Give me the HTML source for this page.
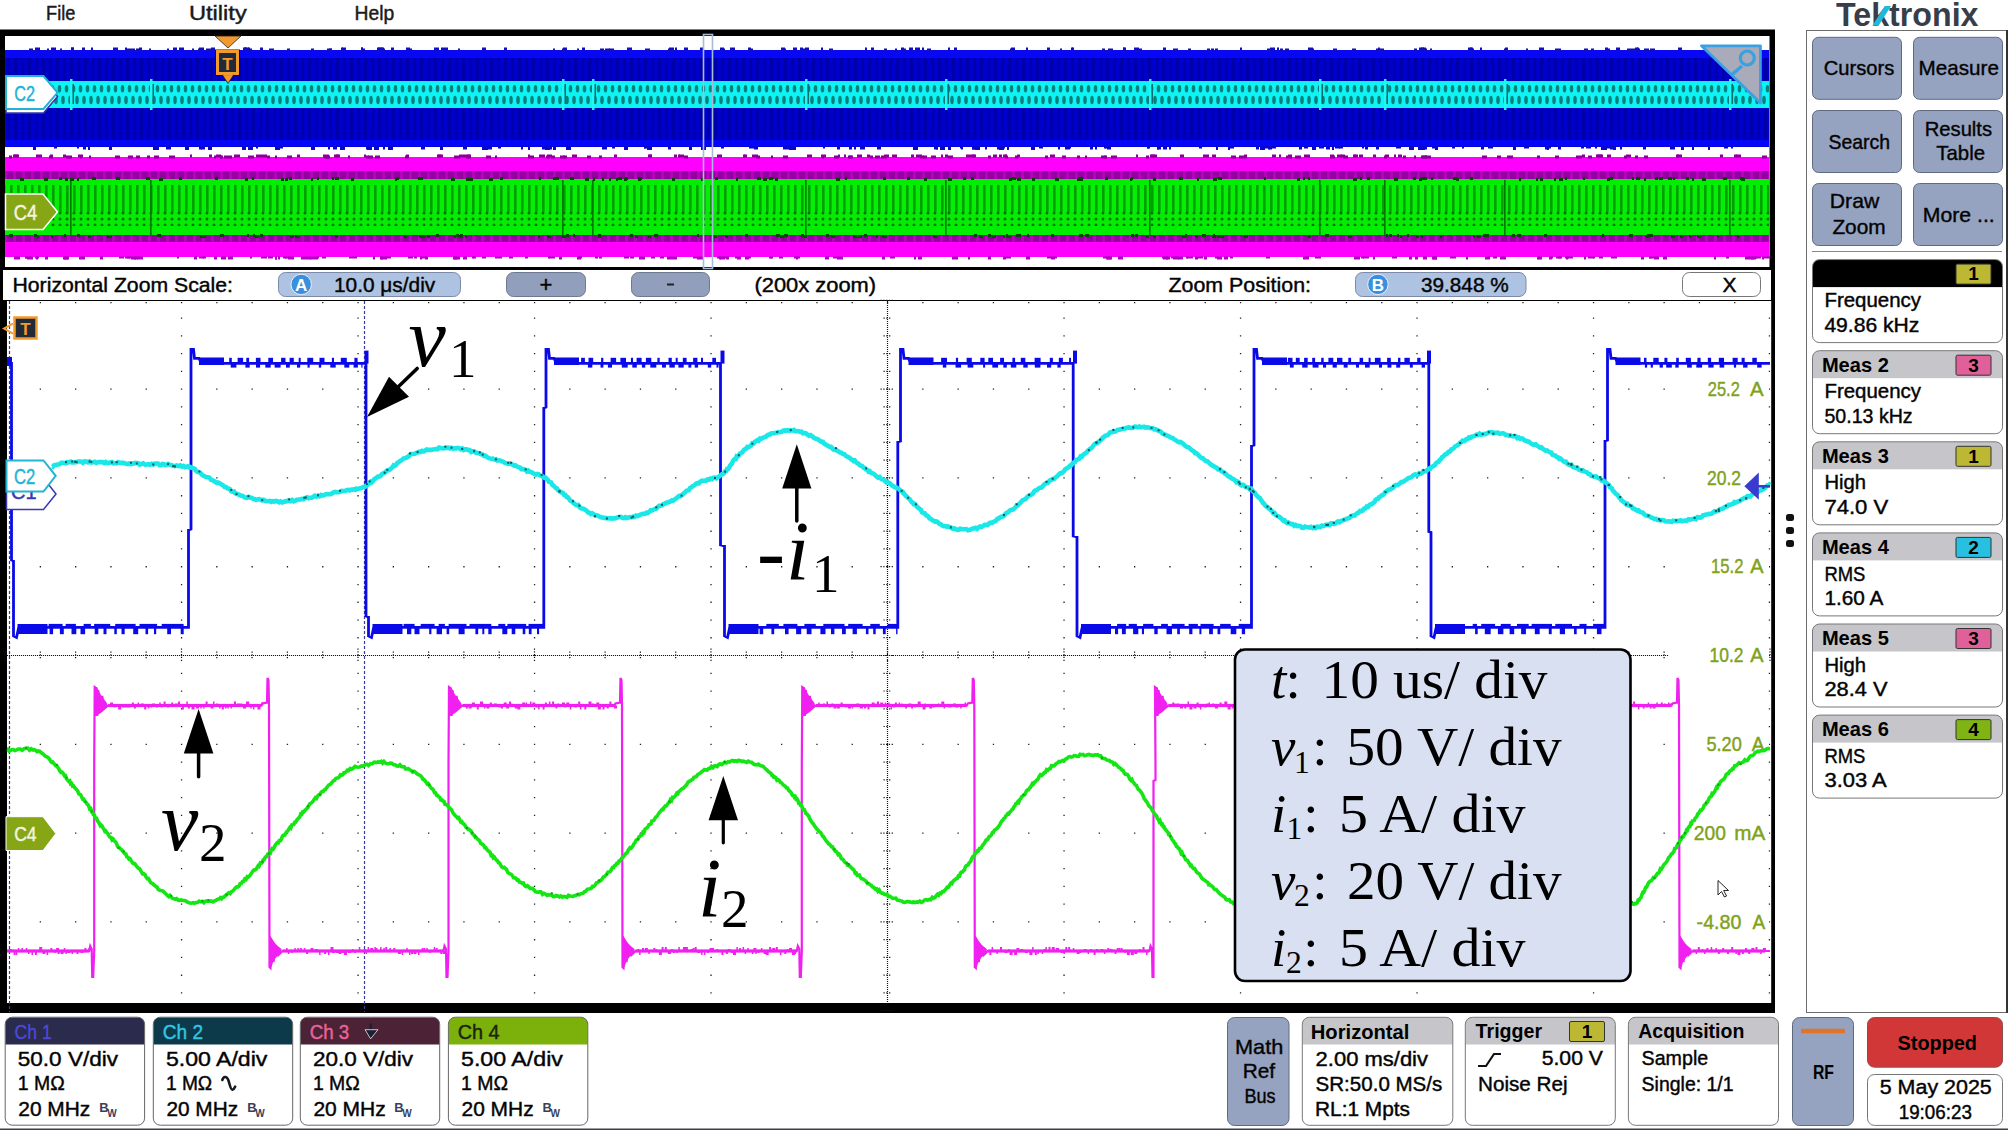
<!DOCTYPE html>
<html><head><meta charset="utf-8"><title>Tektronix oscilloscope</title>
<style>
*{margin:0;padding:0}
html,body{width:2008px;height:1130px;overflow:hidden;background:#fff}
svg{display:block;font-family:"Liberation Sans","DejaVu Sans",sans-serif}
</style></head><body>
<svg width="2008" height="1130" viewBox="0 0 2008 1130">
<rect x="0" y="29.5" width="1775" height="240.5" fill="#000"/>
<rect x="5" y="36" width="1764.5" height="231" fill="#fff"/>
<defs>
<pattern id="pb" x="0" y="0" width="7" height="10" patternUnits="userSpaceOnUse"><rect width="7" height="10" fill="#0000cc"/><rect x="0" width="3" height="10" fill="#0000aa"/></pattern>
<pattern id="pc" x="0" y="81" width="7" height="27" patternUnits="userSpaceOnUse"><rect width="7" height="27" fill="#0ef4f4"/><ellipse cx="3.5" cy="7.8" rx="1.8" ry="3.8" fill="#08807e"/><ellipse cx="0" cy="19" rx="1.8" ry="4.2" fill="#08807e"/><ellipse cx="7" cy="19" rx="1.8" ry="4.2" fill="#08807e"/></pattern>
<pattern id="pg" x="0" y="0" width="7" height="10" patternUnits="userSpaceOnUse"><rect width="7" height="10" fill="#06ee06"/><rect x="3" width="2.6" height="10" fill="#00a000"/></pattern>
<pattern id="pgd" x="0" y="0" width="7" height="6" patternUnits="userSpaceOnUse"><rect width="7" height="6" fill="#06ea06"/><ellipse cx="4" cy="3" rx="1.5" ry="1.5" fill="#007a00"/></pattern>
<pattern id="pm" x="0" y="0" width="9" height="6" patternUnits="userSpaceOnUse"><rect width="9" height="6" fill="#9400a0"/><rect x="4" width="3" height="6" fill="#b800c0"/></pattern>
</defs>
<rect x="5" y="50" width="1764" height="97" fill="url(#pb)"/>
<rect x="5" y="50" width="1764" height="8" fill="#0808f4"/>
<rect x="5" y="140" width="1764" height="6.5" fill="#0606f6"/>
<rect x="48" y="81" width="1721" height="27" fill="url(#pc)"/>
<rect x="5" y="157" width="1764" height="15" fill="#ff00ff"/>
<rect x="5" y="171" width="1764" height="9" fill="url(#pm)"/>
<rect x="5" y="179" width="1764" height="57" fill="url(#pg)"/>
<rect x="5" y="179" width="1764" height="6" fill="#00ee00"/>
<rect x="5" y="212" width="1764" height="14" fill="url(#pgd)"/>
<rect x="5" y="226" width="1764" height="9" fill="#00ee00"/>
<rect x="5" y="235" width="1764" height="7" fill="url(#pm)"/>
<rect x="5" y="242" width="1764" height="15" fill="#ff00ff"/>
<g><rect x="70" y="79" width="2.5" height="31" fill="#20f8f8"/><rect x="72.5" y="84" width="1.5" height="20" fill="#067070"/><rect x="70" y="180" width="1.6" height="55" fill="#007800"/><rect x="150" y="79" width="2.5" height="31" fill="#20f8f8"/><rect x="152.5" y="84" width="1.5" height="20" fill="#067070"/><rect x="150" y="180" width="1.6" height="55" fill="#007800"/><rect x="562" y="79" width="2.5" height="31" fill="#20f8f8"/><rect x="564.5" y="84" width="1.5" height="20" fill="#067070"/><rect x="562" y="180" width="1.6" height="55" fill="#007800"/><rect x="592" y="79" width="2.5" height="31" fill="#20f8f8"/><rect x="594.5" y="84" width="1.5" height="20" fill="#067070"/><rect x="592" y="180" width="1.6" height="55" fill="#007800"/><rect x="805" y="79" width="2.5" height="31" fill="#20f8f8"/><rect x="807.5" y="84" width="1.5" height="20" fill="#067070"/><rect x="805" y="180" width="1.6" height="55" fill="#007800"/><rect x="945" y="79" width="2.5" height="31" fill="#20f8f8"/><rect x="947.5" y="84" width="1.5" height="20" fill="#067070"/><rect x="945" y="180" width="1.6" height="55" fill="#007800"/><rect x="1149" y="79" width="2.5" height="31" fill="#20f8f8"/><rect x="1151.5" y="84" width="1.5" height="20" fill="#067070"/><rect x="1149" y="180" width="1.6" height="55" fill="#007800"/><rect x="1319" y="79" width="2.5" height="31" fill="#20f8f8"/><rect x="1321.5" y="84" width="1.5" height="20" fill="#067070"/><rect x="1319" y="180" width="1.6" height="55" fill="#007800"/><rect x="1384" y="79" width="2.5" height="31" fill="#20f8f8"/><rect x="1386.5" y="84" width="1.5" height="20" fill="#067070"/><rect x="1384" y="180" width="1.6" height="55" fill="#007800"/><rect x="1504" y="79" width="2.5" height="31" fill="#20f8f8"/><rect x="1506.5" y="84" width="1.5" height="20" fill="#067070"/><rect x="1504" y="180" width="1.6" height="55" fill="#007800"/><rect x="1729" y="79" width="2.5" height="31" fill="#20f8f8"/><rect x="1731.5" y="84" width="1.5" height="20" fill="#067070"/><rect x="1729" y="180" width="1.6" height="55" fill="#007800"/><rect x="803" y="48.5" width="5" height="3" fill="#1010c0"/><rect x="901" y="47.5" width="3" height="3" fill="#1010c0"/><rect x="1421" y="47.5" width="5" height="3" fill="#1010c0"/><rect x="173" y="47.5" width="4" height="3" fill="#1010c0"/><rect x="167" y="48.5" width="2" height="3" fill="#1010c0"/><rect x="1704" y="47.5" width="3" height="3" fill="#1010c0"/><rect x="1470" y="47.5" width="2" height="3" fill="#1010c0"/><rect x="71" y="47.5" width="3" height="3" fill="#1010c0"/><rect x="1376" y="48.5" width="4" height="3" fill="#1010c0"/><rect x="1047" y="47.5" width="3" height="3" fill="#1010c0"/><rect x="1134" y="47.5" width="5" height="3" fill="#1010c0"/><rect x="1173" y="48.5" width="5" height="3" fill="#1010c0"/><rect x="723" y="48.5" width="2" height="3" fill="#1010c0"/><rect x="562" y="48.5" width="3" height="3" fill="#1010c0"/><rect x="60" y="48.5" width="2" height="3" fill="#1010c0"/><rect x="198" y="48.5" width="4" height="3" fill="#1010c0"/><rect x="125" y="47.5" width="2" height="3" fill="#1010c0"/><rect x="383" y="48.5" width="2" height="3" fill="#1010c0"/><rect x="668" y="48.5" width="5" height="3" fill="#1010c0"/><rect x="136" y="48.5" width="3" height="3" fill="#1010c0"/><rect x="600" y="48.5" width="4" height="3" fill="#1010c0"/><rect x="35" y="47.5" width="5" height="3" fill="#1010c0"/><rect x="245" y="47.5" width="2" height="3" fill="#1010c0"/><rect x="113" y="47.5" width="5" height="3" fill="#1010c0"/><rect x="1207" y="48.5" width="3" height="3" fill="#1010c0"/><rect x="903" y="48.5" width="3" height="3" fill="#1010c0"/><rect x="1140" y="48.5" width="2" height="3" fill="#1010c0"/><rect x="748" y="47.5" width="3" height="3" fill="#1010c0"/><rect x="482" y="47.5" width="4" height="3" fill="#1010c0"/><rect x="378" y="47.5" width="5" height="3" fill="#1010c0"/><rect x="82" y="47.5" width="3" height="3" fill="#1010c0"/><rect x="784" y="48.5" width="2" height="3" fill="#1010c0"/><rect x="1468" y="47.5" width="5" height="3" fill="#1010c0"/><rect x="139" y="47.5" width="3" height="3" fill="#1010c0"/><rect x="35" y="48.5" width="4" height="3" fill="#1010c0"/><rect x="1102" y="48.5" width="3" height="3" fill="#1010c0"/><rect x="1471" y="48.5" width="3" height="3" fill="#1010c0"/><rect x="329" y="48.5" width="3" height="3" fill="#1010c0"/><rect x="1605" y="47.5" width="3" height="3" fill="#1010c0"/><rect x="287" y="48.5" width="3" height="3" fill="#1010c0"/><rect x="1559" y="48.5" width="2" height="3" fill="#1010c0"/><rect x="91" y="47.5" width="2" height="3" fill="#1010c0"/><rect x="909" y="47.5" width="4" height="3" fill="#1010c0"/><rect x="1309" y="48.5" width="5" height="3" fill="#1010c0"/><rect x="748" y="48.5" width="5" height="3" fill="#1010c0"/><rect x="922" y="47.5" width="2" height="3" fill="#1010c0"/><rect x="410" y="48.5" width="2" height="3" fill="#1010c0"/><rect x="381" y="47.5" width="3" height="3" fill="#1010c0"/><rect x="130" y="48.5" width="5" height="3" fill="#1010c0"/><rect x="446" y="47.5" width="2" height="3" fill="#1010c0"/><rect x="504" y="47.5" width="3" height="3" fill="#1010c0"/><rect x="645" y="48.5" width="5" height="3" fill="#1010c0"/><rect x="1163" y="47.5" width="3" height="3" fill="#1010c0"/><rect x="1632" y="48.5" width="5" height="3" fill="#1010c0"/><rect x="1240" y="47.5" width="2" height="3" fill="#1010c0"/><rect x="1060" y="48.5" width="2" height="3" fill="#1010c0"/><rect x="126" y="48.5" width="4" height="3" fill="#1010c0"/><rect x="248" y="47.5" width="2" height="3" fill="#1010c0"/><rect x="805" y="47.5" width="4" height="3" fill="#1010c0"/><rect x="1591" y="48.5" width="3" height="3" fill="#1010c0"/><rect x="627" y="47.5" width="5" height="3" fill="#1010c0"/><rect x="1539" y="47.5" width="5" height="3" fill="#1010c0"/><rect x="1526" y="48.5" width="2" height="3" fill="#1010c0"/><rect x="675" y="47.5" width="2" height="3" fill="#1010c0"/><rect x="149" y="48.5" width="2" height="3" fill="#1010c0"/><rect x="1555" y="48.5" width="4" height="3" fill="#1010c0"/><rect x="1650" y="48.5" width="5" height="3" fill="#1010c0"/><rect x="821" y="47.5" width="2" height="3" fill="#1010c0"/><rect x="553" y="48.5" width="2" height="3" fill="#1010c0"/><rect x="47" y="48.5" width="2" height="3" fill="#1010c0"/><rect x="1379" y="48.5" width="5" height="3" fill="#1010c0"/><rect x="1584" y="48.5" width="4" height="3" fill="#1010c0"/><rect x="260" y="47.5" width="3" height="3" fill="#1010c0"/><rect x="1333" y="48.5" width="4" height="3" fill="#1010c0"/><rect x="884" y="48.5" width="3" height="3" fill="#1010c0"/><rect x="720" y="47.5" width="4" height="3" fill="#1010c0"/><rect x="1123" y="47.5" width="3" height="3" fill="#1010c0"/><rect x="684" y="47.5" width="4" height="3" fill="#1010c0"/><rect x="247" y="48.5" width="5" height="3" fill="#1010c0"/><rect x="1480" y="47.5" width="2" height="3" fill="#1010c0"/><rect x="1678" y="47.5" width="4" height="3" fill="#1010c0"/><rect x="206" y="48.5" width="5" height="3" fill="#1010c0"/><rect x="1635" y="48.5" width="5" height="3" fill="#1010c0"/><rect x="1108" y="48.5" width="5" height="3" fill="#1010c0"/><rect x="1267" y="48.5" width="5" height="3" fill="#1010c0"/><rect x="139" y="48.5" width="2" height="3" fill="#1010c0"/><rect x="1542" y="48.5" width="2" height="3" fill="#1010c0"/><rect x="1011" y="47.5" width="4" height="3" fill="#1010c0"/><rect x="1135" y="48.5" width="5" height="3" fill="#1010c0"/><rect x="342" y="47.5" width="4" height="3" fill="#1010c0"/><rect x="1378" y="47.5" width="2" height="3" fill="#1010c0"/><rect x="793" y="47.5" width="4" height="3" fill="#1010c0"/><rect x="1211" y="48.5" width="3" height="3" fill="#1010c0"/><rect x="458" y="48.5" width="2" height="3" fill="#1010c0"/><rect x="948" y="47.5" width="2" height="3" fill="#1010c0"/><rect x="406" y="47.5" width="4" height="3" fill="#1010c0"/><rect x="700" y="47.5" width="3" height="3" fill="#1010c0"/><rect x="730" y="47.5" width="5" height="3" fill="#1010c0"/><rect x="800" y="47.5" width="3" height="3" fill="#1010c0"/><rect x="670" y="48.5" width="4" height="3" fill="#1010c0"/><rect x="582" y="47.5" width="3" height="3" fill="#1010c0"/><rect x="1277" y="47.5" width="2" height="3" fill="#1010c0"/><rect x="434" y="47.5" width="5" height="3" fill="#1010c0"/><rect x="1726" y="48.5" width="4" height="3" fill="#1010c0"/><rect x="1608" y="48.5" width="2" height="3" fill="#1010c0"/><rect x="895" y="48.5" width="2" height="3" fill="#1010c0"/><rect x="609" y="48.5" width="5" height="3" fill="#1010c0"/><rect x="865" y="47.5" width="2" height="3" fill="#1010c0"/><rect x="1430" y="48.5" width="2" height="3" fill="#1010c0"/><rect x="1414" y="48.5" width="3" height="3" fill="#1010c0"/><rect x="1215" y="48.5" width="3" height="3" fill="#1010c0"/><rect x="269" y="48.5" width="5" height="3" fill="#1010c0"/><rect x="1026" y="47.5" width="2" height="3" fill="#1010c0"/><rect x="781" y="47.5" width="4" height="3" fill="#1010c0"/><rect x="927" y="48.5" width="4" height="3" fill="#1010c0"/><rect x="1188" y="48.5" width="3" height="3" fill="#1010c0"/><rect x="1504" y="48.5" width="4" height="3" fill="#1010c0"/><rect x="361" y="47.5" width="2" height="3" fill="#1010c0"/><rect x="1072" y="47.5" width="2" height="3" fill="#1010c0"/><rect x="915" y="47.5" width="5" height="3" fill="#1010c0"/><rect x="871" y="47.5" width="3" height="3" fill="#1010c0"/><rect x="1644" y="48.5" width="5" height="3" fill="#1010c0"/><rect x="1627" y="48.5" width="5" height="3" fill="#1010c0"/><rect x="441" y="47.5" width="5" height="3" fill="#1010c0"/><rect x="605" y="48.5" width="5" height="3" fill="#1010c0"/><rect x="199" y="47.5" width="5" height="3" fill="#1010c0"/><rect x="1635" y="47.5" width="3" height="3" fill="#1010c0"/><rect x="71" y="47.5" width="3" height="3" fill="#1010c0"/><rect x="29" y="48.5" width="4" height="3" fill="#1010c0"/><rect x="1280" y="48.5" width="3" height="3" fill="#1010c0"/><rect x="192" y="48.5" width="2" height="3" fill="#1010c0"/><rect x="1270" y="47.5" width="5" height="3" fill="#1010c0"/><rect x="669" y="47.5" width="5" height="3" fill="#1010c0"/><rect x="954" y="47.5" width="3" height="3" fill="#1010c0"/><rect x="1505" y="47.5" width="3" height="3" fill="#1010c0"/><rect x="1616" y="47.5" width="4" height="3" fill="#1010c0"/><rect x="563" y="47.5" width="4" height="3" fill="#1010c0"/><rect x="391" y="47.5" width="3" height="3" fill="#1010c0"/><rect x="243" y="47.5" width="3" height="3" fill="#1010c0"/><rect x="1285" y="48.5" width="4" height="3" fill="#1010c0"/><rect x="179" y="47.5" width="5" height="3" fill="#1010c0"/><rect x="361" y="47.5" width="2" height="3" fill="#1010c0"/><rect x="361" y="48.5" width="4" height="3" fill="#1010c0"/><rect x="211" y="47.5" width="4" height="3" fill="#1010c0"/><rect x="1419" y="47.5" width="5" height="3" fill="#1010c0"/><rect x="51" y="47.5" width="5" height="3" fill="#1010c0"/><rect x="341" y="47.5" width="2" height="3" fill="#1010c0"/><rect x="311" y="48.5" width="3" height="3" fill="#1010c0"/><rect x="1637" y="47.5" width="2" height="3" fill="#1010c0"/><rect x="244" y="47.5" width="5" height="3" fill="#1010c0"/><rect x="1352" y="48.5" width="4" height="3" fill="#1010c0"/><rect x="829" y="48.5" width="4" height="3" fill="#1010c0"/><rect x="377" y="47.5" width="4" height="3" fill="#1010c0"/><rect x="1123" y="47.5" width="2" height="3" fill="#1010c0"/><rect x="327" y="48.5" width="5" height="3" fill="#1010c0"/><rect x="1308" y="47.5" width="5" height="3" fill="#1010c0"/><rect x="1071" y="47.5" width="2" height="3" fill="#1010c0"/><rect x="577" y="48.5" width="2" height="3" fill="#1010c0"/><rect x="1010" y="48.5" width="3" height="3" fill="#1010c0"/><rect x="1423" y="48.5" width="4" height="3" fill="#1010c0"/><rect x="1610" y="146.5" width="3" height="3" fill="#0808c8"/><rect x="242" y="146.5" width="4" height="3.5" fill="#0808c8"/><rect x="1229" y="146.5" width="5" height="2" fill="#0808c8"/><rect x="721" y="146.5" width="3" height="2" fill="#0808c8"/><rect x="1410" y="146.5" width="4" height="3" fill="#0808c8"/><rect x="185" y="146.5" width="4" height="3.5" fill="#0808c8"/><rect x="1595" y="146.5" width="2" height="2" fill="#0808c8"/><rect x="488" y="146.5" width="4" height="3" fill="#0808c8"/><rect x="388" y="146.5" width="5" height="3.5" fill="#0808c8"/><rect x="328" y="146.5" width="2" height="3" fill="#0808c8"/><rect x="913" y="146.5" width="5" height="3.5" fill="#0808c8"/><rect x="383" y="146.5" width="2" height="3" fill="#0808c8"/><rect x="1731" y="146.5" width="2" height="2" fill="#0808c8"/><rect x="1090" y="146.5" width="3" height="3" fill="#0808c8"/><rect x="788" y="146.5" width="2" height="2" fill="#0808c8"/><rect x="1147" y="146.5" width="2" height="2" fill="#0808c8"/><rect x="463" y="146.5" width="4" height="3" fill="#0808c8"/><rect x="975" y="146.5" width="5" height="3.5" fill="#0808c8"/><rect x="1007" y="146.5" width="2" height="3.5" fill="#0808c8"/><rect x="789" y="146.5" width="2" height="3.5" fill="#0808c8"/><rect x="1058" y="146.5" width="2" height="3" fill="#0808c8"/><rect x="1643" y="146.5" width="3" height="3" fill="#0808c8"/><rect x="837" y="146.5" width="3" height="3" fill="#0808c8"/><rect x="961" y="146.5" width="2" height="3" fill="#0808c8"/><rect x="1670" y="146.5" width="5" height="3" fill="#0808c8"/><rect x="934" y="146.5" width="4" height="3" fill="#0808c8"/><rect x="940" y="146.5" width="5" height="3.5" fill="#0808c8"/><rect x="482" y="146.5" width="4" height="3.5" fill="#0808c8"/><rect x="1268" y="146.5" width="4" height="2" fill="#0808c8"/><rect x="33" y="146.5" width="3" height="3.5" fill="#0808c8"/><rect x="83" y="146.5" width="3" height="3" fill="#0808c8"/><rect x="1335" y="146.5" width="5" height="2" fill="#0808c8"/><rect x="1586" y="146.5" width="5" height="2" fill="#0808c8"/><rect x="1031" y="146.5" width="4" height="2" fill="#0808c8"/><rect x="1410" y="146.5" width="3" height="3" fill="#0808c8"/><rect x="1272" y="146.5" width="4" height="2" fill="#0808c8"/><rect x="88" y="146.5" width="2" height="3.5" fill="#0808c8"/><rect x="1607" y="146.5" width="3" height="2" fill="#0808c8"/><rect x="1069" y="146.5" width="2" height="2" fill="#0808c8"/><rect x="1105" y="146.5" width="5" height="2" fill="#0808c8"/><rect x="366" y="146.5" width="2" height="3" fill="#0808c8"/><rect x="936" y="146.5" width="2" height="3" fill="#0808c8"/><rect x="787" y="146.5" width="5" height="3" fill="#0808c8"/><rect x="1065" y="146.5" width="5" height="3" fill="#0808c8"/><rect x="1376" y="146.5" width="3" height="3" fill="#0808c8"/><rect x="1299" y="146.5" width="3" height="3" fill="#0808c8"/><rect x="208" y="146.5" width="4" height="3.5" fill="#0808c8"/><rect x="1107" y="146.5" width="4" height="3" fill="#0808c8"/><rect x="485" y="146.5" width="3" height="3.5" fill="#0808c8"/><rect x="498" y="146.5" width="3" height="2" fill="#0808c8"/><rect x="1681" y="146.5" width="3" height="3.5" fill="#0808c8"/><rect x="77" y="146.5" width="2" height="2" fill="#0808c8"/><rect x="484" y="146.5" width="5" height="2" fill="#0808c8"/><rect x="1104" y="146.5" width="2" height="2" fill="#0808c8"/><rect x="960" y="146.5" width="2" height="2" fill="#0808c8"/><rect x="1613" y="146.5" width="3" height="3.5" fill="#0808c8"/><rect x="421" y="146.5" width="4" height="3" fill="#0808c8"/><rect x="849" y="146.5" width="3" height="3" fill="#0808c8"/><rect x="612" y="146.5" width="3" height="2" fill="#0808c8"/><rect x="1418" y="146.5" width="5" height="3.5" fill="#0808c8"/><rect x="1481" y="146.5" width="3" height="3" fill="#0808c8"/><rect x="754" y="146.5" width="4" height="3" fill="#0808c8"/><rect x="1432" y="146.5" width="4" height="2" fill="#0808c8"/><rect x="1157" y="146.5" width="4" height="3" fill="#0808c8"/><rect x="972" y="146.5" width="3" height="3" fill="#0808c8"/><rect x="1157" y="146.5" width="2" height="3" fill="#0808c8"/><rect x="1547" y="146.5" width="2" height="3.5" fill="#0808c8"/><rect x="154" y="146.5" width="5" height="3.5" fill="#0808c8"/><rect x="823" y="146.5" width="2" height="2" fill="#0808c8"/><rect x="553" y="146.5" width="2" height="3.5" fill="#0808c8"/><rect x="542" y="146.5" width="4" height="3" fill="#0808c8"/><rect x="1558" y="146.5" width="3" height="3" fill="#0808c8"/><rect x="1163" y="146.5" width="4" height="3" fill="#0808c8"/><rect x="1601" y="146.5" width="4" height="3.5" fill="#0808c8"/><rect x="783" y="146.5" width="4" height="3" fill="#0808c8"/><rect x="940" y="146.5" width="4" height="3" fill="#0808c8"/><rect x="566" y="146.5" width="5" height="3.5" fill="#0808c8"/><rect x="1581" y="146.5" width="3" height="2" fill="#0808c8"/><rect x="644" y="146.5" width="4" height="2" fill="#0808c8"/><rect x="647" y="146.5" width="5" height="3.5" fill="#0808c8"/><rect x="689" y="146.5" width="3" height="3.5" fill="#0808c8"/><rect x="999" y="146.5" width="5" height="3.5" fill="#0808c8"/><rect x="280" y="146.5" width="3" height="2" fill="#0808c8"/><rect x="166" y="146.5" width="5" height="3" fill="#0808c8"/><rect x="1435" y="146.5" width="3" height="3.5" fill="#0808c8"/><rect x="109" y="146.5" width="3" height="3.5" fill="#0808c8"/><rect x="528" y="146.5" width="2" height="3.5" fill="#0808c8"/><rect x="1488" y="146.5" width="5" height="2" fill="#0808c8"/><rect x="1031" y="146.5" width="4" height="3.5" fill="#0808c8"/><rect x="156" y="146.5" width="2" height="3" fill="#0808c8"/><rect x="1304" y="146.5" width="4" height="2" fill="#0808c8"/><rect x="54" y="146.5" width="3" height="2" fill="#0808c8"/><rect x="1319" y="146.5" width="5" height="2" fill="#0808c8"/><rect x="1260" y="146.5" width="5" height="3.5" fill="#0808c8"/><rect x="602" y="146.5" width="5" height="3" fill="#0808c8"/><rect x="624" y="146.5" width="4" height="3.5" fill="#0808c8"/><rect x="248" y="146.5" width="5" height="3.5" fill="#0808c8"/><rect x="1423" y="146.5" width="2" height="3.5" fill="#0808c8"/><rect x="1095" y="146.5" width="2" height="3" fill="#0808c8"/><rect x="1339" y="146.5" width="4" height="2" fill="#0808c8"/><rect x="1425" y="146.5" width="2" height="3" fill="#0808c8"/><rect x="1692" y="146.5" width="2" height="3.5" fill="#0808c8"/><rect x="644" y="146.5" width="2" height="2" fill="#0808c8"/><rect x="749" y="146.5" width="5" height="2" fill="#0808c8"/><rect x="440" y="146.5" width="3" height="3.5" fill="#0808c8"/><rect x="668" y="146.5" width="3" height="3" fill="#0808c8"/><rect x="367" y="146.5" width="5" height="3.5" fill="#0808c8"/><rect x="521" y="146.5" width="2" height="3" fill="#0808c8"/><rect x="550" y="146.5" width="2" height="3" fill="#0808c8"/><rect x="1147" y="146.5" width="3" height="2" fill="#0808c8"/><rect x="1332" y="146.5" width="2" height="3.5" fill="#0808c8"/><rect x="854" y="146.5" width="2" height="3" fill="#0808c8"/><rect x="199" y="146.5" width="3" height="3" fill="#0808c8"/><rect x="390" y="146.5" width="3" height="3.5" fill="#0808c8"/><rect x="1269" y="146.5" width="3" height="3" fill="#0808c8"/><rect x="333" y="146.5" width="4" height="3" fill="#0808c8"/><rect x="311" y="146.5" width="4" height="3.5" fill="#0808c8"/><rect x="972" y="146.5" width="5" height="3" fill="#0808c8"/><rect x="860" y="146.5" width="5" height="3" fill="#0808c8"/><rect x="1169" y="146.5" width="2" height="3" fill="#0808c8"/><rect x="1524" y="146.5" width="5" height="2" fill="#0808c8"/><rect x="390" y="146.5" width="3" height="3" fill="#0808c8"/><rect x="1724" y="146.5" width="4" height="2" fill="#0808c8"/><rect x="1164" y="146.5" width="3" height="2" fill="#0808c8"/><rect x="1545" y="146.5" width="4" height="3" fill="#0808c8"/><rect x="1409" y="146.5" width="5" height="3.5" fill="#0808c8"/><rect x="1546" y="146.5" width="5" height="2" fill="#0808c8"/><rect x="1365" y="146.5" width="3" height="3" fill="#0808c8"/><rect x="1604" y="146.5" width="3" height="3.5" fill="#0808c8"/><rect x="1312" y="146.5" width="4" height="3.5" fill="#0808c8"/><rect x="948" y="146.5" width="3" height="3.5" fill="#0808c8"/><rect x="1362" y="146.5" width="2" height="2" fill="#0808c8"/><rect x="1452" y="146.5" width="3" height="2" fill="#0808c8"/><rect x="153" y="146.5" width="4" height="3.5" fill="#0808c8"/><rect x="1268" y="146.5" width="2" height="3" fill="#0808c8"/><rect x="1228" y="146.5" width="2" height="3.5" fill="#0808c8"/><rect x="1039" y="146.5" width="4" height="2" fill="#0808c8"/><rect x="1396" y="146.5" width="5" height="2" fill="#0808c8"/><rect x="1620" y="146.5" width="2" height="3" fill="#0808c8"/><rect x="374" y="146.5" width="5" height="3.5" fill="#0808c8"/><rect x="877" y="146.5" width="4" height="3" fill="#0808c8"/><rect x="554" y="146.5" width="2" height="3.5" fill="#0808c8"/><rect x="545" y="146.5" width="5" height="3.5" fill="#0808c8"/><rect x="1265" y="146.5" width="4" height="2" fill="#0808c8"/><rect x="1216" y="146.5" width="2" height="3.5" fill="#0808c8"/><rect x="701" y="146.5" width="5" height="3.5" fill="#0808c8"/><rect x="1708" y="146.5" width="2" height="3.5" fill="#0808c8"/><rect x="791" y="146.5" width="5" height="3.5" fill="#0808c8"/><rect x="1256" y="146.5" width="3" height="3" fill="#0808c8"/><rect x="1000" y="146.5" width="5" height="2" fill="#0808c8"/><rect x="1513" y="146.5" width="3" height="3.5" fill="#0808c8"/><rect x="275" y="146.5" width="5" height="3.5" fill="#0808c8"/><rect x="1326" y="146.5" width="4" height="3" fill="#0808c8"/><rect x="985" y="146.5" width="2" height="3" fill="#0808c8"/><rect x="340" y="146.5" width="5" height="3.5" fill="#0808c8"/><rect x="201" y="146.5" width="4" height="3" fill="#0808c8"/><rect x="997" y="146.5" width="4" height="3" fill="#0808c8"/><rect x="1462" y="146.5" width="2" height="2" fill="#0808c8"/><rect x="256" y="146.5" width="2" height="2" fill="#0808c8"/><rect x="1199" y="146.5" width="3" height="2" fill="#0808c8"/><rect x="348" y="155.5" width="2" height="3" fill="#8a0096"/><rect x="1050" y="154.5" width="2" height="3" fill="#8a0096"/><rect x="406" y="154.5" width="3" height="3" fill="#8a0096"/><rect x="771" y="155.5" width="2" height="3" fill="#8a0096"/><rect x="1626" y="154.5" width="5" height="3" fill="#8a0096"/><rect x="1146" y="155.5" width="3" height="3" fill="#8a0096"/><rect x="857" y="154.5" width="5" height="3" fill="#8a0096"/><rect x="1286" y="155.5" width="6" height="3" fill="#8a0096"/><rect x="1734" y="154.5" width="3" height="3" fill="#8a0096"/><rect x="466" y="155.5" width="3" height="3" fill="#8a0096"/><rect x="547" y="154.5" width="5" height="3" fill="#8a0096"/><rect x="988" y="155.5" width="3" height="3" fill="#8a0096"/><rect x="1394" y="154.5" width="2" height="3" fill="#8a0096"/><rect x="454" y="155.5" width="6" height="3" fill="#8a0096"/><rect x="972" y="154.5" width="4" height="3" fill="#8a0096"/><rect x="1017" y="154.5" width="3" height="3" fill="#8a0096"/><rect x="1005" y="154.5" width="2" height="3" fill="#8a0096"/><rect x="1373" y="154.5" width="3" height="3" fill="#8a0096"/><rect x="848" y="155.5" width="5" height="3" fill="#8a0096"/><rect x="587" y="155.5" width="4" height="3" fill="#8a0096"/><rect x="822" y="155.5" width="2" height="3" fill="#8a0096"/><rect x="1720" y="154.5" width="3" height="3" fill="#8a0096"/><rect x="1597" y="154.5" width="6" height="3" fill="#8a0096"/><rect x="993" y="154.5" width="4" height="3" fill="#8a0096"/><rect x="1607" y="154.5" width="4" height="3" fill="#8a0096"/><rect x="224" y="155.5" width="2" height="3" fill="#8a0096"/><rect x="1212" y="154.5" width="4" height="3" fill="#8a0096"/><rect x="1341" y="154.5" width="4" height="3" fill="#8a0096"/><rect x="334" y="154.5" width="6" height="3" fill="#8a0096"/><rect x="807" y="154.5" width="5" height="3" fill="#8a0096"/><rect x="1384" y="155.5" width="3" height="3" fill="#8a0096"/><rect x="1337" y="154.5" width="5" height="3" fill="#8a0096"/><rect x="287" y="155.5" width="5" height="3" fill="#8a0096"/><rect x="66" y="155.5" width="6" height="3" fill="#8a0096"/><rect x="216" y="154.5" width="5" height="3" fill="#8a0096"/><rect x="599" y="155.5" width="3" height="3" fill="#8a0096"/><rect x="437" y="154.5" width="4" height="3" fill="#8a0096"/><rect x="1136" y="154.5" width="2" height="3" fill="#8a0096"/><rect x="717" y="154.5" width="5" height="3" fill="#8a0096"/><rect x="834" y="155.5" width="5" height="3" fill="#8a0096"/><rect x="1330" y="155.5" width="5" height="3" fill="#8a0096"/><rect x="1482" y="155.5" width="5" height="3" fill="#8a0096"/><rect x="214" y="155.5" width="2" height="3" fill="#8a0096"/><rect x="931" y="155.5" width="5" height="3" fill="#8a0096"/><rect x="1598" y="154.5" width="4" height="3" fill="#8a0096"/><rect x="528" y="155.5" width="6" height="3" fill="#8a0096"/><rect x="1295" y="155.5" width="6" height="3" fill="#8a0096"/><rect x="1330" y="154.5" width="4" height="3" fill="#8a0096"/><rect x="438" y="154.5" width="5" height="3" fill="#8a0096"/><rect x="892" y="154.5" width="5" height="3" fill="#8a0096"/><rect x="844" y="154.5" width="2" height="3" fill="#8a0096"/><rect x="966" y="154.5" width="5" height="3" fill="#8a0096"/><rect x="1555" y="155.5" width="4" height="3" fill="#8a0096"/><rect x="999" y="154.5" width="3" height="3" fill="#8a0096"/><rect x="1150" y="154.5" width="5" height="3" fill="#8a0096"/><rect x="1596" y="154.5" width="2" height="3" fill="#8a0096"/><rect x="226" y="155.5" width="6" height="3" fill="#8a0096"/><rect x="9" y="155.5" width="3" height="3" fill="#8a0096"/><rect x="50" y="154.5" width="3" height="3" fill="#8a0096"/><rect x="783" y="155.5" width="5" height="3" fill="#8a0096"/><rect x="256" y="154.5" width="6" height="3" fill="#8a0096"/><rect x="89" y="155.5" width="2" height="3" fill="#8a0096"/><rect x="1588" y="155.5" width="4" height="3" fill="#8a0096"/><rect x="884" y="154.5" width="5" height="3" fill="#8a0096"/><rect x="364" y="154.5" width="2" height="3" fill="#8a0096"/><rect x="563" y="155.5" width="4" height="3" fill="#8a0096"/><rect x="36" y="154.5" width="6" height="3" fill="#8a0096"/><rect x="945" y="154.5" width="3" height="3" fill="#8a0096"/><rect x="1677" y="154.5" width="2" height="3" fill="#8a0096"/><rect x="546" y="155.5" width="4" height="3" fill="#8a0096"/><rect x="1537" y="155.5" width="3" height="3" fill="#8a0096"/><rect x="1231" y="155.5" width="5" height="3" fill="#8a0096"/><rect x="147" y="155.5" width="3" height="3" fill="#8a0096"/><rect x="220" y="155.5" width="3" height="3" fill="#8a0096"/><rect x="326" y="155.5" width="3" height="3" fill="#8a0096"/><rect x="1398" y="154.5" width="4" height="3" fill="#8a0096"/><rect x="1045" y="155.5" width="3" height="3" fill="#8a0096"/><rect x="1582" y="154.5" width="3" height="3" fill="#8a0096"/><rect x="495" y="155.5" width="2" height="3" fill="#8a0096"/><rect x="1736" y="154.5" width="5" height="3" fill="#8a0096"/><rect x="941" y="154.5" width="2" height="3" fill="#8a0096"/><rect x="1062" y="155.5" width="4" height="3" fill="#8a0096"/><rect x="752" y="154.5" width="6" height="3" fill="#8a0096"/><rect x="297" y="154.5" width="3" height="3" fill="#8a0096"/><rect x="323" y="154.5" width="6" height="3" fill="#8a0096"/><rect x="336" y="154.5" width="3" height="3" fill="#8a0096"/><rect x="1101" y="155.5" width="6" height="3" fill="#8a0096"/><rect x="13" y="154.5" width="5" height="3" fill="#8a0096"/><rect x="324" y="155.5" width="6" height="3" fill="#8a0096"/><rect x="572" y="154.5" width="5" height="3" fill="#8a0096"/><rect x="916" y="154.5" width="6" height="3" fill="#8a0096"/><rect x="1052" y="154.5" width="3" height="3" fill="#8a0096"/><rect x="1077" y="155.5" width="3" height="3" fill="#8a0096"/><rect x="971" y="154.5" width="4" height="3" fill="#8a0096"/><rect x="465" y="154.5" width="6" height="3" fill="#8a0096"/><rect x="1507" y="155.5" width="6" height="3" fill="#8a0096"/><rect x="467" y="154.5" width="3" height="3" fill="#8a0096"/><rect x="1015" y="155.5" width="3" height="3" fill="#8a0096"/><rect x="275" y="155.5" width="2" height="3" fill="#8a0096"/><rect x="1425" y="155.5" width="6" height="3" fill="#8a0096"/><rect x="1279" y="154.5" width="2" height="3" fill="#8a0096"/><rect x="209" y="154.5" width="3" height="3" fill="#8a0096"/><rect x="1104" y="155.5" width="2" height="3" fill="#8a0096"/><rect x="756" y="155.5" width="4" height="3" fill="#8a0096"/><rect x="1353" y="154.5" width="5" height="3" fill="#8a0096"/><rect x="1151" y="154.5" width="6" height="3" fill="#8a0096"/><rect x="674" y="154.5" width="3" height="3" fill="#8a0096"/><rect x="881" y="155.5" width="6" height="3" fill="#8a0096"/><rect x="115" y="155.5" width="5" height="3" fill="#8a0096"/><rect x="649" y="154.5" width="3" height="3" fill="#8a0096"/><rect x="234" y="154.5" width="6" height="3" fill="#8a0096"/><rect x="262" y="154.5" width="5" height="3" fill="#8a0096"/><rect x="14" y="154.5" width="5" height="3" fill="#8a0096"/><rect x="169" y="155.5" width="6" height="3" fill="#8a0096"/><rect x="838" y="154.5" width="2" height="3" fill="#8a0096"/><rect x="1203" y="154.5" width="6" height="3" fill="#8a0096"/><rect x="528" y="154.5" width="2" height="3" fill="#8a0096"/><rect x="743" y="154.5" width="2" height="3" fill="#8a0096"/><rect x="648" y="154.5" width="4" height="3" fill="#8a0096"/><rect x="78" y="154.5" width="5" height="3" fill="#8a0096"/><rect x="1304" y="154.5" width="6" height="3" fill="#8a0096"/><rect x="821" y="154.5" width="5" height="3" fill="#8a0096"/><rect x="678" y="154.5" width="2" height="3" fill="#8a0096"/><rect x="744" y="154.5" width="3" height="3" fill="#8a0096"/><rect x="1403" y="155.5" width="3" height="3" fill="#8a0096"/><rect x="366" y="155.5" width="3" height="3" fill="#8a0096"/><rect x="1343" y="155.5" width="5" height="3" fill="#8a0096"/><rect x="870" y="155.5" width="3" height="3" fill="#8a0096"/><rect x="368" y="155.5" width="5" height="3" fill="#8a0096"/><rect x="136" y="155.5" width="4" height="3" fill="#8a0096"/><rect x="1676" y="154.5" width="6" height="3" fill="#8a0096"/><rect x="920" y="155.5" width="4" height="3" fill="#8a0096"/><rect x="1005" y="155.5" width="3" height="3" fill="#8a0096"/><rect x="190" y="154.5" width="2" height="3" fill="#8a0096"/><rect x="1288" y="154.5" width="4" height="3" fill="#8a0096"/><rect x="1354" y="154.5" width="2" height="3" fill="#8a0096"/><rect x="1762" y="155.5" width="5" height="3" fill="#8a0096"/><rect x="154" y="155.5" width="5" height="3" fill="#8a0096"/><rect x="459" y="154.5" width="6" height="3" fill="#8a0096"/><rect x="539" y="154.5" width="6" height="3" fill="#8a0096"/><rect x="867" y="154.5" width="3" height="3" fill="#8a0096"/><rect x="911" y="154.5" width="3" height="3" fill="#8a0096"/><rect x="375" y="155.5" width="5" height="3" fill="#8a0096"/><rect x="849" y="155.5" width="3" height="3" fill="#8a0096"/><rect x="560" y="155.5" width="5" height="3" fill="#8a0096"/><rect x="267" y="155.5" width="3" height="3" fill="#8a0096"/><rect x="948" y="155.5" width="5" height="3" fill="#8a0096"/><rect x="248" y="155.5" width="6" height="3" fill="#8a0096"/><rect x="405" y="155.5" width="4" height="3" fill="#8a0096"/><rect x="614" y="154.5" width="3" height="3" fill="#8a0096"/><rect x="80" y="155.5" width="2" height="3" fill="#8a0096"/><rect x="1003" y="154.5" width="4" height="3" fill="#8a0096"/><rect x="1624" y="155.5" width="3" height="3" fill="#8a0096"/><rect x="1180" y="154.5" width="4" height="3" fill="#8a0096"/><rect x="1385" y="154.5" width="4" height="3" fill="#8a0096"/><rect x="1414" y="155.5" width="2" height="3" fill="#8a0096"/><rect x="875" y="155.5" width="5" height="3" fill="#8a0096"/><rect x="1644" y="155.5" width="4" height="3" fill="#8a0096"/><rect x="1244" y="154.5" width="3" height="3" fill="#8a0096"/><rect x="1635" y="155.5" width="3" height="3" fill="#8a0096"/><rect x="1359" y="154.5" width="4" height="3" fill="#8a0096"/><rect x="923" y="155.5" width="4" height="3" fill="#8a0096"/><rect x="1422" y="155.5" width="5" height="3" fill="#8a0096"/><rect x="1241" y="155.5" width="6" height="3" fill="#8a0096"/><rect x="1239" y="155.5" width="2" height="3" fill="#8a0096"/><rect x="220" y="155.5" width="2" height="3" fill="#8a0096"/><rect x="486" y="155.5" width="5" height="3" fill="#8a0096"/><rect x="1497" y="155.5" width="4" height="3" fill="#8a0096"/><rect x="1272" y="154.5" width="4" height="3" fill="#8a0096"/><rect x="49" y="155.5" width="4" height="3" fill="#8a0096"/><rect x="1576" y="155.5" width="6" height="3" fill="#8a0096"/><rect x="468" y="155.5" width="3" height="3" fill="#8a0096"/><rect x="684" y="155.5" width="4" height="3" fill="#8a0096"/><rect x="63" y="154.5" width="3" height="3" fill="#8a0096"/><rect x="1111" y="155.5" width="6" height="3" fill="#8a0096"/><rect x="1085" y="155.5" width="2" height="3" fill="#8a0096"/><rect x="128" y="155.5" width="5" height="3" fill="#8a0096"/><rect x="679" y="154.5" width="5" height="3" fill="#8a0096"/><rect x="1421" y="155.5" width="6" height="3" fill="#8a0096"/><rect x="551" y="155.5" width="4" height="3" fill="#8a0096"/><rect x="1726" y="256.5" width="3" height="2" fill="#b000c0"/><rect x="482" y="256.5" width="4" height="2" fill="#b000c0"/><rect x="420" y="256.5" width="2" height="3" fill="#b000c0"/><rect x="14" y="256.5" width="6" height="3" fill="#b000c0"/><rect x="1500" y="256.5" width="6" height="2" fill="#b000c0"/><rect x="1106" y="256.5" width="6" height="3" fill="#b000c0"/><rect x="472" y="256.5" width="2" height="2" fill="#b000c0"/><rect x="559" y="256.5" width="3" height="3" fill="#b000c0"/><rect x="1215" y="256.5" width="3" height="2" fill="#b000c0"/><rect x="288" y="256.5" width="6" height="3" fill="#b000c0"/><rect x="1423" y="256.5" width="4" height="3" fill="#b000c0"/><rect x="737" y="256.5" width="4" height="3" fill="#b000c0"/><rect x="425" y="256.5" width="3" height="3" fill="#b000c0"/><rect x="579" y="256.5" width="3" height="2" fill="#b000c0"/><rect x="1551" y="256.5" width="2" height="2" fill="#b000c0"/><rect x="1565" y="256.5" width="4" height="2" fill="#b000c0"/><rect x="1500" y="256.5" width="6" height="3" fill="#b000c0"/><rect x="79" y="256.5" width="6" height="3" fill="#b000c0"/><rect x="1537" y="256.5" width="2" height="3" fill="#b000c0"/><rect x="454" y="256.5" width="6" height="3" fill="#b000c0"/><rect x="453" y="256.5" width="4" height="3" fill="#b000c0"/><rect x="1266" y="256.5" width="4" height="2" fill="#b000c0"/><rect x="595" y="256.5" width="3" height="2" fill="#b000c0"/><rect x="1006" y="256.5" width="5" height="2" fill="#b000c0"/><rect x="1103" y="256.5" width="4" height="2" fill="#b000c0"/><rect x="228" y="256.5" width="5" height="3" fill="#b000c0"/><rect x="414" y="256.5" width="3" height="2" fill="#b000c0"/><rect x="837" y="256.5" width="3" height="3" fill="#b000c0"/><rect x="1217" y="256.5" width="5" height="3" fill="#b000c0"/><rect x="1118" y="256.5" width="5" height="3" fill="#b000c0"/><rect x="1649" y="256.5" width="3" height="2" fill="#b000c0"/><rect x="285" y="256.5" width="2" height="2" fill="#b000c0"/><rect x="349" y="256.5" width="4" height="2" fill="#b000c0"/><rect x="719" y="256.5" width="2" height="3" fill="#b000c0"/><rect x="309" y="256.5" width="2" height="3" fill="#b000c0"/><rect x="779" y="256.5" width="4" height="2" fill="#b000c0"/><rect x="697" y="256.5" width="6" height="3" fill="#b000c0"/><rect x="1354" y="256.5" width="6" height="3" fill="#b000c0"/><rect x="1195" y="256.5" width="3" height="3" fill="#b000c0"/><rect x="1415" y="256.5" width="3" height="3" fill="#b000c0"/><rect x="316" y="256.5" width="2" height="3" fill="#b000c0"/><rect x="1556" y="256.5" width="5" height="2" fill="#b000c0"/><rect x="275" y="256.5" width="2" height="3" fill="#b000c0"/><rect x="1003" y="256.5" width="3" height="3" fill="#b000c0"/><rect x="1107" y="256.5" width="4" height="3" fill="#b000c0"/><rect x="408" y="256.5" width="5" height="2" fill="#b000c0"/><rect x="651" y="256.5" width="4" height="2" fill="#b000c0"/><rect x="275" y="256.5" width="2" height="3" fill="#b000c0"/><rect x="1186" y="256.5" width="2" height="2" fill="#b000c0"/><rect x="599" y="256.5" width="3" height="2" fill="#b000c0"/><rect x="1751" y="256.5" width="5" height="3" fill="#b000c0"/><rect x="64" y="256.5" width="4" height="3" fill="#b000c0"/><rect x="988" y="256.5" width="3" height="3" fill="#b000c0"/><rect x="495" y="256.5" width="4" height="2" fill="#b000c0"/><rect x="1756" y="256.5" width="5" height="2" fill="#b000c0"/><rect x="317" y="256.5" width="2" height="2" fill="#b000c0"/><rect x="956" y="256.5" width="2" height="3" fill="#b000c0"/><rect x="639" y="256.5" width="6" height="3" fill="#b000c0"/><rect x="119" y="256.5" width="5" height="2" fill="#b000c0"/><rect x="1566" y="256.5" width="2" height="3" fill="#b000c0"/><rect x="27" y="256.5" width="6" height="3" fill="#b000c0"/><rect x="1432" y="256.5" width="5" height="3" fill="#b000c0"/><rect x="549" y="256.5" width="6" height="2" fill="#b000c0"/><rect x="1654" y="256.5" width="5" height="3" fill="#b000c0"/><rect x="1485" y="256.5" width="5" height="3" fill="#b000c0"/><rect x="1588" y="256.5" width="6" height="2" fill="#b000c0"/><rect x="25" y="256.5" width="3" height="2" fill="#b000c0"/><rect x="577" y="256.5" width="4" height="3" fill="#b000c0"/><rect x="1433" y="256.5" width="4" height="3" fill="#b000c0"/><rect x="630" y="256.5" width="4" height="2" fill="#b000c0"/><rect x="1599" y="256.5" width="4" height="2" fill="#b000c0"/><rect x="473" y="256.5" width="3" height="2" fill="#b000c0"/><rect x="380" y="256.5" width="3" height="3" fill="#b000c0"/><rect x="1204" y="256.5" width="3" height="3" fill="#b000c0"/><rect x="194" y="256.5" width="3" height="3" fill="#b000c0"/><rect x="624" y="256.5" width="5" height="2" fill="#b000c0"/><rect x="25" y="256.5" width="6" height="2" fill="#b000c0"/><rect x="717" y="256.5" width="4" height="2" fill="#b000c0"/><rect x="45" y="256.5" width="3" height="3" fill="#b000c0"/><rect x="125" y="256.5" width="6" height="2" fill="#b000c0"/><rect x="1026" y="256.5" width="4" height="3" fill="#b000c0"/><rect x="840" y="256.5" width="3" height="3" fill="#b000c0"/><rect x="726" y="256.5" width="3" height="3" fill="#b000c0"/><rect x="131" y="256.5" width="5" height="3" fill="#b000c0"/><rect x="1558" y="256.5" width="4" height="2" fill="#b000c0"/><rect x="268" y="256.5" width="5" height="2" fill="#b000c0"/><rect x="381" y="256.5" width="6" height="3" fill="#b000c0"/><rect x="1568" y="256.5" width="5" height="2" fill="#b000c0"/><rect x="221" y="256.5" width="5" height="3" fill="#b000c0"/><rect x="1178" y="256.5" width="5" height="3" fill="#b000c0"/><rect x="890" y="256.5" width="5" height="2" fill="#b000c0"/><rect x="914" y="256.5" width="2" height="3" fill="#b000c0"/><rect x="794" y="256.5" width="6" height="2" fill="#b000c0"/><rect x="1053" y="256.5" width="4" height="2" fill="#b000c0"/><rect x="952" y="256.5" width="4" height="3" fill="#b000c0"/><rect x="1305" y="256.5" width="4" height="2" fill="#b000c0"/><rect x="1303" y="256.5" width="6" height="3" fill="#b000c0"/><rect x="100" y="256.5" width="3" height="3" fill="#b000c0"/><rect x="203" y="256.5" width="3" height="2" fill="#b000c0"/><rect x="1466" y="256.5" width="2" height="3" fill="#b000c0"/><rect x="1755" y="256.5" width="2" height="2" fill="#b000c0"/><rect x="1538" y="256.5" width="4" height="3" fill="#b000c0"/><rect x="918" y="256.5" width="4" height="3" fill="#b000c0"/><rect x="373" y="256.5" width="2" height="3" fill="#b000c0"/><rect x="353" y="256.5" width="4" height="2" fill="#b000c0"/><rect x="137" y="256.5" width="6" height="3" fill="#b000c0"/><rect x="1392" y="256.5" width="5" height="2" fill="#b000c0"/><rect x="135" y="256.5" width="5" height="2" fill="#b000c0"/><rect x="1363" y="256.5" width="6" height="2" fill="#b000c0"/><rect x="1409" y="256.5" width="3" height="3" fill="#b000c0"/><rect x="322" y="256.5" width="4" height="2" fill="#b000c0"/><rect x="1641" y="256.5" width="3" height="3" fill="#b000c0"/><rect x="214" y="256.5" width="3" height="3" fill="#b000c0"/><rect x="63" y="256.5" width="6" height="3" fill="#b000c0"/><rect x="1593" y="256.5" width="2" height="2" fill="#b000c0"/><rect x="1745" y="256.5" width="3" height="3" fill="#b000c0"/><rect x="1549" y="256.5" width="3" height="3" fill="#b000c0"/><rect x="673" y="256.5" width="4" height="3" fill="#b000c0"/><rect x="1493" y="256.5" width="4" height="2" fill="#b000c0"/><rect x="1230" y="256.5" width="3" height="2" fill="#b000c0"/><rect x="310" y="256.5" width="6" height="3" fill="#b000c0"/><rect x="81" y="256.5" width="4" height="2" fill="#b000c0"/><rect x="463" y="256.5" width="4" height="3" fill="#b000c0"/><rect x="548" y="256.5" width="2" height="2" fill="#b000c0"/><rect x="1224" y="256.5" width="4" height="3" fill="#b000c0"/><rect x="1361" y="256.5" width="3" height="2" fill="#b000c0"/><rect x="134" y="256.5" width="4" height="3" fill="#b000c0"/><rect x="667" y="256.5" width="6" height="3" fill="#b000c0"/><rect x="499" y="256.5" width="3" height="2" fill="#b000c0"/><rect x="1663" y="256.5" width="4" height="3" fill="#b000c0"/><rect x="421" y="256.5" width="6" height="2" fill="#b000c0"/><rect x="509" y="256.5" width="4" height="2" fill="#b000c0"/><rect x="1198" y="256.5" width="5" height="2" fill="#b000c0"/><rect x="1649" y="256.5" width="5" height="2" fill="#b000c0"/><rect x="1315" y="256.5" width="6" height="2" fill="#b000c0"/><rect x="796" y="256.5" width="2" height="3" fill="#b000c0"/><rect x="745" y="256.5" width="4" height="3" fill="#b000c0"/><rect x="1166" y="256.5" width="4" height="3" fill="#b000c0"/><rect x="1171" y="256.5" width="2" height="2" fill="#b000c0"/><rect x="35" y="256.5" width="4" height="2" fill="#b000c0"/><rect x="1051" y="256.5" width="4" height="3" fill="#b000c0"/><rect x="747" y="256.5" width="4" height="2" fill="#b000c0"/><rect x="1450" y="256.5" width="6" height="2" fill="#b000c0"/><rect x="968" y="256.5" width="2" height="3" fill="#b000c0"/><rect x="1584" y="256.5" width="2" height="3" fill="#b000c0"/><rect x="36" y="256.5" width="2" height="3" fill="#b000c0"/><rect x="1748" y="256.5" width="2" height="2" fill="#b000c0"/><rect x="833" y="256.5" width="4" height="2" fill="#b000c0"/><rect x="825" y="256.5" width="4" height="3" fill="#b000c0"/><rect x="1187" y="256.5" width="6" height="2" fill="#b000c0"/><rect x="1714" y="256.5" width="2" height="3" fill="#b000c0"/><rect x="770" y="256.5" width="3" height="2" fill="#b000c0"/><rect x="1762" y="256.5" width="2" height="3" fill="#b000c0"/><rect x="1162" y="256.5" width="3" height="2" fill="#b000c0"/><rect x="882" y="256.5" width="3" height="3" fill="#b000c0"/><rect x="177" y="256.5" width="2" height="2" fill="#b000c0"/><rect x="301" y="256.5" width="6" height="3" fill="#b000c0"/><rect x="1174" y="256.5" width="5" height="2" fill="#b000c0"/><rect x="769" y="256.5" width="3" height="2" fill="#b000c0"/><rect x="660" y="256.5" width="4" height="2" fill="#b000c0"/><rect x="199" y="256.5" width="5" height="2" fill="#b000c0"/><rect x="1373" y="256.5" width="2" height="3" fill="#b000c0"/><rect x="1764" y="256.5" width="6" height="2" fill="#b000c0"/><rect x="127" y="256.5" width="3" height="2" fill="#b000c0"/><rect x="1173" y="256.5" width="6" height="3" fill="#b000c0"/><rect x="525" y="256.5" width="3" height="2" fill="#b000c0"/><rect x="1047" y="256.5" width="5" height="2" fill="#b000c0"/><rect x="1748" y="256.5" width="6" height="3" fill="#b000c0"/><rect x="307" y="256.5" width="2" height="3" fill="#b000c0"/><rect x="250" y="256.5" width="2" height="2" fill="#b000c0"/><rect x="261" y="256.5" width="6" height="2" fill="#b000c0"/><rect x="723" y="256.5" width="6" height="2" fill="#b000c0"/><rect x="735" y="256.5" width="2" height="2" fill="#b000c0"/><rect x="278" y="256.5" width="2" height="3" fill="#b000c0"/><rect x="283" y="256.5" width="6" height="2" fill="#b000c0"/><rect x="720" y="256.5" width="5" height="3" fill="#b000c0"/><rect x="1611" y="256.5" width="6" height="2" fill="#b000c0"/><rect x="693" y="256.5" width="4" height="2" fill="#b000c0"/><rect x="385" y="256.5" width="6" height="2" fill="#b000c0"/><rect x="1163" y="256.5" width="5" height="3" fill="#b000c0"/><rect x="1583" y="177" width="2" height="3" fill="#004a00"/><rect x="1006" y="234" width="2" height="3" fill="#004a00"/><rect x="701" y="178" width="3" height="3" fill="#004a00"/><rect x="1308" y="235" width="3" height="3" fill="#004a00"/><rect x="395" y="178" width="2" height="3" fill="#004a00"/><rect x="1400" y="235" width="2" height="3" fill="#004a00"/><rect x="638" y="178" width="3" height="3" fill="#004a00"/><rect x="801" y="234" width="3" height="3" fill="#004a00"/><rect x="555" y="177" width="4" height="3" fill="#004a00"/><rect x="295" y="235" width="4" height="3" fill="#004a00"/><rect x="971" y="177" width="3" height="3" fill="#004a00"/><rect x="1195" y="235" width="3" height="3" fill="#004a00"/><rect x="65" y="178" width="3" height="3" fill="#004a00"/><rect x="1680" y="235" width="3" height="3" fill="#004a00"/><rect x="1297" y="178" width="3" height="3" fill="#004a00"/><rect x="1051" y="234" width="3" height="3" fill="#004a00"/><rect x="20" y="178" width="4" height="3" fill="#004a00"/><rect x="1697" y="235" width="4" height="3" fill="#004a00"/><rect x="1702" y="178" width="4" height="3" fill="#004a00"/><rect x="1485" y="234" width="4" height="3" fill="#004a00"/><rect x="1079" y="177" width="4" height="3" fill="#004a00"/><rect x="562" y="235" width="4" height="3" fill="#004a00"/><rect x="215" y="177" width="3" height="3" fill="#004a00"/><rect x="1512" y="234" width="3" height="3" fill="#004a00"/><rect x="451" y="178" width="3" height="3" fill="#004a00"/><rect x="1146" y="235" width="3" height="3" fill="#004a00"/><rect x="715" y="177" width="3" height="3" fill="#004a00"/><rect x="158" y="234" width="3" height="3" fill="#004a00"/><rect x="1470" y="177" width="3" height="3" fill="#004a00"/><rect x="566" y="234" width="3" height="3" fill="#004a00"/><rect x="1394" y="178" width="4" height="3" fill="#004a00"/><rect x="108" y="235" width="4" height="3" fill="#004a00"/><rect x="92" y="177" width="4" height="3" fill="#004a00"/><rect x="979" y="235" width="4" height="3" fill="#004a00"/><rect x="1131" y="177" width="2" height="3" fill="#004a00"/><rect x="1027" y="234" width="2" height="3" fill="#004a00"/><rect x="1456" y="178" width="3" height="3" fill="#004a00"/><rect x="598" y="234" width="3" height="3" fill="#004a00"/><rect x="311" y="178" width="2" height="3" fill="#004a00"/><rect x="1213" y="234" width="2" height="3" fill="#004a00"/><rect x="672" y="178" width="3" height="3" fill="#004a00"/><rect x="1416" y="235" width="3" height="3" fill="#004a00"/><rect x="570" y="177" width="4" height="3" fill="#004a00"/><rect x="1477" y="235" width="4" height="3" fill="#004a00"/><rect x="1179" y="177" width="4" height="3" fill="#004a00"/><rect x="1244" y="235" width="4" height="3" fill="#004a00"/><rect x="553" y="177" width="4" height="3" fill="#004a00"/><rect x="1629" y="234" width="4" height="3" fill="#004a00"/><rect x="179" y="177" width="3" height="3" fill="#004a00"/><rect x="1483" y="234" width="3" height="3" fill="#004a00"/><rect x="281" y="178" width="3" height="3" fill="#004a00"/><rect x="725" y="235" width="3" height="3" fill="#004a00"/><rect x="1644" y="178" width="2" height="3" fill="#004a00"/><rect x="876" y="235" width="2" height="3" fill="#004a00"/><rect x="907" y="177" width="3" height="3" fill="#004a00"/><rect x="974" y="234" width="3" height="3" fill="#004a00"/><rect x="1367" y="177" width="3" height="3" fill="#004a00"/><rect x="34" y="234" width="3" height="3" fill="#004a00"/><rect x="1153" y="178" width="3" height="3" fill="#004a00"/><rect x="804" y="235" width="3" height="3" fill="#004a00"/><rect x="638" y="177" width="4" height="3" fill="#004a00"/><rect x="853" y="235" width="4" height="3" fill="#004a00"/><rect x="585" y="178" width="4" height="3" fill="#004a00"/><rect x="419" y="235" width="4" height="3" fill="#004a00"/><rect x="625" y="177" width="3" height="3" fill="#004a00"/><rect x="460" y="234" width="3" height="3" fill="#004a00"/><rect x="1419" y="178" width="3" height="3" fill="#004a00"/><rect x="436" y="234" width="3" height="3" fill="#004a00"/><rect x="769" y="177" width="4" height="3" fill="#004a00"/><rect x="992" y="235" width="4" height="3" fill="#004a00"/><rect x="1607" y="178" width="3" height="3" fill="#004a00"/><rect x="864" y="234" width="3" height="3" fill="#004a00"/><rect x="335" y="177" width="4" height="3" fill="#004a00"/><rect x="1202" y="234" width="4" height="3" fill="#004a00"/><rect x="70" y="178" width="4" height="3" fill="#004a00"/><rect x="1007" y="235" width="4" height="3" fill="#004a00"/><rect x="593" y="178" width="2" height="3" fill="#004a00"/><rect x="1680" y="235" width="2" height="3" fill="#004a00"/><rect x="1425" y="177" width="2" height="3" fill="#004a00"/><rect x="1386" y="234" width="2" height="3" fill="#004a00"/><rect x="1741" y="178" width="4" height="3" fill="#004a00"/><rect x="220" y="234" width="4" height="3" fill="#004a00"/><rect x="1032" y="178" width="3" height="3" fill="#004a00"/><rect x="648" y="235" width="3" height="3" fill="#004a00"/><rect x="1077" y="178" width="4" height="3" fill="#004a00"/><rect x="202" y="235" width="4" height="3" fill="#004a00"/><rect x="44" y="178" width="4" height="3" fill="#004a00"/><rect x="1182" y="235" width="4" height="3" fill="#004a00"/><rect x="453" y="178" width="2" height="3" fill="#004a00"/><rect x="860" y="235" width="2" height="3" fill="#004a00"/><rect x="59" y="177" width="3" height="3" fill="#004a00"/><rect x="1544" y="234" width="3" height="3" fill="#004a00"/><rect x="1453" y="177" width="4" height="3" fill="#004a00"/><rect x="1079" y="234" width="4" height="3" fill="#004a00"/><rect x="948" y="178" width="4" height="3" fill="#004a00"/><rect x="547" y="235" width="4" height="3" fill="#004a00"/><rect x="1655" y="177" width="3" height="3" fill="#004a00"/><rect x="854" y="235" width="3" height="3" fill="#004a00"/><rect x="616" y="178" width="2" height="3" fill="#004a00"/><rect x="1003" y="235" width="2" height="3" fill="#004a00"/><rect x="1565" y="177" width="2" height="3" fill="#004a00"/><rect x="1019" y="234" width="2" height="3" fill="#004a00"/><rect x="539" y="177" width="2" height="3" fill="#004a00"/><rect x="1649" y="234" width="2" height="3" fill="#004a00"/><rect x="351" y="178" width="3" height="3" fill="#004a00"/><rect x="630" y="234" width="3" height="3" fill="#004a00"/><rect x="116" y="177" width="4" height="3" fill="#004a00"/><rect x="255" y="235" width="4" height="3" fill="#004a00"/><rect x="1012" y="177" width="4" height="3" fill="#004a00"/><rect x="776" y="234" width="4" height="3" fill="#004a00"/><rect x="159" y="178" width="4" height="3" fill="#004a00"/><rect x="1085" y="234" width="4" height="3" fill="#004a00"/><rect x="1554" y="178" width="2" height="3" fill="#004a00"/><rect x="253" y="234" width="2" height="3" fill="#004a00"/><rect x="146" y="177" width="3" height="3" fill="#004a00"/><rect x="988" y="234" width="3" height="3" fill="#004a00"/><rect x="245" y="178" width="3" height="3" fill="#004a00"/><rect x="598" y="235" width="3" height="3" fill="#004a00"/><rect x="1659" y="177" width="4" height="3" fill="#004a00"/><rect x="1517" y="234" width="4" height="3" fill="#004a00"/><rect x="1079" y="178" width="4" height="3" fill="#004a00"/><rect x="1649" y="234" width="4" height="3" fill="#004a00"/><rect x="1360" y="177" width="2" height="3" fill="#004a00"/><rect x="200" y="235" width="2" height="3" fill="#004a00"/><rect x="1536" y="178" width="2" height="3" fill="#004a00"/><rect x="64" y="234" width="2" height="3" fill="#004a00"/><rect x="1218" y="177" width="4" height="3" fill="#004a00"/><rect x="9" y="234" width="4" height="3" fill="#004a00"/><rect x="1692" y="178" width="2" height="3" fill="#004a00"/><rect x="1473" y="235" width="2" height="3" fill="#004a00"/><rect x="624" y="178" width="2" height="3" fill="#004a00"/><rect x="697" y="234" width="2" height="3" fill="#004a00"/><rect x="469" y="178" width="4" height="3" fill="#004a00"/><rect x="933" y="235" width="4" height="3" fill="#004a00"/><rect x="924" y="178" width="3" height="3" fill="#004a00"/><rect x="1153" y="235" width="3" height="3" fill="#004a00"/><rect x="317" y="177" width="2" height="3" fill="#004a00"/><rect x="454" y="235" width="2" height="3" fill="#004a00"/><rect x="396" y="177" width="3" height="3" fill="#004a00"/><rect x="427" y="235" width="3" height="3" fill="#004a00"/><rect x="1055" y="178" width="4" height="3" fill="#004a00"/><rect x="1016" y="234" width="4" height="3" fill="#004a00"/><rect x="332" y="177" width="2" height="3" fill="#004a00"/><rect x="538" y="235" width="2" height="3" fill="#004a00"/><rect x="1308" y="177" width="2" height="3" fill="#004a00"/><rect x="1397" y="234" width="2" height="3" fill="#004a00"/><rect x="146" y="177" width="4" height="3" fill="#004a00"/><rect x="784" y="234" width="4" height="3" fill="#004a00"/><rect x="736" y="178" width="2" height="3" fill="#004a00"/><rect x="1185" y="234" width="2" height="3" fill="#004a00"/><rect x="1610" y="177" width="3" height="3" fill="#004a00"/><rect x="745" y="234" width="3" height="3" fill="#004a00"/><rect x="602" y="178" width="2" height="3" fill="#004a00"/><rect x="1602" y="234" width="2" height="3" fill="#004a00"/><rect x="845" y="177" width="2" height="3" fill="#004a00"/><rect x="885" y="235" width="2" height="3" fill="#004a00"/><rect x="1686" y="177" width="3" height="3" fill="#004a00"/><rect x="260" y="234" width="3" height="3" fill="#004a00"/><rect x="289" y="177" width="3" height="3" fill="#004a00"/><rect x="1646" y="235" width="3" height="3" fill="#004a00"/><rect x="252" y="177" width="2" height="3" fill="#004a00"/><rect x="1421" y="235" width="2" height="3" fill="#004a00"/><rect x="1670" y="177" width="2" height="3" fill="#004a00"/><rect x="247" y="234" width="2" height="3" fill="#004a00"/><rect x="1559" y="178" width="4" height="3" fill="#004a00"/><rect x="654" y="234" width="4" height="3" fill="#004a00"/><rect x="1632" y="177" width="2" height="3" fill="#004a00"/><rect x="1737" y="235" width="2" height="3" fill="#004a00"/><rect x="1197" y="178" width="2" height="3" fill="#004a00"/><rect x="573" y="234" width="2" height="3" fill="#004a00"/><rect x="489" y="178" width="4" height="3" fill="#004a00"/><rect x="1348" y="235" width="4" height="3" fill="#004a00"/><rect x="1673" y="177" width="2" height="3" fill="#004a00"/><rect x="37" y="235" width="2" height="3" fill="#004a00"/><rect x="1723" y="177" width="4" height="3" fill="#004a00"/><rect x="290" y="235" width="4" height="3" fill="#004a00"/><rect x="1130" y="178" width="2" height="3" fill="#004a00"/><rect x="858" y="235" width="2" height="3" fill="#004a00"/><rect x="624" y="178" width="3" height="3" fill="#004a00"/><rect x="77" y="234" width="3" height="3" fill="#004a00"/><rect x="1668" y="177" width="4" height="3" fill="#004a00"/><rect x="780" y="235" width="4" height="3" fill="#004a00"/><rect x="963" y="177" width="3" height="3" fill="#004a00"/><rect x="88" y="235" width="3" height="3" fill="#004a00"/><rect x="1303" y="177" width="2" height="3" fill="#004a00"/><rect x="51" y="235" width="2" height="3" fill="#004a00"/><rect x="1413" y="177" width="3" height="3" fill="#004a00"/><rect x="826" y="234" width="3" height="3" fill="#004a00"/><rect x="609" y="178" width="2" height="3" fill="#004a00"/><rect x="1717" y="235" width="2" height="3" fill="#004a00"/><rect x="466" y="178" width="4" height="3" fill="#004a00"/><rect x="1217" y="235" width="4" height="3" fill="#004a00"/><rect x="1105" y="177" width="3" height="3" fill="#004a00"/><rect x="635" y="235" width="3" height="3" fill="#004a00"/><rect x="763" y="178" width="4" height="3" fill="#004a00"/><rect x="459" y="235" width="4" height="3" fill="#004a00"/><rect x="418" y="177" width="4" height="3" fill="#004a00"/><rect x="831" y="235" width="4" height="3" fill="#004a00"/><rect x="1353" y="178" width="4" height="3" fill="#004a00"/><rect x="421" y="235" width="4" height="3" fill="#004a00"/><rect x="285" y="178" width="3" height="3" fill="#004a00"/><rect x="1131" y="234" width="3" height="3" fill="#004a00"/><rect x="618" y="177" width="4" height="3" fill="#004a00"/><rect x="882" y="235" width="4" height="3" fill="#004a00"/><rect x="1213" y="178" width="4" height="3" fill="#004a00"/><rect x="713" y="235" width="4" height="3" fill="#004a00"/><rect x="1017" y="178" width="4" height="3" fill="#004a00"/><rect x="107" y="235" width="4" height="3" fill="#004a00"/><rect x="883" y="177" width="3" height="3" fill="#004a00"/><rect x="1135" y="234" width="3" height="3" fill="#004a00"/><rect x="500" y="177" width="3" height="3" fill="#004a00"/><rect x="157" y="234" width="3" height="3" fill="#004a00"/><rect x="420" y="177" width="3" height="3" fill="#004a00"/><rect x="456" y="234" width="3" height="3" fill="#004a00"/><rect x="757" y="177" width="4" height="3" fill="#004a00"/><rect x="1671" y="235" width="4" height="3" fill="#004a00"/><rect x="1519" y="178" width="2" height="3" fill="#004a00"/><rect x="564" y="235" width="2" height="3" fill="#004a00"/><rect x="1636" y="177" width="4" height="3" fill="#004a00"/><rect x="1220" y="235" width="4" height="3" fill="#004a00"/><rect x="1421" y="177" width="4" height="3" fill="#004a00"/><rect x="1212" y="235" width="4" height="3" fill="#004a00"/><rect x="1431" y="177" width="2" height="3" fill="#004a00"/><rect x="1440" y="235" width="2" height="3" fill="#004a00"/><rect x="1264" y="177" width="2" height="3" fill="#004a00"/><rect x="1689" y="235" width="2" height="3" fill="#004a00"/><rect x="836" y="178" width="4" height="3" fill="#004a00"/><rect x="1647" y="234" width="4" height="3" fill="#004a00"/><rect x="1724" y="177" width="2" height="3" fill="#004a00"/><rect x="465" y="235" width="2" height="3" fill="#004a00"/><rect x="1540" y="178" width="3" height="3" fill="#004a00"/><rect x="335" y="235" width="3" height="3" fill="#004a00"/><rect x="1740" y="177" width="4" height="3" fill="#004a00"/><rect x="1325" y="234" width="4" height="3" fill="#004a00"/><rect x="775" y="178" width="3" height="3" fill="#004a00"/><rect x="1389" y="234" width="3" height="3" fill="#004a00"/><rect x="1009" y="178" width="3" height="3" fill="#004a00"/><rect x="404" y="235" width="3" height="3" fill="#004a00"/><rect x="77" y="178" width="2" height="3" fill="#004a00"/><rect x="1407" y="234" width="2" height="3" fill="#004a00"/></g>
<rect x="703.5" y="34.5" width="9" height="234" fill="none" stroke="#a8bcd8" stroke-width="1.6"/>
<path d="M215,36 L241,36 L228,48 Z" fill="#f39a2e" stroke="#222" stroke-width="0.8"/>
<rect x="215" y="49.5" width="25" height="26.5" fill="#111"/>
<rect x="217.5" y="51.5" width="20" height="22" fill="#222a38" stroke="#f39a2e" stroke-width="3"/>
<path d="M222.5,75 L233.5,75 L228,83.5 Z" fill="#f39a2e" stroke="#222" stroke-width="0.8"/>
<rect x="223.3" y="73.2" width="9.4" height="2.6" fill="#f39a2e"/>
<text x="227.5" y="70.0" font-size="17" font-weight="700" fill="#f39a2e" text-anchor="middle">T</text>
<path d="M6,80 L43.5,80 L57.5,96.6 L43.5,113 L6,113 Z" fill="#fff" stroke="#3434b4" stroke-width="1.5"/>
<path d="M6,76 L43.5,76 L57.5,92.6 L43.5,109 L6,109 Z" fill="#fff" stroke="#22b4d4" stroke-width="2"/>
<text x="14.2" y="101.0" font-size="22" fill="#22b4d4" textLength="20.8" lengthAdjust="spacingAndGlyphs" stroke="#22b4d4" stroke-width="0.45">C2</text>
<path d="M5.5,194 L43,194 L57.5,212 L43,229.5 L5.5,229.5 Z" fill="#87a616" stroke="#fff" stroke-width="1.5"/>
<text x="13.8" y="220.0" font-size="22" fill="#f4f4e0" textLength="23.4" lengthAdjust="spacingAndGlyphs" stroke="#f4f4e0" stroke-width="0.45">C4</text>
<path d="M1701.5,45.8 L1760.4,45.8 L1760.4,103.1 Z" fill="#a9abba" stroke="#3aa0e0" stroke-width="2.8" stroke-linejoin="round"/>
<circle cx="1747.3" cy="58" r="7" fill="none" stroke="#3aa0e0" stroke-width="3.2"/>
<path d="M1731.9,74.6 L1742,66" fill="none" stroke="#3aa0e0" stroke-width="3.4"/>
<rect x="0" y="270" width="3" height="30" fill="#000"/>
<rect x="1771" y="270" width="4" height="30" fill="#000"/>
<rect x="3" y="270" width="1768" height="30" fill="#fff"/>
<text x="12.5" y="291.7" font-size="20.5" textLength="220.5" lengthAdjust="spacingAndGlyphs" stroke="#111" stroke-width="0.45">Horizontal Zoom Scale:</text>
<rect x="278.5" y="272.5" width="182" height="24" fill="#adc3e1" rx="7" stroke="#7c8aa8" stroke-width="1"/>
<circle cx="301.2" cy="284.4" r="10.2" fill="#3b8fdc" stroke="#fff" stroke-width="0.8"/>
<text x="301.2" y="291.0" font-size="17" font-weight="700" fill="#fff" text-anchor="middle">A</text>
<text x="334.0" y="291.7" font-size="20.5" textLength="101.2" lengthAdjust="spacingAndGlyphs" stroke="#111" stroke-width="0.45">10.0 μs/div</text>
<rect x="506.5" y="272.5" width="79" height="24" fill="#929fbc" rx="7" stroke="#6e7890" stroke-width="1"/>
<text x="546.0" y="292.0" font-size="22" text-anchor="middle" stroke="#111" stroke-width="0.45">+</text>
<rect x="631.5" y="272.5" width="78" height="24" fill="#929fbc" rx="7" stroke="#6e7890" stroke-width="1"/>
<rect x="667" y="283.5" width="7" height="2" fill="#222"/>
<text x="754.5" y="291.7" font-size="20.5" textLength="121.6" lengthAdjust="spacingAndGlyphs" stroke="#111" stroke-width="0.45">(200x zoom)</text>
<text x="1168.5" y="291.7" font-size="20.5" textLength="142.5" lengthAdjust="spacingAndGlyphs" stroke="#111" stroke-width="0.45">Zoom Position:</text>
<rect x="1355.5" y="272.5" width="170.5" height="24" fill="#adc3e1" rx="7" stroke="#7c8aa8" stroke-width="1"/>
<circle cx="1377.9" cy="284.4" r="10.2" fill="#3b8fdc" stroke="#fff" stroke-width="0.8"/>
<text x="1377.9" y="291.0" font-size="17" font-weight="700" fill="#fff" text-anchor="middle">B</text>
<text x="1421.0" y="291.7" font-size="20.5" textLength="87.6" lengthAdjust="spacingAndGlyphs" stroke="#111" stroke-width="0.45">39.848 %</text>
<rect x="1682.5" y="272.5" width="78" height="24" fill="#fff" rx="7" stroke="#777" stroke-width="1"/>
<text x="1729.5" y="292.0" font-size="21" text-anchor="middle" stroke="#111" stroke-width="0.45">X</text>
<rect x="0" y="300" width="1775" height="713" fill="#000"/>
<rect x="7" y="301" width="1764.2" height="702" fill="#fff"/>
<path d="M357.4,441.8h1.3v1.3h-1.3z M1239.9,672.7h1.3v1.3h-1.3z M781.0,566.1h1.3v1.3h-1.3z M180.9,619.4h1.3v1.3h-1.3z M180.9,548.3h1.3v1.3h-1.3z M1028.1,743.7h1.3v1.3h-1.3z M1416.4,495.1h1.3v1.3h-1.3z M1768.8,566.1h1.3v1.3h-1.3z M216.2,743.7h1.3v1.3h-1.3z M1063.4,512.8h1.3v1.3h-1.3z M1063.4,441.8h1.3v1.3h-1.3z M180.9,424.0h1.3v1.3h-1.3z M710.4,956.8h1.3v1.3h-1.3z M851.6,301.9h1.3v1.3h-1.3z M1169.3,477.3h1.3v1.3h-1.3z M533.9,637.1h1.3v1.3h-1.3z M533.9,566.1h1.3v1.3h-1.3z M1592.9,956.8h1.3v1.3h-1.3z M463.3,477.3h1.3v1.3h-1.3z M1768.8,370.7h1.3v1.3h-1.3z M357.4,974.6h1.3v1.3h-1.3z M604.5,566.1h1.3v1.3h-1.3z M39.7,832.5h1.3v1.3h-1.3z M1487.0,921.3h1.3v1.3h-1.3z M1734.1,301.9h1.3v1.3h-1.3z M463.3,832.5h1.3v1.3h-1.3z M357.4,406.3h1.3v1.3h-1.3z M1239.9,637.1h1.3v1.3h-1.3z M533.9,441.8h1.3v1.3h-1.3z M533.9,370.7h1.3v1.3h-1.3z M710.4,814.7h1.3v1.3h-1.3z M1063.4,974.6h1.3v1.3h-1.3z M1592.9,814.7h1.3v1.3h-1.3z M180.9,885.8h1.3v1.3h-1.3z M357.4,832.5h1.3v1.3h-1.3z M1063.4,477.3h1.3v1.3h-1.3z M145.6,388.5h1.3v1.3h-1.3z M1239.9,441.8h1.3v1.3h-1.3z M1134.0,388.5h1.3v1.3h-1.3z M710.4,992.3h1.3v1.3h-1.3z M710.4,921.3h1.3v1.3h-1.3z M1310.5,566.1h1.3v1.3h-1.3z M1063.4,903.5h1.3v1.3h-1.3z M1063.4,832.5h1.3v1.3h-1.3z M1592.9,921.3h1.3v1.3h-1.3z M1592.9,992.3h1.3v1.3h-1.3z M1768.8,406.3h1.3v1.3h-1.3z M1028.1,301.9h1.3v1.3h-1.3z M180.9,814.7h1.3v1.3h-1.3z M180.9,743.7h1.3v1.3h-1.3z M1557.6,566.1h1.3v1.3h-1.3z M75.0,921.3h1.3v1.3h-1.3z M216.2,301.9h1.3v1.3h-1.3z M251.5,388.5h1.3v1.3h-1.3z M1416.4,992.3h1.3v1.3h-1.3z M1768.8,761.5h1.3v1.3h-1.3z M710.4,797.0h1.3v1.3h-1.3z M1098.7,743.7h1.3v1.3h-1.3z M533.9,406.3h1.3v1.3h-1.3z M710.4,850.3h1.3v1.3h-1.3z M1592.9,797.0h1.3v1.3h-1.3z M392.7,388.5h1.3v1.3h-1.3z M1239.9,974.6h1.3v1.3h-1.3z M1592.9,850.3h1.3v1.3h-1.3z M180.9,921.3h1.3v1.3h-1.3z M957.5,743.7h1.3v1.3h-1.3z M533.9,832.5h1.3v1.3h-1.3z M533.9,761.5h1.3v1.3h-1.3z M1416.4,797.0h1.3v1.3h-1.3z M710.4,601.6h1.3v1.3h-1.3z M1239.9,477.3h1.3v1.3h-1.3z M1239.9,406.3h1.3v1.3h-1.3z M1416.4,850.3h1.3v1.3h-1.3z M322.1,388.5h1.3v1.3h-1.3z M498.6,832.5h1.3v1.3h-1.3z M1592.9,601.6h1.3v1.3h-1.3z M1487.0,566.1h1.3v1.3h-1.3z M886.9,921.3h1.3v1.3h-1.3z M1063.4,868.0h1.3v1.3h-1.3z M286.8,388.5h1.3v1.3h-1.3z M1239.9,832.5h1.3v1.3h-1.3z M180.9,779.2h1.3v1.3h-1.3z M1416.4,601.6h1.3v1.3h-1.3z M75.0,301.9h1.3v1.3h-1.3z M428.0,743.7h1.3v1.3h-1.3z M1768.8,725.9h1.3v1.3h-1.3z M816.3,566.1h1.3v1.3h-1.3z M180.9,335.2h1.3v1.3h-1.3z M1310.5,832.5h1.3v1.3h-1.3z M1768.8,353.0h1.3v1.3h-1.3z M180.9,301.9h1.3v1.3h-1.3z M1345.8,477.3h1.3v1.3h-1.3z M710.4,566.1h1.3v1.3h-1.3z M1663.5,921.3h1.3v1.3h-1.3z M1098.7,301.9h1.3v1.3h-1.3z M1592.9,566.1h1.3v1.3h-1.3z M1169.3,388.5h1.3v1.3h-1.3z M533.9,353.0h1.3v1.3h-1.3z M1345.8,832.5h1.3v1.3h-1.3z M145.6,743.7h1.3v1.3h-1.3z M1239.9,868.0h1.3v1.3h-1.3z M463.3,388.5h1.3v1.3h-1.3z M1134.0,743.7h1.3v1.3h-1.3z M957.5,301.9h1.3v1.3h-1.3z M639.8,566.1h1.3v1.3h-1.3z M1416.4,637.1h1.3v1.3h-1.3z M1416.4,566.1h1.3v1.3h-1.3z M710.4,370.7h1.3v1.3h-1.3z M1063.4,583.9h1.3v1.3h-1.3z M1592.9,370.7h1.3v1.3h-1.3z M1381.1,743.7h1.3v1.3h-1.3z M357.4,388.5h1.3v1.3h-1.3z M569.2,832.5h1.3v1.3h-1.3z M251.5,743.7h1.3v1.3h-1.3z M1275.2,477.3h1.3v1.3h-1.3z M1416.4,441.8h1.3v1.3h-1.3z M922.2,921.3h1.3v1.3h-1.3z M392.7,743.7h1.3v1.3h-1.3z M1063.4,388.5h1.3v1.3h-1.3z M1098.7,477.3h1.3v1.3h-1.3z M1275.2,832.5h1.3v1.3h-1.3z M886.9,566.1h1.3v1.3h-1.3z M357.4,548.3h1.3v1.3h-1.3z M1204.6,743.7h1.3v1.3h-1.3z M1522.3,832.5h1.3v1.3h-1.3z M322.1,743.7h1.3v1.3h-1.3z M816.3,832.5h1.3v1.3h-1.3z M286.8,743.7h1.3v1.3h-1.3z M1416.4,974.6h1.3v1.3h-1.3z M1063.4,548.3h1.3v1.3h-1.3z M1239.9,583.9h1.3v1.3h-1.3z M710.4,761.5h1.3v1.3h-1.3z M145.6,301.9h1.3v1.3h-1.3z M1416.4,406.3h1.3v1.3h-1.3z M1592.9,761.5h1.3v1.3h-1.3z M498.6,388.5h1.3v1.3h-1.3z M1134.0,301.9h1.3v1.3h-1.3z M428.0,477.3h1.3v1.3h-1.3z M1663.5,566.1h1.3v1.3h-1.3z M639.8,832.5h1.3v1.3h-1.3z M180.9,939.1h1.3v1.3h-1.3z M1239.9,388.5h1.3v1.3h-1.3z M1416.4,832.5h1.3v1.3h-1.3z M251.5,301.9h1.3v1.3h-1.3z M1698.8,921.3h1.3v1.3h-1.3z M992.8,921.3h1.3v1.3h-1.3z M357.4,885.8h1.3v1.3h-1.3z M180.9,690.4h1.3v1.3h-1.3z M392.7,301.9h1.3v1.3h-1.3z M1169.3,743.7h1.3v1.3h-1.3z M463.3,743.7h1.3v1.3h-1.3z M1239.9,548.3h1.3v1.3h-1.3z M675.1,477.3h1.3v1.3h-1.3z M1063.4,885.8h1.3v1.3h-1.3z M180.9,317.5h1.3v1.3h-1.3z M710.4,725.9h1.3v1.3h-1.3z M922.2,566.1h1.3v1.3h-1.3z M1592.9,725.9h1.3v1.3h-1.3z M322.1,301.9h1.3v1.3h-1.3z M357.4,743.7h1.3v1.3h-1.3z M675.1,832.5h1.3v1.3h-1.3z M1169.3,921.3h1.3v1.3h-1.3z M1345.8,388.5h1.3v1.3h-1.3z M710.4,353.0h1.3v1.3h-1.3z M286.8,301.9h1.3v1.3h-1.3z M1381.1,477.3h1.3v1.3h-1.3z M745.7,566.1h1.3v1.3h-1.3z M1592.9,353.0h1.3v1.3h-1.3z M710.4,530.6h1.3v1.3h-1.3z M1628.2,566.1h1.3v1.3h-1.3z M1063.4,743.7h1.3v1.3h-1.3z M1592.9,530.6h1.3v1.3h-1.3z M180.9,725.9h1.3v1.3h-1.3z M180.9,654.9h1.3v1.3h-1.3z M569.2,388.5h1.3v1.3h-1.3z M392.7,477.3h1.3v1.3h-1.3z M1768.8,672.7h1.3v1.3h-1.3z M1204.6,477.3h1.3v1.3h-1.3z M1239.9,885.8h1.3v1.3h-1.3z M1275.2,388.5h1.3v1.3h-1.3z M1451.7,832.5h1.3v1.3h-1.3z M180.9,530.6h1.3v1.3h-1.3z M180.9,459.5h1.3v1.3h-1.3z M357.4,708.2h1.3v1.3h-1.3z M533.9,743.7h1.3v1.3h-1.3z M533.9,672.7h1.3v1.3h-1.3z M1169.3,301.9h1.3v1.3h-1.3z M1522.3,388.5h1.3v1.3h-1.3z M463.3,301.9h1.3v1.3h-1.3z M498.6,743.7h1.3v1.3h-1.3z M1698.8,566.1h1.3v1.3h-1.3z M992.8,566.1h1.3v1.3h-1.3z M357.4,335.2h1.3v1.3h-1.3z M1063.4,779.2h1.3v1.3h-1.3z M1063.4,708.2h1.3v1.3h-1.3z M357.4,512.8h1.3v1.3h-1.3z M1239.9,743.7h1.3v1.3h-1.3z M357.4,301.9h1.3v1.3h-1.3z M1768.8,708.2h1.3v1.3h-1.3z M1768.8,637.1h1.3v1.3h-1.3z M1063.4,335.2h1.3v1.3h-1.3z M745.7,832.5h1.3v1.3h-1.3z M110.3,566.1h1.3v1.3h-1.3z M1063.4,301.9h1.3v1.3h-1.3z M39.7,477.3h1.3v1.3h-1.3z M180.9,495.1h1.3v1.3h-1.3z M1628.2,832.5h1.3v1.3h-1.3z M1028.1,921.3h1.3v1.3h-1.3z M533.9,708.2h1.3v1.3h-1.3z M428.0,388.5h1.3v1.3h-1.3z M1768.8,512.8h1.3v1.3h-1.3z M1768.8,441.8h1.3v1.3h-1.3z M216.2,921.3h1.3v1.3h-1.3z M533.9,335.2h1.3v1.3h-1.3z M1345.8,743.7h1.3v1.3h-1.3z M357.4,477.3h1.3v1.3h-1.3z M1239.9,708.2h1.3v1.3h-1.3z M533.9,512.8h1.3v1.3h-1.3z M1416.4,548.3h1.3v1.3h-1.3z M1063.4,637.1h1.3v1.3h-1.3z M180.9,956.8h1.3v1.3h-1.3z M357.4,903.5h1.3v1.3h-1.3z M498.6,301.9h1.3v1.3h-1.3z M1239.9,335.2h1.3v1.3h-1.3z M675.1,388.5h1.3v1.3h-1.3z M569.2,743.7h1.3v1.3h-1.3z M1768.8,974.6h1.3v1.3h-1.3z M851.6,566.1h1.3v1.3h-1.3z M1239.9,512.8h1.3v1.3h-1.3z M1239.9,301.9h1.3v1.3h-1.3z M1734.1,566.1h1.3v1.3h-1.3z M1768.8,477.3h1.3v1.3h-1.3z M781.0,832.5h1.3v1.3h-1.3z M1381.1,388.5h1.3v1.3h-1.3z M1275.2,743.7h1.3v1.3h-1.3z M533.9,974.6h1.3v1.3h-1.3z M1768.8,903.5h1.3v1.3h-1.3z M1768.8,832.5h1.3v1.3h-1.3z M1522.3,743.7h1.3v1.3h-1.3z M533.9,477.3h1.3v1.3h-1.3z M110.3,832.5h1.3v1.3h-1.3z M180.9,992.3h1.3v1.3h-1.3z M498.6,477.3h1.3v1.3h-1.3z M1451.7,388.5h1.3v1.3h-1.3z M357.4,939.1h1.3v1.3h-1.3z M357.4,868.0h1.3v1.3h-1.3z M533.9,903.5h1.3v1.3h-1.3z M710.4,672.7h1.3v1.3h-1.3z M604.5,832.5h1.3v1.3h-1.3z M1204.6,388.5h1.3v1.3h-1.3z M1098.7,921.3h1.3v1.3h-1.3z M1345.8,301.9h1.3v1.3h-1.3z M1028.1,566.1h1.3v1.3h-1.3z M1592.9,672.7h1.3v1.3h-1.3z M357.4,690.4h1.3v1.3h-1.3z M216.2,566.1h1.3v1.3h-1.3z M1063.4,939.1h1.3v1.3h-1.3z M180.9,797.0h1.3v1.3h-1.3z M957.5,921.3h1.3v1.3h-1.3z M1239.9,903.5h1.3v1.3h-1.3z M180.9,850.3h1.3v1.3h-1.3z M1416.4,672.7h1.3v1.3h-1.3z M1416.4,743.7h1.3v1.3h-1.3z M569.2,301.9h1.3v1.3h-1.3z M1768.8,868.0h1.3v1.3h-1.3z M1063.4,690.4h1.3v1.3h-1.3z M1310.5,477.3h1.3v1.3h-1.3z M180.9,601.6h1.3v1.3h-1.3z M851.6,832.5h1.3v1.3h-1.3z M745.7,388.5h1.3v1.3h-1.3z M1734.1,832.5h1.3v1.3h-1.3z M1275.2,301.9h1.3v1.3h-1.3z M1063.4,317.5h1.3v1.3h-1.3z M1628.2,388.5h1.3v1.3h-1.3z M533.9,868.0h1.3v1.3h-1.3z M428.0,921.3h1.3v1.3h-1.3z M710.4,637.1h1.3v1.3h-1.3z M1557.6,832.5h1.3v1.3h-1.3z M39.7,388.5h1.3v1.3h-1.3z M1522.3,301.9h1.3v1.3h-1.3z M1592.9,637.1h1.3v1.3h-1.3z M357.4,654.9h1.3v1.3h-1.3z M357.4,583.9h1.3v1.3h-1.3z M675.1,743.7h1.3v1.3h-1.3z M75.0,566.1h1.3v1.3h-1.3z M1239.9,939.1h1.3v1.3h-1.3z M1416.4,708.2h1.3v1.3h-1.3z M569.2,477.3h1.3v1.3h-1.3z M710.4,441.8h1.3v1.3h-1.3z M1063.4,654.9h1.3v1.3h-1.3z M1592.9,441.8h1.3v1.3h-1.3z M357.4,459.5h1.3v1.3h-1.3z M1239.9,690.4h1.3v1.3h-1.3z M1487.0,477.3h1.3v1.3h-1.3z M1416.4,335.2h1.3v1.3h-1.3z M180.9,566.1h1.3v1.3h-1.3z M145.6,921.3h1.3v1.3h-1.3z M1134.0,921.3h1.3v1.3h-1.3z M1416.4,512.8h1.3v1.3h-1.3z M1768.8,583.9h1.3v1.3h-1.3z M1416.4,301.9h1.3v1.3h-1.3z M1487.0,832.5h1.3v1.3h-1.3z M1098.7,566.1h1.3v1.3h-1.3z M1239.9,317.5h1.3v1.3h-1.3z M1063.4,530.6h1.3v1.3h-1.3z M1063.4,459.5h1.3v1.3h-1.3z M428.0,301.9h1.3v1.3h-1.3z M1381.1,921.3h1.3v1.3h-1.3z M1522.3,477.3h1.3v1.3h-1.3z M781.0,388.5h1.3v1.3h-1.3z M1451.7,743.7h1.3v1.3h-1.3z M816.3,477.3h1.3v1.3h-1.3z M180.9,441.8h1.3v1.3h-1.3z M180.9,370.7h1.3v1.3h-1.3z M710.4,974.6h1.3v1.3h-1.3z M957.5,566.1h1.3v1.3h-1.3z M251.5,921.3h1.3v1.3h-1.3z M357.4,619.4h1.3v1.3h-1.3z M533.9,583.9h1.3v1.3h-1.3z M1592.9,974.6h1.3v1.3h-1.3z M1768.8,388.5h1.3v1.3h-1.3z M392.7,921.3h1.3v1.3h-1.3z M710.4,477.3h1.3v1.3h-1.3z M710.4,406.3h1.3v1.3h-1.3z M1592.9,477.3h1.3v1.3h-1.3z M1063.4,619.4h1.3v1.3h-1.3z M1592.9,406.3h1.3v1.3h-1.3z M357.4,424.0h1.3v1.3h-1.3z M1239.9,654.9h1.3v1.3h-1.3z M533.9,459.5h1.3v1.3h-1.3z M533.9,388.5h1.3v1.3h-1.3z M710.4,832.5h1.3v1.3h-1.3z M1204.6,921.3h1.3v1.3h-1.3z M675.1,301.9h1.3v1.3h-1.3z M604.5,388.5h1.3v1.3h-1.3z M322.1,921.3h1.3v1.3h-1.3z M639.8,477.3h1.3v1.3h-1.3z M1416.4,477.3h1.3v1.3h-1.3z M1592.9,832.5h1.3v1.3h-1.3z M1768.8,548.3h1.3v1.3h-1.3z M286.8,921.3h1.3v1.3h-1.3z M75.0,832.5h1.3v1.3h-1.3z M1063.4,495.1h1.3v1.3h-1.3z M1063.4,424.0h1.3v1.3h-1.3z M745.7,743.7h1.3v1.3h-1.3z M1239.9,459.5h1.3v1.3h-1.3z M1416.4,903.5h1.3v1.3h-1.3z M1381.1,301.9h1.3v1.3h-1.3z M180.9,406.3h1.3v1.3h-1.3z M1628.2,743.7h1.3v1.3h-1.3z M533.9,619.4h1.3v1.3h-1.3z M533.9,548.3h1.3v1.3h-1.3z M1768.8,424.0h1.3v1.3h-1.3z M357.4,956.8h1.3v1.3h-1.3z M39.7,743.7h1.3v1.3h-1.3z M180.9,832.5h1.3v1.3h-1.3z M180.9,761.5h1.3v1.3h-1.3z M1310.5,388.5h1.3v1.3h-1.3z M145.6,566.1h1.3v1.3h-1.3z M1451.7,301.9h1.3v1.3h-1.3z M1239.9,619.4h1.3v1.3h-1.3z M1134.0,566.1h1.3v1.3h-1.3z M533.9,424.0h1.3v1.3h-1.3z M710.4,868.0h1.3v1.3h-1.3z M1063.4,956.8h1.3v1.3h-1.3z M886.9,832.5h1.3v1.3h-1.3z M39.7,921.3h1.3v1.3h-1.3z M1204.6,301.9h1.3v1.3h-1.3z M1592.9,868.0h1.3v1.3h-1.3z M1557.6,388.5h1.3v1.3h-1.3z M357.4,814.7h1.3v1.3h-1.3z M1768.8,885.8h1.3v1.3h-1.3z M463.3,921.3h1.3v1.3h-1.3z M251.5,566.1h1.3v1.3h-1.3z M1239.9,424.0h1.3v1.3h-1.3z M1416.4,868.0h1.3v1.3h-1.3z M1063.4,814.7h1.3v1.3h-1.3z M392.7,566.1h1.3v1.3h-1.3z M357.4,921.3h1.3v1.3h-1.3z M781.0,743.7h1.3v1.3h-1.3z M533.9,956.8h1.3v1.3h-1.3z M533.9,885.8h1.3v1.3h-1.3z M1768.8,814.7h1.3v1.3h-1.3z M1451.7,477.3h1.3v1.3h-1.3z M1768.8,743.7h1.3v1.3h-1.3z M745.7,301.9h1.3v1.3h-1.3z M1487.0,388.5h1.3v1.3h-1.3z M322.1,566.1h1.3v1.3h-1.3z M1663.5,832.5h1.3v1.3h-1.3z M1628.2,301.9h1.3v1.3h-1.3z M1063.4,992.3h1.3v1.3h-1.3z M180.9,353.0h1.3v1.3h-1.3z M1063.4,921.3h1.3v1.3h-1.3z M1239.9,956.8h1.3v1.3h-1.3z M286.8,566.1h1.3v1.3h-1.3z M39.7,301.9h1.3v1.3h-1.3z M357.4,779.2h1.3v1.3h-1.3z M533.9,814.7h1.3v1.3h-1.3z M710.4,583.9h1.3v1.3h-1.3z M604.5,743.7h1.3v1.3h-1.3z M1063.4,797.0h1.3v1.3h-1.3z M1592.9,583.9h1.3v1.3h-1.3z M816.3,388.5h1.3v1.3h-1.3z M922.2,477.3h1.3v1.3h-1.3z M1063.4,850.3h1.3v1.3h-1.3z M1239.9,814.7h1.3v1.3h-1.3z M533.9,921.3h1.3v1.3h-1.3z M1416.4,583.9h1.3v1.3h-1.3z M1416.4,654.9h1.3v1.3h-1.3z M710.4,388.5h1.3v1.3h-1.3z M745.7,477.3h1.3v1.3h-1.3z M922.2,832.5h1.3v1.3h-1.3z M498.6,921.3h1.3v1.3h-1.3z M1768.8,779.2h1.3v1.3h-1.3z M1063.4,601.6h1.3v1.3h-1.3z M1592.9,388.5h1.3v1.3h-1.3z M1628.2,477.3h1.3v1.3h-1.3z M1239.9,921.3h1.3v1.3h-1.3z M639.8,388.5h1.3v1.3h-1.3z M1416.4,459.5h1.3v1.3h-1.3z M1416.4,388.5h1.3v1.3h-1.3z M1169.3,566.1h1.3v1.3h-1.3z M1310.5,743.7h1.3v1.3h-1.3z M463.3,566.1h1.3v1.3h-1.3z M1768.8,335.2h1.3v1.3h-1.3z M781.0,301.9h1.3v1.3h-1.3z M533.9,779.2h1.3v1.3h-1.3z M710.4,548.3h1.3v1.3h-1.3z M1557.6,743.7h1.3v1.3h-1.3z M1592.9,548.3h1.3v1.3h-1.3z M357.4,566.1h1.3v1.3h-1.3z M1239.9,797.0h1.3v1.3h-1.3z M1310.5,921.3h1.3v1.3h-1.3z M1239.9,850.3h1.3v1.3h-1.3z M1239.9,779.2h1.3v1.3h-1.3z M1416.4,619.4h1.3v1.3h-1.3z M533.9,301.9h1.3v1.3h-1.3z M886.9,388.5h1.3v1.3h-1.3z M604.5,301.9h1.3v1.3h-1.3z M1698.8,477.3h1.3v1.3h-1.3z M1063.4,566.1h1.3v1.3h-1.3z M357.4,370.7h1.3v1.3h-1.3z M1239.9,601.6h1.3v1.3h-1.3z M1345.8,921.3h1.3v1.3h-1.3z M781.0,477.3h1.3v1.3h-1.3z M1698.8,832.5h1.3v1.3h-1.3z M1416.4,424.0h1.3v1.3h-1.3z M992.8,832.5h1.3v1.3h-1.3z M1487.0,743.7h1.3v1.3h-1.3z M1063.4,370.7h1.3v1.3h-1.3z M569.2,921.3h1.3v1.3h-1.3z M710.4,885.8h1.3v1.3h-1.3z M110.3,477.3h1.3v1.3h-1.3z M1592.9,885.8h1.3v1.3h-1.3z M1310.5,301.9h1.3v1.3h-1.3z M816.3,743.7h1.3v1.3h-1.3z M1663.5,388.5h1.3v1.3h-1.3z M498.6,566.1h1.3v1.3h-1.3z M604.5,477.3h1.3v1.3h-1.3z M1169.3,832.5h1.3v1.3h-1.3z M1275.2,921.3h1.3v1.3h-1.3z M1416.4,956.8h1.3v1.3h-1.3z M1416.4,885.8h1.3v1.3h-1.3z M1557.6,301.9h1.3v1.3h-1.3z M1239.9,566.1h1.3v1.3h-1.3z M710.4,743.7h1.3v1.3h-1.3z M1522.3,921.3h1.3v1.3h-1.3z M816.3,921.3h1.3v1.3h-1.3z M1592.9,743.7h1.3v1.3h-1.3z M357.4,761.5h1.3v1.3h-1.3z M75.0,743.7h1.3v1.3h-1.3z M1063.4,406.3h1.3v1.3h-1.3z M639.8,743.7h1.3v1.3h-1.3z M1239.9,370.7h1.3v1.3h-1.3z M1416.4,814.7h1.3v1.3h-1.3z M851.6,477.3h1.3v1.3h-1.3z M357.4,317.5h1.3v1.3h-1.3z M1768.8,939.1h1.3v1.3h-1.3z M922.2,388.5h1.3v1.3h-1.3z M1063.4,761.5h1.3v1.3h-1.3z M1734.1,477.3h1.3v1.3h-1.3z M180.9,672.7h1.3v1.3h-1.3z M1487.0,301.9h1.3v1.3h-1.3z M639.8,921.3h1.3v1.3h-1.3z M1416.4,921.3h1.3v1.3h-1.3z M1557.6,477.3h1.3v1.3h-1.3z M1768.8,690.4h1.3v1.3h-1.3z M1345.8,566.1h1.3v1.3h-1.3z M533.9,939.1h1.3v1.3h-1.3z M710.4,779.2h1.3v1.3h-1.3z M710.4,708.2h1.3v1.3h-1.3z M886.9,743.7h1.3v1.3h-1.3z M1592.9,779.2h1.3v1.3h-1.3z M1592.9,708.2h1.3v1.3h-1.3z M1768.8,317.5h1.3v1.3h-1.3z M357.4,725.9h1.3v1.3h-1.3z M816.3,301.9h1.3v1.3h-1.3z M533.9,690.4h1.3v1.3h-1.3z M569.2,566.1h1.3v1.3h-1.3z M710.4,335.2h1.3v1.3h-1.3z M1416.4,779.2h1.3v1.3h-1.3z M1592.9,335.2h1.3v1.3h-1.3z M710.4,512.8h1.3v1.3h-1.3z M357.4,353.0h1.3v1.3h-1.3z M710.4,301.9h1.3v1.3h-1.3z M1028.1,477.3h1.3v1.3h-1.3z M533.9,317.5h1.3v1.3h-1.3z M1063.4,725.9h1.3v1.3h-1.3z M1592.9,512.8h1.3v1.3h-1.3z M357.4,530.6h1.3v1.3h-1.3z M1239.9,761.5h1.3v1.3h-1.3z M216.2,477.3h1.3v1.3h-1.3z M1275.2,566.1h1.3v1.3h-1.3z M675.1,921.3h1.3v1.3h-1.3z M180.9,708.2h1.3v1.3h-1.3z M180.9,637.1h1.3v1.3h-1.3z M1592.9,301.9h1.3v1.3h-1.3z M1028.1,832.5h1.3v1.3h-1.3z M1768.8,654.9h1.3v1.3h-1.3z M1698.8,388.5h1.3v1.3h-1.3z M1063.4,353.0h1.3v1.3h-1.3z M639.8,301.9h1.3v1.3h-1.3z M216.2,832.5h1.3v1.3h-1.3z M992.8,388.5h1.3v1.3h-1.3z M1522.3,566.1h1.3v1.3h-1.3z M1663.5,743.7h1.3v1.3h-1.3z M180.9,512.8h1.3v1.3h-1.3z M533.9,725.9h1.3v1.3h-1.3z M533.9,654.9h1.3v1.3h-1.3z M1768.8,530.6h1.3v1.3h-1.3z M1768.8,459.5h1.3v1.3h-1.3z M110.3,388.5h1.3v1.3h-1.3z M1451.7,921.3h1.3v1.3h-1.3z M886.9,301.9h1.3v1.3h-1.3z M357.4,495.1h1.3v1.3h-1.3z M1239.9,725.9h1.3v1.3h-1.3z M533.9,530.6h1.3v1.3h-1.3z M710.4,903.5h1.3v1.3h-1.3z M75.0,477.3h1.3v1.3h-1.3z M922.2,743.7h1.3v1.3h-1.3z M1592.9,903.5h1.3v1.3h-1.3z M180.9,974.6h1.3v1.3h-1.3z M428.0,566.1h1.3v1.3h-1.3z M1768.8,619.4h1.3v1.3h-1.3z M1239.9,353.0h1.3v1.3h-1.3z M1239.9,530.6h1.3v1.3h-1.3z M180.9,477.3h1.3v1.3h-1.3z M1416.4,370.7h1.3v1.3h-1.3z M1768.8,495.1h1.3v1.3h-1.3z M180.9,903.5h1.3v1.3h-1.3z M1663.5,301.9h1.3v1.3h-1.3z M851.6,388.5h1.3v1.3h-1.3z M745.7,921.3h1.3v1.3h-1.3z M886.9,477.3h1.3v1.3h-1.3z M675.1,566.1h1.3v1.3h-1.3z M957.5,477.3h1.3v1.3h-1.3z M1734.1,388.5h1.3v1.3h-1.3z M1098.7,832.5h1.3v1.3h-1.3z M1628.2,921.3h1.3v1.3h-1.3z M533.9,495.1h1.3v1.3h-1.3z M710.4,939.1h1.3v1.3h-1.3z M1592.9,939.1h1.3v1.3h-1.3z M957.5,832.5h1.3v1.3h-1.3z M1381.1,566.1h1.3v1.3h-1.3z M1768.8,956.8h1.3v1.3h-1.3z M710.4,690.4h1.3v1.3h-1.3z M1239.9,495.1h1.3v1.3h-1.3z M1416.4,939.1h1.3v1.3h-1.3z M1698.8,743.7h1.3v1.3h-1.3z M1592.9,690.4h1.3v1.3h-1.3z M992.8,743.7h1.3v1.3h-1.3z M922.2,301.9h1.3v1.3h-1.3z M357.4,992.3h1.3v1.3h-1.3z M710.4,317.5h1.3v1.3h-1.3z M180.9,868.0h1.3v1.3h-1.3z M1416.4,690.4h1.3v1.3h-1.3z M1416.4,761.5h1.3v1.3h-1.3z M1663.5,477.3h1.3v1.3h-1.3z M1451.7,566.1h1.3v1.3h-1.3z M1592.9,317.5h1.3v1.3h-1.3z M428.0,832.5h1.3v1.3h-1.3z M1028.1,388.5h1.3v1.3h-1.3z M1204.6,566.1h1.3v1.3h-1.3z M216.2,388.5h1.3v1.3h-1.3z M1416.4,317.5h1.3v1.3h-1.3z M110.3,743.7h1.3v1.3h-1.3z M357.4,797.0h1.3v1.3h-1.3z M781.0,921.3h1.3v1.3h-1.3z M357.4,850.3h1.3v1.3h-1.3z M1768.8,992.3h1.3v1.3h-1.3z M1768.8,921.3h1.3v1.3h-1.3z M710.4,654.9h1.3v1.3h-1.3z M145.6,477.3h1.3v1.3h-1.3z M1134.0,477.3h1.3v1.3h-1.3z M1592.9,654.9h1.3v1.3h-1.3z M110.3,921.3h1.3v1.3h-1.3z M357.4,672.7h1.3v1.3h-1.3z M357.4,601.6h1.3v1.3h-1.3z M145.6,832.5h1.3v1.3h-1.3z M1134.0,832.5h1.3v1.3h-1.3z M533.9,992.3h1.3v1.3h-1.3z M1416.4,725.9h1.3v1.3h-1.3z M1768.8,797.0h1.3v1.3h-1.3z M710.4,459.5h1.3v1.3h-1.3z M251.5,477.3h1.3v1.3h-1.3z M604.5,921.3h1.3v1.3h-1.3z M1768.8,850.3h1.3v1.3h-1.3z M1063.4,672.7h1.3v1.3h-1.3z M1592.9,459.5h1.3v1.3h-1.3z M1381.1,832.5h1.3v1.3h-1.3z M1698.8,301.9h1.3v1.3h-1.3z M39.7,566.1h1.3v1.3h-1.3z M992.8,301.9h1.3v1.3h-1.3z M1416.4,353.0h1.3v1.3h-1.3z M180.9,583.9h1.3v1.3h-1.3z M75.0,388.5h1.3v1.3h-1.3z M851.6,743.7h1.3v1.3h-1.3z M251.5,832.5h1.3v1.3h-1.3z M1239.9,992.3h1.3v1.3h-1.3z M533.9,797.0h1.3v1.3h-1.3z M1416.4,530.6h1.3v1.3h-1.3z M1734.1,743.7h1.3v1.3h-1.3z M1768.8,601.6h1.3v1.3h-1.3z M533.9,850.3h1.3v1.3h-1.3z M392.7,832.5h1.3v1.3h-1.3z M710.4,619.4h1.3v1.3h-1.3z M322.1,477.3h1.3v1.3h-1.3z M1592.9,619.4h1.3v1.3h-1.3z M180.9,388.5h1.3v1.3h-1.3z M851.6,921.3h1.3v1.3h-1.3z M357.4,637.1h1.3v1.3h-1.3z M286.8,477.3h1.3v1.3h-1.3z M110.3,301.9h1.3v1.3h-1.3z M533.9,601.6h1.3v1.3h-1.3z M1204.6,832.5h1.3v1.3h-1.3z M1734.1,921.3h1.3v1.3h-1.3z M322.1,832.5h1.3v1.3h-1.3z M1098.7,388.5h1.3v1.3h-1.3z M710.4,495.1h1.3v1.3h-1.3z M710.4,424.0h1.3v1.3h-1.3z M286.8,832.5h1.3v1.3h-1.3z M1557.6,921.3h1.3v1.3h-1.3z M1592.9,495.1h1.3v1.3h-1.3z M1592.9,424.0h1.3v1.3h-1.3z M957.5,388.5h1.3v1.3h-1.3z M992.8,477.3h1.3v1.3h-1.3z" fill="#222"/>
<line x1="7" y1="655.5" x2="1770" y2="655.5" stroke="#111" stroke-width="1.2" stroke-dasharray="1.1 0.9"/>
<line x1="887.5" y1="301" x2="887.5" y2="1003" stroke="#111" stroke-width="1.2" stroke-dasharray="1.1 0.9"/>
<path d="M5.0,648.5v14 M40.3,651.5v8 M75.6,651.5v8 M110.9,651.5v8 M146.2,651.5v8 M181.5,648.5v14 M216.8,651.5v8 M252.1,651.5v8 M287.4,651.5v8 M322.7,651.5v8 M358.0,648.5v14 M393.3,651.5v8 M428.6,651.5v8 M463.9,651.5v8 M499.2,651.5v8 M534.5,648.5v14 M569.8,651.5v8 M605.1,651.5v8 M640.4,651.5v8 M675.7,651.5v8 M711.0,648.5v14 M746.3,651.5v8 M781.6,651.5v8 M816.9,651.5v8 M852.2,651.5v8 M887.5,648.5v14 M922.8,651.5v8 M958.1,651.5v8 M993.4,651.5v8 M1028.7,651.5v8 M1064.0,648.5v14 M1099.3,651.5v8 M1134.6,651.5v8 M1169.9,651.5v8 M1205.2,651.5v8 M1240.5,648.5v14 M1275.8,651.5v8 M1311.1,651.5v8 M1346.4,651.5v8 M1381.7,651.5v8 M1417.0,648.5v14 M1452.3,651.5v8 M1487.6,651.5v8 M1522.9,651.5v8 M1558.2,651.5v8 M1593.5,648.5v14 M1628.8,651.5v8 M1664.1,651.5v8 M1699.4,651.5v8 M1734.7,651.5v8 M1770.0,648.5v14 M880.5,300.3h14 M883.5,318.1h8 M883.5,335.8h8 M883.5,353.6h8 M883.5,371.3h8 M880.5,389.1h14 M883.5,406.9h8 M883.5,424.6h8 M883.5,442.4h8 M883.5,460.1h8 M880.5,477.9h14 M883.5,495.7h8 M883.5,513.4h8 M883.5,531.2h8 M883.5,548.9h8 M880.5,566.7h14 M883.5,584.5h8 M883.5,602.2h8 M883.5,620.0h8 M883.5,637.7h8 M880.5,655.5h14 M883.5,673.3h8 M883.5,691.0h8 M883.5,708.8h8 M883.5,726.5h8 M880.5,744.3h14 M883.5,762.1h8 M883.5,779.8h8 M883.5,797.6h8 M883.5,815.3h8 M880.5,833.1h14 M883.5,850.9h8 M883.5,868.6h8 M883.5,886.4h8 M883.5,904.1h8 M880.5,921.9h14 M883.5,939.7h8 M883.5,957.4h8 M883.5,975.2h8 M883.5,992.9h8 M880.5,1010.7h14" stroke="#111" stroke-width="1.2" stroke-dasharray="1.2 1.6" fill="none"/>
<line x1="9.5" y1="301" x2="9.5" y2="1012" stroke="#3a3aa0" stroke-width="1.2" stroke-dasharray="3 2"/>
<line x1="364.5" y1="301" x2="364.5" y2="1012" stroke="#3a3aa0" stroke-width="1.2" stroke-dasharray="3 2"/>
<rect x="1669" y="378.3" width="100" height="20" fill="#fff"/>
<text x="1707.8" y="395.8" font-size="21" fill="#7fa21a" textLength="32.0" lengthAdjust="spacingAndGlyphs" stroke="#7fa21a" stroke-width="0.45">25.2</text>
<text x="1750.0" y="395.8" font-size="21" fill="#7fa21a" textLength="13.6" lengthAdjust="spacingAndGlyphs" stroke="#7fa21a" stroke-width="0.45">A</text>
<rect x="1669" y="467.1" width="100" height="20" fill="#fff"/>
<text x="1707.0" y="484.6" font-size="21" fill="#7fa21a" textLength="34.0" lengthAdjust="spacingAndGlyphs" stroke="#7fa21a" stroke-width="0.45">20.2</text>
<rect x="1669" y="555.9" width="100" height="20" fill="#fff"/>
<text x="1711.0" y="573.4" font-size="21" fill="#7fa21a" textLength="32.5" lengthAdjust="spacingAndGlyphs" stroke="#7fa21a" stroke-width="0.45">15.2</text>
<text x="1750.3" y="573.4" font-size="21" fill="#7fa21a" textLength="13.3" lengthAdjust="spacingAndGlyphs" stroke="#7fa21a" stroke-width="0.45">A</text>
<rect x="1669" y="644.7" width="100" height="20" fill="#fff"/>
<text x="1709.5" y="662.2" font-size="21" fill="#7fa21a" textLength="34.0" lengthAdjust="spacingAndGlyphs" stroke="#7fa21a" stroke-width="0.45">10.2</text>
<text x="1750.3" y="662.2" font-size="21" fill="#7fa21a" textLength="13.3" lengthAdjust="spacingAndGlyphs" stroke="#7fa21a" stroke-width="0.45">A</text>
<rect x="1669" y="733.5" width="100" height="20" fill="#fff"/>
<text x="1706.4" y="751.0" font-size="21" fill="#7fa21a" textLength="35.4" lengthAdjust="spacingAndGlyphs" stroke="#7fa21a" stroke-width="0.45">5.20</text>
<text x="1751.7" y="751.0" font-size="21" fill="#7fa21a" textLength="12.7" lengthAdjust="spacingAndGlyphs" stroke="#7fa21a" stroke-width="0.45">A</text>
<rect x="1669" y="822.4" width="100" height="20" fill="#fff"/>
<text x="1693.8" y="839.9" font-size="21" fill="#7fa21a" textLength="32.1" lengthAdjust="spacingAndGlyphs" stroke="#7fa21a" stroke-width="0.45">200</text>
<text x="1734.2" y="839.9" font-size="21" fill="#7fa21a" textLength="31.0" lengthAdjust="spacingAndGlyphs" stroke="#7fa21a" stroke-width="0.45">mA</text>
<rect x="1669" y="911.4" width="100" height="20" fill="#fff"/>
<text x="1696.6" y="928.9" font-size="21" fill="#7fa21a" textLength="44.8" lengthAdjust="spacingAndGlyphs" stroke="#7fa21a" stroke-width="0.45">-4.80</text>
<text x="1752.5" y="928.9" font-size="21" fill="#7fa21a" textLength="12.7" lengthAdjust="spacingAndGlyphs" stroke="#7fa21a" stroke-width="0.45">A</text>
<path d="M7,951 L89.2,951 L90.2,946 L91.7,949 L92.2,977 L93.2,977 L94.2,951 L94.2,765.5 L94.7,687 L96.2,688 L97.2,716 L98.2,690 L100.2,712 L102.2,696 L104.2,708 L108.2,705.5 L261.5,705.5 L262.5,703.5 L267.0,702.5 L267.5,678 L268.5,680 L269.0,705.5 L269.5,967 L270.5,968 L271.5,940 L273.5,962 L275.5,945 L278.5,955 L282.5,951 L443.5,951 L444.5,946 L446.0,949 L446.5,977 L447.5,977 L448.5,951 L448.5,765.5 L449.0,687 L450.5,688 L451.5,716 L452.5,690 L454.5,712 L456.5,696 L458.5,708 L462.5,705.5 L614.5,705.5 L615.5,703.5 L620.0,702.5 L620.5,678 L621.5,680 L622.0,705.5 L622.5,967 L623.5,968 L624.5,940 L626.5,962 L628.5,945 L631.5,955 L635.5,951 L796.8,951 L797.8,946 L799.3,949 L799.8,977 L800.8,977 L801.8,951 L801.8,765.5 L802.3,687 L803.8,688 L804.8,716 L805.8,690 L807.8,712 L809.8,696 L811.8,708 L815.8,705.5 L966.8,705.5 L967.8,703.5 L972.3,702.5 L972.8,678 L973.8,680 L974.3,705.5 L974.8,967 L975.8,968 L976.8,940 L978.8,962 L980.8,945 L983.8,955 L987.8,951 L1149.5,951 L1150.5,946 L1152.0,949 L1152.5,977 L1153.5,977 L1153.5,951 L1153.5,781 L1155.5,780 L1155.5,765.5 L1155.0,687 L1156.5,688 L1157.5,716 L1158.5,690 L1160.5,712 L1162.5,696 L1164.5,708 L1168.5,705.5 L1320,705.5 L1321,703.5 L1325.5,702.5 L1326,678 L1327,680 L1327.5,705.5 L1328,967 L1329,968 L1330,940 L1332,962 L1334,945 L1337,955 L1341,951 L1503,951 L1504,946 L1505.5,949 L1506,977 L1507,977 L1508,951 L1508,765.5 L1508.5,687 L1510,688 L1511,716 L1512,690 L1514,712 L1516,696 L1518,708 L1522,705.5 L1671.5,705.5 L1672.5,703.5 L1677.0,702.5 L1677.5,678 L1678.5,680 L1679.0,705.5 L1679.5,967 L1680.5,968 L1681.5,940 L1683.5,962 L1685.5,945 L1688.5,955 L1692.5,951 L1770,951" fill="none" stroke="#f020f0" stroke-width="2.2" stroke-linejoin="miter"/>
<path d="M94.2,687 L97.2,687.5 L99.2,692 L102.2,697 L106.2,702 L107.2,704.0 L107.2,707.5 L102.2,712 L99.2,714 L96.2,716 L94.2,716 Z" fill="#f020f0"/><path d="M448.5,687 L451.5,687.5 L453.5,692 L456.5,697 L460.5,702 L461.5,704.0 L461.5,707.5 L456.5,712 L453.5,714 L450.5,716 L448.5,716 Z" fill="#f020f0"/><path d="M801.8,687 L804.8,687.5 L806.8,692 L809.8,697 L813.8,702 L814.8,704.0 L814.8,707.5 L809.8,712 L806.8,714 L803.8,716 L801.8,716 Z" fill="#f020f0"/><path d="M1154.5,687 L1157.5,687.5 L1159.5,692 L1162.5,697 L1166.5,702 L1167.5,704.0 L1167.5,707.5 L1162.5,712 L1159.5,714 L1156.5,716 L1154.5,716 Z" fill="#f020f0"/><path d="M1508,687 L1511,687.5 L1513,692 L1516,697 L1520,702 L1521,704.0 L1521,707.5 L1516,712 L1513,714 L1510,716 L1508,716 Z" fill="#f020f0"/><path d="M269.0,968 L271.5,967 L273.5,961 L276.5,957 L280.5,954 L281.5,952.5 L281.5,949 L276.5,945 L273.5,941 L270.5,936 L269.0,936 Z" fill="#f020f0"/><path d="M622.0,968 L624.5,967 L626.5,961 L629.5,957 L633.5,954 L634.5,952.5 L634.5,949 L629.5,945 L626.5,941 L623.5,936 L622.0,936 Z" fill="#f020f0"/><path d="M974.3,968 L976.8,967 L978.8,961 L981.8,957 L985.8,954 L986.8,952.5 L986.8,949 L981.8,945 L978.8,941 L975.8,936 L974.3,936 Z" fill="#f020f0"/><path d="M1327.5,968 L1330,967 L1332,961 L1335,957 L1339,954 L1340,952.5 L1340,949 L1335,945 L1332,941 L1329,936 L1327.5,936 Z" fill="#f020f0"/><path d="M1679.0,968 L1681.5,967 L1683.5,961 L1686.5,957 L1690.5,954 L1691.5,952.5 L1691.5,949 L1686.5,945 L1683.5,941 L1680.5,936 L1679.0,936 Z" fill="#f020f0"/><rect x="108.2" y="703.9" width="153.3" height="3.2" fill="#f020f0"/><rect x="110.1" y="702.5" width="3" height="3" fill="#f020f0"/><rect x="113.9" y="705.5" width="1.5" height="2" fill="#f020f0"/><rect x="118.2" y="705.5" width="3" height="4" fill="#f020f0"/><rect x="122.3" y="705.5" width="3" height="2" fill="#f020f0"/><rect x="125.4" y="705.5" width="2" height="2" fill="#f020f0"/><rect x="127.5" y="705.5" width="3" height="2" fill="#f020f0"/><rect x="131.8" y="702.5" width="2" height="3" fill="#f020f0"/><rect x="133.9" y="705.5" width="2" height="3" fill="#f020f0"/><rect x="137.6" y="702.5" width="1.5" height="3" fill="#f020f0"/><rect x="140.8" y="703.5" width="3" height="2" fill="#f020f0"/><rect x="144.2" y="705.5" width="2" height="4" fill="#f020f0"/><rect x="147.9" y="705.5" width="1.5" height="3" fill="#f020f0"/><rect x="150.6" y="705.5" width="1.5" height="2" fill="#f020f0"/><rect x="152.1" y="703.5" width="3" height="2" fill="#f020f0"/><rect x="155.9" y="705.5" width="2" height="2" fill="#f020f0"/><rect x="159.2" y="702.5" width="1.5" height="3" fill="#f020f0"/><rect x="160.9" y="705.5" width="1.5" height="2" fill="#f020f0"/><rect x="163.6" y="701.5" width="2" height="4" fill="#f020f0"/><rect x="167.3" y="705.5" width="1.5" height="2" fill="#f020f0"/><rect x="171.2" y="702.5" width="2" height="3" fill="#f020f0"/><rect x="175.0" y="703.5" width="3" height="2" fill="#f020f0"/><rect x="178.0" y="701.5" width="2" height="4" fill="#f020f0"/><rect x="181.9" y="705.5" width="2" height="4" fill="#f020f0"/><rect x="186.3" y="701.5" width="1.5" height="4" fill="#f020f0"/><rect x="187.9" y="705.5" width="2" height="3" fill="#f020f0"/><rect x="191.5" y="705.5" width="3" height="4" fill="#f020f0"/><rect x="196.1" y="705.5" width="3" height="3" fill="#f020f0"/><rect x="200.2" y="705.5" width="1.5" height="3" fill="#f020f0"/><rect x="203.2" y="705.5" width="1.5" height="3" fill="#f020f0"/><rect x="205.6" y="701.5" width="2" height="4" fill="#f020f0"/><rect x="210.5" y="705.5" width="3" height="3" fill="#f020f0"/><rect x="213.0" y="701.5" width="1.5" height="4" fill="#f020f0"/><rect x="216.2" y="703.5" width="2" height="2" fill="#f020f0"/><rect x="219.1" y="705.5" width="1.5" height="3" fill="#f020f0"/><rect x="221.8" y="705.5" width="2" height="4" fill="#f020f0"/><rect x="225.1" y="705.5" width="1.5" height="3" fill="#f020f0"/><rect x="227.3" y="705.5" width="1.5" height="3" fill="#f020f0"/><rect x="230.4" y="705.5" width="1.5" height="3" fill="#f020f0"/><rect x="234.0" y="701.5" width="2" height="4" fill="#f020f0"/><rect x="236.9" y="703.5" width="3" height="2" fill="#f020f0"/><rect x="240.3" y="703.5" width="2" height="2" fill="#f020f0"/><rect x="243.0" y="705.5" width="3" height="3" fill="#f020f0"/><rect x="246.1" y="701.5" width="3" height="4" fill="#f020f0"/><rect x="250.2" y="705.5" width="1.5" height="3" fill="#f020f0"/><rect x="252.9" y="705.5" width="1.5" height="4" fill="#f020f0"/><rect x="257.4" y="705.5" width="3" height="4" fill="#f020f0"/><rect x="261.3" y="702.5" width="2" height="3" fill="#f020f0"/><rect x="462.5" y="703.9" width="152.0" height="3.2" fill="#f020f0"/><rect x="465.9" y="705.5" width="2" height="3" fill="#f020f0"/><rect x="468.7" y="705.5" width="3" height="3" fill="#f020f0"/><rect x="471.9" y="702.5" width="3" height="3" fill="#f020f0"/><rect x="476.8" y="705.5" width="2" height="4" fill="#f020f0"/><rect x="480.0" y="701.5" width="3" height="4" fill="#f020f0"/><rect x="481.8" y="702.5" width="1.5" height="3" fill="#f020f0"/><rect x="483.9" y="705.5" width="1.5" height="3" fill="#f020f0"/><rect x="486.4" y="705.5" width="3" height="3" fill="#f020f0"/><rect x="489.8" y="702.5" width="2" height="3" fill="#f020f0"/><rect x="494.0" y="703.5" width="3" height="2" fill="#f020f0"/><rect x="498.7" y="705.5" width="3" height="2" fill="#f020f0"/><rect x="501.0" y="705.5" width="2" height="3" fill="#f020f0"/><rect x="503.7" y="702.5" width="3" height="3" fill="#f020f0"/><rect x="506.1" y="705.5" width="3" height="3" fill="#f020f0"/><rect x="509.0" y="701.5" width="2" height="4" fill="#f020f0"/><rect x="510.9" y="703.5" width="1.5" height="2" fill="#f020f0"/><rect x="514.7" y="705.5" width="3" height="3" fill="#f020f0"/><rect x="517.3" y="705.5" width="3" height="4" fill="#f020f0"/><rect x="522.2" y="702.5" width="3" height="3" fill="#f020f0"/><rect x="525.6" y="702.5" width="1.5" height="3" fill="#f020f0"/><rect x="530.0" y="701.5" width="1.5" height="4" fill="#f020f0"/><rect x="532.3" y="702.5" width="3" height="3" fill="#f020f0"/><rect x="535.8" y="705.5" width="2" height="2" fill="#f020f0"/><rect x="538.1" y="705.5" width="1.5" height="4" fill="#f020f0"/><rect x="542.6" y="705.5" width="2" height="4" fill="#f020f0"/><rect x="544.9" y="702.5" width="2" height="3" fill="#f020f0"/><rect x="548.9" y="701.5" width="1.5" height="4" fill="#f020f0"/><rect x="552.1" y="701.5" width="2" height="4" fill="#f020f0"/><rect x="555.4" y="705.5" width="2" height="3" fill="#f020f0"/><rect x="557.3" y="703.5" width="2" height="2" fill="#f020f0"/><rect x="562.0" y="702.5" width="3" height="3" fill="#f020f0"/><rect x="564.5" y="705.5" width="1.5" height="2" fill="#f020f0"/><rect x="566.3" y="702.5" width="3" height="3" fill="#f020f0"/><rect x="569.8" y="705.5" width="1.5" height="4" fill="#f020f0"/><rect x="574.6" y="705.5" width="2" height="2" fill="#f020f0"/><rect x="578.2" y="701.5" width="2" height="4" fill="#f020f0"/><rect x="579.9" y="705.5" width="1.5" height="4" fill="#f020f0"/><rect x="584.3" y="705.5" width="2" height="4" fill="#f020f0"/><rect x="588.5" y="701.5" width="3" height="4" fill="#f020f0"/><rect x="591.8" y="703.5" width="2" height="2" fill="#f020f0"/><rect x="596.3" y="702.5" width="3" height="3" fill="#f020f0"/><rect x="597.9" y="705.5" width="3" height="4" fill="#f020f0"/><rect x="602.6" y="705.5" width="2" height="4" fill="#f020f0"/><rect x="606.7" y="705.5" width="2" height="3" fill="#f020f0"/><rect x="609.4" y="701.5" width="2" height="4" fill="#f020f0"/><rect x="614.0" y="705.5" width="3" height="3" fill="#f020f0"/><rect x="815.8" y="703.9" width="151.0" height="3.2" fill="#f020f0"/><rect x="818.2" y="702.5" width="1.5" height="3" fill="#f020f0"/><rect x="823.0" y="703.5" width="2" height="2" fill="#f020f0"/><rect x="826.5" y="701.5" width="1.5" height="4" fill="#f020f0"/><rect x="829.1" y="705.5" width="1.5" height="2" fill="#f020f0"/><rect x="831.4" y="703.5" width="2" height="2" fill="#f020f0"/><rect x="833.5" y="705.5" width="3" height="3" fill="#f020f0"/><rect x="836.9" y="705.5" width="3" height="3" fill="#f020f0"/><rect x="840.6" y="702.5" width="2" height="3" fill="#f020f0"/><rect x="845.4" y="705.5" width="2" height="2" fill="#f020f0"/><rect x="848.0" y="705.5" width="3" height="3" fill="#f020f0"/><rect x="851.7" y="705.5" width="1.5" height="3" fill="#f020f0"/><rect x="856.3" y="703.5" width="3" height="2" fill="#f020f0"/><rect x="859.9" y="705.5" width="3" height="3" fill="#f020f0"/><rect x="864.0" y="705.5" width="2" height="3" fill="#f020f0"/><rect x="867.5" y="705.5" width="2" height="4" fill="#f020f0"/><rect x="871.7" y="702.5" width="3" height="3" fill="#f020f0"/><rect x="875.5" y="703.5" width="2" height="2" fill="#f020f0"/><rect x="877.0" y="701.5" width="2" height="4" fill="#f020f0"/><rect x="880.2" y="702.5" width="3" height="3" fill="#f020f0"/><rect x="884.7" y="702.5" width="1.5" height="3" fill="#f020f0"/><rect x="888.2" y="702.5" width="1.5" height="3" fill="#f020f0"/><rect x="890.6" y="705.5" width="1.5" height="4" fill="#f020f0"/><rect x="893.1" y="705.5" width="2" height="2" fill="#f020f0"/><rect x="894.9" y="702.5" width="2" height="3" fill="#f020f0"/><rect x="898.6" y="702.5" width="1.5" height="3" fill="#f020f0"/><rect x="901.2" y="703.5" width="1.5" height="2" fill="#f020f0"/><rect x="905.1" y="705.5" width="2" height="3" fill="#f020f0"/><rect x="908.4" y="703.5" width="3" height="2" fill="#f020f0"/><rect x="911.1" y="705.5" width="2" height="3" fill="#f020f0"/><rect x="914.5" y="705.5" width="1.5" height="2" fill="#f020f0"/><rect x="917.7" y="701.5" width="3" height="4" fill="#f020f0"/><rect x="922.6" y="705.5" width="3" height="4" fill="#f020f0"/><rect x="924.3" y="703.5" width="1.5" height="2" fill="#f020f0"/><rect x="929.3" y="705.5" width="3" height="3" fill="#f020f0"/><rect x="933.1" y="705.5" width="1.5" height="2" fill="#f020f0"/><rect x="937.8" y="703.5" width="1.5" height="2" fill="#f020f0"/><rect x="941.3" y="701.5" width="3" height="4" fill="#f020f0"/><rect x="943.6" y="705.5" width="1.5" height="3" fill="#f020f0"/><rect x="948.4" y="705.5" width="3" height="2" fill="#f020f0"/><rect x="953.0" y="703.5" width="3" height="2" fill="#f020f0"/><rect x="955.4" y="705.5" width="3" height="2" fill="#f020f0"/><rect x="960.2" y="705.5" width="1.5" height="3" fill="#f020f0"/><rect x="964.5" y="702.5" width="1.5" height="3" fill="#f020f0"/><rect x="1168.5" y="703.9" width="151.5" height="3.2" fill="#f020f0"/><rect x="1172.2" y="702.5" width="2" height="3" fill="#f020f0"/><rect x="1174.3" y="703.5" width="1.5" height="2" fill="#f020f0"/><rect x="1176.4" y="703.5" width="3" height="2" fill="#f020f0"/><rect x="1180.0" y="705.5" width="3" height="3" fill="#f020f0"/><rect x="1184.2" y="705.5" width="2" height="3" fill="#f020f0"/><rect x="1187.5" y="701.5" width="1.5" height="4" fill="#f020f0"/><rect x="1189.4" y="705.5" width="3" height="4" fill="#f020f0"/><rect x="1193.5" y="705.5" width="3" height="3" fill="#f020f0"/><rect x="1196.6" y="702.5" width="2" height="3" fill="#f020f0"/><rect x="1198.3" y="705.5" width="2" height="2" fill="#f020f0"/><rect x="1199.9" y="705.5" width="1.5" height="4" fill="#f020f0"/><rect x="1204.5" y="705.5" width="2" height="2" fill="#f020f0"/><rect x="1206.3" y="703.5" width="1.5" height="2" fill="#f020f0"/><rect x="1208.4" y="702.5" width="1.5" height="3" fill="#f020f0"/><rect x="1212.2" y="703.5" width="2" height="2" fill="#f020f0"/><rect x="1214.9" y="705.5" width="3" height="3" fill="#f020f0"/><rect x="1219.6" y="702.5" width="2" height="3" fill="#f020f0"/><rect x="1224.3" y="701.5" width="3" height="4" fill="#f020f0"/><rect x="1227.6" y="705.5" width="3" height="4" fill="#f020f0"/><rect x="1231.9" y="705.5" width="1.5" height="3" fill="#f020f0"/><rect x="1236.7" y="702.5" width="3" height="3" fill="#f020f0"/><rect x="1241.3" y="705.5" width="2" height="3" fill="#f020f0"/><rect x="1245.3" y="705.5" width="2" height="3" fill="#f020f0"/><rect x="1248.5" y="703.5" width="2" height="2" fill="#f020f0"/><rect x="1252.6" y="705.5" width="1.5" height="3" fill="#f020f0"/><rect x="1257.0" y="703.5" width="3" height="2" fill="#f020f0"/><rect x="1259.8" y="705.5" width="3" height="3" fill="#f020f0"/><rect x="1263.3" y="705.5" width="2" height="3" fill="#f020f0"/><rect x="1267.5" y="705.5" width="3" height="2" fill="#f020f0"/><rect x="1269.4" y="705.5" width="1.5" height="3" fill="#f020f0"/><rect x="1271.5" y="705.5" width="1.5" height="3" fill="#f020f0"/><rect x="1275.8" y="705.5" width="3" height="4" fill="#f020f0"/><rect x="1279.5" y="705.5" width="1.5" height="3" fill="#f020f0"/><rect x="1282.7" y="701.5" width="2" height="4" fill="#f020f0"/><rect x="1284.4" y="702.5" width="2" height="3" fill="#f020f0"/><rect x="1287.2" y="703.5" width="2" height="2" fill="#f020f0"/><rect x="1291.7" y="705.5" width="2" height="4" fill="#f020f0"/><rect x="1293.3" y="702.5" width="2" height="3" fill="#f020f0"/><rect x="1295.4" y="705.5" width="3" height="3" fill="#f020f0"/><rect x="1299.2" y="705.5" width="1.5" height="2" fill="#f020f0"/><rect x="1302.4" y="701.5" width="2" height="4" fill="#f020f0"/><rect x="1306.5" y="705.5" width="2" height="2" fill="#f020f0"/><rect x="1311.3" y="702.5" width="2" height="3" fill="#f020f0"/><rect x="1314.9" y="705.5" width="3" height="3" fill="#f020f0"/><rect x="1316.5" y="705.5" width="3" height="3" fill="#f020f0"/><rect x="1319.0" y="701.5" width="3" height="4" fill="#f020f0"/><rect x="1522.0" y="703.9" width="149.5" height="3.2" fill="#f020f0"/><rect x="1525.0" y="702.5" width="1.5" height="3" fill="#f020f0"/><rect x="1528.7" y="705.5" width="3" height="3" fill="#f020f0"/><rect x="1532.7" y="705.5" width="3" height="3" fill="#f020f0"/><rect x="1536.8" y="703.5" width="2" height="2" fill="#f020f0"/><rect x="1539.8" y="705.5" width="3" height="3" fill="#f020f0"/><rect x="1543.1" y="705.5" width="1.5" height="3" fill="#f020f0"/><rect x="1547.2" y="705.5" width="2" height="3" fill="#f020f0"/><rect x="1551.8" y="703.5" width="2" height="2" fill="#f020f0"/><rect x="1554.4" y="701.5" width="2" height="4" fill="#f020f0"/><rect x="1556.8" y="701.5" width="1.5" height="4" fill="#f020f0"/><rect x="1558.8" y="702.5" width="2" height="3" fill="#f020f0"/><rect x="1562.5" y="702.5" width="1.5" height="3" fill="#f020f0"/><rect x="1566.8" y="705.5" width="3" height="3" fill="#f020f0"/><rect x="1570.2" y="705.5" width="3" height="3" fill="#f020f0"/><rect x="1574.7" y="703.5" width="1.5" height="2" fill="#f020f0"/><rect x="1579.0" y="705.5" width="1.5" height="2" fill="#f020f0"/><rect x="1581.0" y="703.5" width="2" height="2" fill="#f020f0"/><rect x="1583.1" y="702.5" width="3" height="3" fill="#f020f0"/><rect x="1585.9" y="705.5" width="3" height="3" fill="#f020f0"/><rect x="1588.1" y="703.5" width="1.5" height="2" fill="#f020f0"/><rect x="1590.1" y="702.5" width="3" height="3" fill="#f020f0"/><rect x="1592.1" y="701.5" width="2" height="4" fill="#f020f0"/><rect x="1593.9" y="702.5" width="3" height="3" fill="#f020f0"/><rect x="1597.4" y="705.5" width="3" height="4" fill="#f020f0"/><rect x="1600.3" y="705.5" width="2" height="3" fill="#f020f0"/><rect x="1604.8" y="705.5" width="2" height="3" fill="#f020f0"/><rect x="1609.7" y="702.5" width="1.5" height="3" fill="#f020f0"/><rect x="1612.5" y="703.5" width="1.5" height="2" fill="#f020f0"/><rect x="1617.0" y="702.5" width="2" height="3" fill="#f020f0"/><rect x="1620.7" y="702.5" width="2" height="3" fill="#f020f0"/><rect x="1624.2" y="702.5" width="3" height="3" fill="#f020f0"/><rect x="1627.0" y="705.5" width="1.5" height="4" fill="#f020f0"/><rect x="1629.2" y="702.5" width="1.5" height="3" fill="#f020f0"/><rect x="1633.1" y="701.5" width="2" height="4" fill="#f020f0"/><rect x="1637.9" y="705.5" width="1.5" height="4" fill="#f020f0"/><rect x="1642.7" y="705.5" width="2" height="3" fill="#f020f0"/><rect x="1645.9" y="705.5" width="2" height="2" fill="#f020f0"/><rect x="1647.7" y="702.5" width="1.5" height="3" fill="#f020f0"/><rect x="1649.7" y="705.5" width="2" height="3" fill="#f020f0"/><rect x="1652.6" y="705.5" width="3" height="3" fill="#f020f0"/><rect x="1656.3" y="702.5" width="1.5" height="3" fill="#f020f0"/><rect x="1660.8" y="702.5" width="2" height="3" fill="#f020f0"/><rect x="1664.1" y="703.5" width="1.5" height="2" fill="#f020f0"/><rect x="1667.9" y="702.5" width="1.5" height="3" fill="#f020f0"/><rect x="1669.4" y="703.5" width="3" height="2" fill="#f020f0"/><rect x="7.0" y="949.4" width="82.2" height="3.2" fill="#f020f0"/><rect x="8.9" y="949.0" width="3" height="2" fill="#f020f0"/><rect x="13.6" y="951.0" width="1.5" height="4" fill="#f020f0"/><rect x="15.3" y="951.0" width="2" height="4" fill="#f020f0"/><rect x="17.8" y="948.0" width="1.5" height="3" fill="#f020f0"/><rect x="21.4" y="948.0" width="1.5" height="3" fill="#f020f0"/><rect x="25.8" y="948.0" width="1.5" height="3" fill="#f020f0"/><rect x="28.0" y="951.0" width="1.5" height="3" fill="#f020f0"/><rect x="31.5" y="951.0" width="1.5" height="4" fill="#f020f0"/><rect x="34.9" y="951.0" width="2" height="4" fill="#f020f0"/><rect x="39.2" y="947.0" width="3" height="4" fill="#f020f0"/><rect x="42.4" y="951.0" width="3" height="3" fill="#f020f0"/><rect x="46.6" y="951.0" width="1.5" height="4" fill="#f020f0"/><rect x="50.3" y="948.0" width="2" height="3" fill="#f020f0"/><rect x="54.2" y="951.0" width="1.5" height="2" fill="#f020f0"/><rect x="56.1" y="948.0" width="3" height="3" fill="#f020f0"/><rect x="57.6" y="951.0" width="2" height="3" fill="#f020f0"/><rect x="60.6" y="951.0" width="3" height="3" fill="#f020f0"/><rect x="63.8" y="948.0" width="1.5" height="3" fill="#f020f0"/><rect x="65.4" y="951.0" width="1.5" height="3" fill="#f020f0"/><rect x="67.2" y="951.0" width="3" height="2" fill="#f020f0"/><rect x="71.6" y="951.0" width="1.5" height="3" fill="#f020f0"/><rect x="76.5" y="951.0" width="2" height="3" fill="#f020f0"/><rect x="80.5" y="951.0" width="3" height="2" fill="#f020f0"/><rect x="84.4" y="948.0" width="2" height="3" fill="#f020f0"/><rect x="88.4" y="948.0" width="2" height="3" fill="#f020f0"/><rect x="282.5" y="949.4" width="161.0" height="3.2" fill="#f020f0"/><rect x="286.1" y="948.0" width="1.5" height="3" fill="#f020f0"/><rect x="287.9" y="951.0" width="1.5" height="3" fill="#f020f0"/><rect x="291.3" y="951.0" width="1.5" height="2" fill="#f020f0"/><rect x="294.3" y="948.0" width="1.5" height="3" fill="#f020f0"/><rect x="297.3" y="948.0" width="1.5" height="3" fill="#f020f0"/><rect x="299.8" y="948.0" width="2" height="3" fill="#f020f0"/><rect x="303.8" y="948.0" width="1.5" height="3" fill="#f020f0"/><rect x="306.1" y="951.0" width="2" height="3" fill="#f020f0"/><rect x="310.5" y="948.0" width="3" height="3" fill="#f020f0"/><rect x="314.7" y="949.0" width="3" height="2" fill="#f020f0"/><rect x="319.1" y="951.0" width="1.5" height="4" fill="#f020f0"/><rect x="324.1" y="951.0" width="2" height="3" fill="#f020f0"/><rect x="328.0" y="951.0" width="1.5" height="4" fill="#f020f0"/><rect x="330.5" y="947.0" width="3" height="4" fill="#f020f0"/><rect x="332.1" y="951.0" width="3" height="2" fill="#f020f0"/><rect x="336.0" y="951.0" width="3" height="2" fill="#f020f0"/><rect x="338.6" y="951.0" width="3" height="3" fill="#f020f0"/><rect x="342.0" y="951.0" width="3" height="2" fill="#f020f0"/><rect x="344.0" y="951.0" width="3" height="4" fill="#f020f0"/><rect x="348.0" y="951.0" width="3" height="2" fill="#f020f0"/><rect x="352.1" y="949.0" width="1.5" height="2" fill="#f020f0"/><rect x="353.9" y="951.0" width="2" height="2" fill="#f020f0"/><rect x="358.8" y="947.0" width="1.5" height="4" fill="#f020f0"/><rect x="363.8" y="949.0" width="2" height="2" fill="#f020f0"/><rect x="365.6" y="951.0" width="1.5" height="3" fill="#f020f0"/><rect x="367.6" y="947.0" width="1.5" height="4" fill="#f020f0"/><rect x="370.2" y="948.0" width="3" height="3" fill="#f020f0"/><rect x="374.4" y="947.0" width="1.5" height="4" fill="#f020f0"/><rect x="376.0" y="948.0" width="1.5" height="3" fill="#f020f0"/><rect x="380.1" y="947.0" width="1.5" height="4" fill="#f020f0"/><rect x="383.3" y="948.0" width="1.5" height="3" fill="#f020f0"/><rect x="385.3" y="947.0" width="2" height="4" fill="#f020f0"/><rect x="389.4" y="948.0" width="1.5" height="3" fill="#f020f0"/><rect x="393.3" y="948.0" width="2" height="3" fill="#f020f0"/><rect x="397.9" y="951.0" width="3" height="3" fill="#f020f0"/><rect x="401.7" y="951.0" width="1.5" height="4" fill="#f020f0"/><rect x="406.2" y="948.0" width="1.5" height="3" fill="#f020f0"/><rect x="409.0" y="951.0" width="1.5" height="4" fill="#f020f0"/><rect x="411.1" y="951.0" width="2" height="3" fill="#f020f0"/><rect x="413.5" y="951.0" width="3" height="3" fill="#f020f0"/><rect x="418.0" y="951.0" width="1.5" height="4" fill="#f020f0"/><rect x="421.7" y="948.0" width="1.5" height="3" fill="#f020f0"/><rect x="423.3" y="948.0" width="2" height="3" fill="#f020f0"/><rect x="426.3" y="948.0" width="1.5" height="3" fill="#f020f0"/><rect x="429.2" y="951.0" width="1.5" height="2" fill="#f020f0"/><rect x="433.7" y="947.0" width="1.5" height="4" fill="#f020f0"/><rect x="435.6" y="948.0" width="2" height="3" fill="#f020f0"/><rect x="440.3" y="951.0" width="2" height="3" fill="#f020f0"/><rect x="442.8" y="951.0" width="3" height="3" fill="#f020f0"/><rect x="635.5" y="949.4" width="161.3" height="3.2" fill="#f020f0"/><rect x="637.2" y="949.0" width="2" height="2" fill="#f020f0"/><rect x="639.1" y="951.0" width="1.5" height="4" fill="#f020f0"/><rect x="642.0" y="948.0" width="2" height="3" fill="#f020f0"/><rect x="644.9" y="948.0" width="3" height="3" fill="#f020f0"/><rect x="648.3" y="951.0" width="1.5" height="3" fill="#f020f0"/><rect x="653.3" y="948.0" width="2" height="3" fill="#f020f0"/><rect x="655.5" y="949.0" width="1.5" height="2" fill="#f020f0"/><rect x="658.9" y="951.0" width="3" height="4" fill="#f020f0"/><rect x="661.6" y="947.0" width="2" height="4" fill="#f020f0"/><rect x="664.8" y="947.0" width="2" height="4" fill="#f020f0"/><rect x="667.9" y="951.0" width="3" height="3" fill="#f020f0"/><rect x="671.1" y="949.0" width="2" height="2" fill="#f020f0"/><rect x="673.0" y="951.0" width="2" height="2" fill="#f020f0"/><rect x="676.4" y="951.0" width="1.5" height="2" fill="#f020f0"/><rect x="678.3" y="947.0" width="1.5" height="4" fill="#f020f0"/><rect x="683.0" y="947.0" width="3" height="4" fill="#f020f0"/><rect x="684.9" y="947.0" width="3" height="4" fill="#f020f0"/><rect x="686.8" y="949.0" width="1.5" height="2" fill="#f020f0"/><rect x="690.7" y="949.0" width="2" height="2" fill="#f020f0"/><rect x="692.6" y="948.0" width="2" height="3" fill="#f020f0"/><rect x="694.7" y="947.0" width="2" height="4" fill="#f020f0"/><rect x="697.4" y="951.0" width="3" height="2" fill="#f020f0"/><rect x="701.1" y="951.0" width="1.5" height="4" fill="#f020f0"/><rect x="703.9" y="951.0" width="1.5" height="4" fill="#f020f0"/><rect x="707.2" y="951.0" width="1.5" height="2" fill="#f020f0"/><rect x="709.5" y="948.0" width="3" height="3" fill="#f020f0"/><rect x="712.0" y="948.0" width="2" height="3" fill="#f020f0"/><rect x="716.4" y="949.0" width="2" height="2" fill="#f020f0"/><rect x="721.4" y="951.0" width="2" height="4" fill="#f020f0"/><rect x="725.9" y="951.0" width="2" height="3" fill="#f020f0"/><rect x="727.6" y="949.0" width="3" height="2" fill="#f020f0"/><rect x="731.2" y="951.0" width="2" height="2" fill="#f020f0"/><rect x="733.0" y="951.0" width="3" height="4" fill="#f020f0"/><rect x="736.4" y="947.0" width="1.5" height="4" fill="#f020f0"/><rect x="739.1" y="948.0" width="2" height="3" fill="#f020f0"/><rect x="742.6" y="947.0" width="1.5" height="4" fill="#f020f0"/><rect x="744.6" y="951.0" width="1.5" height="3" fill="#f020f0"/><rect x="747.2" y="948.0" width="1.5" height="3" fill="#f020f0"/><rect x="751.9" y="951.0" width="1.5" height="3" fill="#f020f0"/><rect x="753.4" y="948.0" width="3" height="3" fill="#f020f0"/><rect x="755.3" y="951.0" width="1.5" height="3" fill="#f020f0"/><rect x="757.4" y="951.0" width="2" height="2" fill="#f020f0"/><rect x="760.9" y="948.0" width="1.5" height="3" fill="#f020f0"/><rect x="763.6" y="951.0" width="3" height="3" fill="#f020f0"/><rect x="765.7" y="951.0" width="3" height="4" fill="#f020f0"/><rect x="769.1" y="947.0" width="2" height="4" fill="#f020f0"/><rect x="772.2" y="948.0" width="3" height="3" fill="#f020f0"/><rect x="775.8" y="947.0" width="2" height="4" fill="#f020f0"/><rect x="779.9" y="951.0" width="1.5" height="4" fill="#f020f0"/><rect x="784.3" y="951.0" width="2" height="3" fill="#f020f0"/><rect x="786.8" y="949.0" width="1.5" height="2" fill="#f020f0"/><rect x="789.0" y="948.0" width="3" height="3" fill="#f020f0"/><rect x="791.9" y="951.0" width="3" height="4" fill="#f020f0"/><rect x="794.5" y="951.0" width="1.5" height="3" fill="#f020f0"/><rect x="987.8" y="949.4" width="161.7" height="3.2" fill="#f020f0"/><rect x="989.4" y="951.0" width="2" height="4" fill="#f020f0"/><rect x="991.6" y="947.0" width="1.5" height="4" fill="#f020f0"/><rect x="996.4" y="951.0" width="1.5" height="3" fill="#f020f0"/><rect x="1000.0" y="947.0" width="2" height="4" fill="#f020f0"/><rect x="1004.5" y="951.0" width="3" height="2" fill="#f020f0"/><rect x="1008.1" y="949.0" width="1.5" height="2" fill="#f020f0"/><rect x="1009.6" y="951.0" width="3" height="4" fill="#f020f0"/><rect x="1014.1" y="951.0" width="3" height="4" fill="#f020f0"/><rect x="1016.4" y="948.0" width="3" height="3" fill="#f020f0"/><rect x="1020.1" y="949.0" width="3" height="2" fill="#f020f0"/><rect x="1024.8" y="951.0" width="3" height="2" fill="#f020f0"/><rect x="1029.4" y="951.0" width="3" height="4" fill="#f020f0"/><rect x="1032.1" y="947.0" width="1.5" height="4" fill="#f020f0"/><rect x="1034.8" y="951.0" width="2" height="4" fill="#f020f0"/><rect x="1037.4" y="951.0" width="1.5" height="3" fill="#f020f0"/><rect x="1041.7" y="951.0" width="1.5" height="3" fill="#f020f0"/><rect x="1043.7" y="949.0" width="2" height="2" fill="#f020f0"/><rect x="1045.4" y="947.0" width="1.5" height="4" fill="#f020f0"/><rect x="1048.5" y="947.0" width="2" height="4" fill="#f020f0"/><rect x="1051.7" y="947.0" width="3" height="4" fill="#f020f0"/><rect x="1055.7" y="948.0" width="3" height="3" fill="#f020f0"/><rect x="1057.6" y="948.0" width="1.5" height="3" fill="#f020f0"/><rect x="1060.8" y="951.0" width="3" height="2" fill="#f020f0"/><rect x="1063.5" y="951.0" width="1.5" height="3" fill="#f020f0"/><rect x="1065.3" y="947.0" width="2" height="4" fill="#f020f0"/><rect x="1068.2" y="947.0" width="2" height="4" fill="#f020f0"/><rect x="1072.8" y="948.0" width="1.5" height="3" fill="#f020f0"/><rect x="1076.7" y="951.0" width="3" height="3" fill="#f020f0"/><rect x="1079.8" y="951.0" width="1.5" height="2" fill="#f020f0"/><rect x="1083.7" y="949.0" width="3" height="2" fill="#f020f0"/><rect x="1087.5" y="951.0" width="1.5" height="3" fill="#f020f0"/><rect x="1090.1" y="949.0" width="2" height="2" fill="#f020f0"/><rect x="1093.6" y="951.0" width="2" height="4" fill="#f020f0"/><rect x="1096.1" y="949.0" width="2" height="2" fill="#f020f0"/><rect x="1100.5" y="949.0" width="3" height="2" fill="#f020f0"/><rect x="1103.9" y="951.0" width="1.5" height="3" fill="#f020f0"/><rect x="1107.3" y="948.0" width="2" height="3" fill="#f020f0"/><rect x="1109.6" y="949.0" width="3" height="2" fill="#f020f0"/><rect x="1114.5" y="951.0" width="2" height="3" fill="#f020f0"/><rect x="1116.8" y="948.0" width="2" height="3" fill="#f020f0"/><rect x="1118.6" y="948.0" width="2" height="3" fill="#f020f0"/><rect x="1121.0" y="948.0" width="1.5" height="3" fill="#f020f0"/><rect x="1124.3" y="951.0" width="1.5" height="2" fill="#f020f0"/><rect x="1126.8" y="951.0" width="3" height="4" fill="#f020f0"/><rect x="1130.8" y="951.0" width="3" height="4" fill="#f020f0"/><rect x="1134.3" y="951.0" width="3" height="3" fill="#f020f0"/><rect x="1139.2" y="949.0" width="1.5" height="2" fill="#f020f0"/><rect x="1142.5" y="947.0" width="2" height="4" fill="#f020f0"/><rect x="1146.1" y="951.0" width="1.5" height="4" fill="#f020f0"/><rect x="1341.0" y="949.4" width="162.0" height="3.2" fill="#f020f0"/><rect x="1345.6" y="947.0" width="1.5" height="4" fill="#f020f0"/><rect x="1349.1" y="949.0" width="2" height="2" fill="#f020f0"/><rect x="1352.2" y="951.0" width="1.5" height="2" fill="#f020f0"/><rect x="1356.1" y="948.0" width="3" height="3" fill="#f020f0"/><rect x="1359.9" y="948.0" width="3" height="3" fill="#f020f0"/><rect x="1363.3" y="949.0" width="3" height="2" fill="#f020f0"/><rect x="1367.9" y="951.0" width="3" height="3" fill="#f020f0"/><rect x="1372.8" y="949.0" width="1.5" height="2" fill="#f020f0"/><rect x="1377.2" y="951.0" width="1.5" height="3" fill="#f020f0"/><rect x="1381.5" y="951.0" width="1.5" height="2" fill="#f020f0"/><rect x="1386.4" y="951.0" width="2" height="3" fill="#f020f0"/><rect x="1390.6" y="947.0" width="3" height="4" fill="#f020f0"/><rect x="1395.0" y="949.0" width="1.5" height="2" fill="#f020f0"/><rect x="1398.0" y="951.0" width="3" height="3" fill="#f020f0"/><rect x="1402.8" y="948.0" width="1.5" height="3" fill="#f020f0"/><rect x="1406.5" y="951.0" width="3" height="4" fill="#f020f0"/><rect x="1409.8" y="951.0" width="2" height="3" fill="#f020f0"/><rect x="1413.5" y="949.0" width="3" height="2" fill="#f020f0"/><rect x="1415.2" y="951.0" width="2" height="4" fill="#f020f0"/><rect x="1417.6" y="948.0" width="1.5" height="3" fill="#f020f0"/><rect x="1422.6" y="951.0" width="2" height="3" fill="#f020f0"/><rect x="1426.4" y="951.0" width="3" height="3" fill="#f020f0"/><rect x="1428.5" y="947.0" width="3" height="4" fill="#f020f0"/><rect x="1430.5" y="951.0" width="1.5" height="2" fill="#f020f0"/><rect x="1433.5" y="949.0" width="1.5" height="2" fill="#f020f0"/><rect x="1437.7" y="951.0" width="3" height="3" fill="#f020f0"/><rect x="1441.1" y="951.0" width="2" height="4" fill="#f020f0"/><rect x="1445.0" y="951.0" width="1.5" height="2" fill="#f020f0"/><rect x="1449.8" y="951.0" width="3" height="2" fill="#f020f0"/><rect x="1453.0" y="948.0" width="1.5" height="3" fill="#f020f0"/><rect x="1457.7" y="951.0" width="2" height="3" fill="#f020f0"/><rect x="1462.0" y="948.0" width="2" height="3" fill="#f020f0"/><rect x="1466.1" y="951.0" width="3" height="3" fill="#f020f0"/><rect x="1468.9" y="951.0" width="3" height="4" fill="#f020f0"/><rect x="1473.9" y="951.0" width="2" height="4" fill="#f020f0"/><rect x="1475.5" y="949.0" width="3" height="2" fill="#f020f0"/><rect x="1477.9" y="951.0" width="3" height="4" fill="#f020f0"/><rect x="1482.4" y="951.0" width="2" height="3" fill="#f020f0"/><rect x="1485.2" y="951.0" width="3" height="3" fill="#f020f0"/><rect x="1488.4" y="951.0" width="2" height="4" fill="#f020f0"/><rect x="1490.7" y="951.0" width="3" height="2" fill="#f020f0"/><rect x="1495.2" y="951.0" width="1.5" height="3" fill="#f020f0"/><rect x="1497.7" y="947.0" width="2" height="4" fill="#f020f0"/><rect x="1502.0" y="948.0" width="3" height="3" fill="#f020f0"/><rect x="1692.5" y="949.4" width="72.5" height="3.2" fill="#f020f0"/><rect x="1695.6" y="951.0" width="1.5" height="3" fill="#f020f0"/><rect x="1697.8" y="947.0" width="2" height="4" fill="#f020f0"/><rect x="1701.9" y="949.0" width="1.5" height="2" fill="#f020f0"/><rect x="1704.1" y="951.0" width="1.5" height="3" fill="#f020f0"/><rect x="1706.4" y="948.0" width="2" height="3" fill="#f020f0"/><rect x="1710.7" y="947.0" width="1.5" height="4" fill="#f020f0"/><rect x="1715.4" y="948.0" width="1.5" height="3" fill="#f020f0"/><rect x="1717.8" y="951.0" width="2" height="3" fill="#f020f0"/><rect x="1722.2" y="948.0" width="2" height="3" fill="#f020f0"/><rect x="1727.0" y="951.0" width="2" height="3" fill="#f020f0"/><rect x="1731.2" y="947.0" width="2" height="4" fill="#f020f0"/><rect x="1735.4" y="951.0" width="1.5" height="3" fill="#f020f0"/><rect x="1737.4" y="951.0" width="3" height="4" fill="#f020f0"/><rect x="1741.9" y="951.0" width="2" height="3" fill="#f020f0"/><rect x="1745.1" y="948.0" width="2" height="3" fill="#f020f0"/><rect x="1748.2" y="951.0" width="2" height="3" fill="#f020f0"/><rect x="1751.4" y="948.0" width="3" height="3" fill="#f020f0"/><rect x="1755.5" y="947.0" width="2" height="4" fill="#f020f0"/><rect x="1760.2" y="951.0" width="1.5" height="3" fill="#f020f0"/><rect x="1763.0" y="948.0" width="3" height="3" fill="#f020f0"/>
<polyline points="7.0,749.1 7.9,749.1 9.0,751.0 10.3,750.5 11.7,749.7 13.3,749.6 14.9,750.5 16.7,749.9 18.5,749.0 20.4,749.0 22.3,750.3 24.1,748.7 26.0,748.3 27.8,748.2 29.5,750.1 31.1,748.7 32.6,749.8 33.9,749.7 35.6,750.4 37.1,751.7 38.6,751.0 39.9,751.4 41.1,752.6 42.3,753.4 43.4,754.1 44.6,755.6 45.8,756.4 47.0,756.9 48.4,757.8 49.8,759.5 50.8,761.5 51.7,762.4 52.7,762.0 53.7,763.2 54.8,764.7 55.8,765.8 56.8,766.1 57.9,767.5 59.0,769.2 60.0,771.2 61.1,772.5 62.2,772.3 63.3,773.5 64.4,775.8 65.4,775.6 66.5,778.9 67.6,780.1 68.6,781.3 69.7,780.8 70.7,783.9 71.6,783.6 72.6,786.2 73.6,786.0 74.7,787.6 75.7,788.8 76.7,789.7 77.7,790.9 78.7,793.7 79.8,794.3 80.8,795.0 81.8,797.3 82.7,799.1 83.7,799.1 84.6,801.0 85.5,801.9 86.4,802.8 87.3,804.4 88.1,804.8 88.9,806.6 89.6,808.8 90.7,808.5 91.7,811.6 92.6,811.6 93.3,814.5 94.0,814.6 94.6,815.4 95.2,817.7 95.9,818.1 96.6,818.3 97.5,820.9 98.5,821.9 99.6,824.1 100.4,825.7 101.2,825.1 102.0,825.8 102.9,827.8 103.9,829.2 104.8,831.3 105.8,830.9 106.8,832.6 107.9,833.6 108.9,835.9 110.0,837.2 111.1,837.5 112.1,840.0 113.2,839.2 114.3,841.0 115.4,841.7 116.4,843.4 117.5,846.0 118.5,847.4 119.5,847.7 120.5,848.9 121.6,849.8 122.6,850.9 123.7,852.3 124.7,853.7 125.8,853.9 126.8,856.7 127.9,857.3 128.9,859.0 130.0,858.6 131.0,860.4 132.1,862.1 133.1,863.4 134.2,863.4 135.2,864.3 136.3,865.9 137.3,867.1 138.4,868.2 139.4,868.6 140.5,870.1 141.6,872.3 142.7,874.0 143.8,873.7 145.0,874.7 146.1,877.1 147.2,878.6 148.3,878.5 149.4,880.2 150.5,882.3 151.6,883.2 152.7,883.6 153.8,884.8 155.0,885.7 156.1,886.7 157.2,887.3 158.3,889.6 159.4,890.0 160.7,890.4 162.1,890.7 163.4,891.4 164.7,892.9 166.0,894.0 167.4,895.5 168.7,896.6 170.0,895.5 171.3,897.3 172.7,898.4 174.0,898.7 175.3,899.3 176.6,898.6 178.0,899.9 179.3,900.6 180.8,899.9 182.4,900.3 183.9,900.5 185.4,900.8 187.0,901.8 188.5,902.5 190.0,902.9 191.5,903.2 193.1,902.6 194.6,903.3 196.1,902.5 197.7,902.4 199.2,901.2 200.7,901.9 202.3,901.3 203.8,902.7 205.3,901.3 206.9,901.1 208.4,901.1 209.9,901.1 211.4,901.1 213.0,901.9 214.5,900.9 216.0,900.3 217.6,899.3 219.1,899.1 220.3,897.8 221.6,898.8 222.8,897.2 224.1,897.1 225.3,895.6 226.6,894.8 227.8,893.6 229.0,892.7 230.3,893.5 231.5,891.6 232.8,891.1 234.0,889.7 235.3,888.0 236.5,886.8 237.8,887.0 239.0,886.1 240.1,883.8 241.3,883.5 242.4,881.6 243.6,881.4 244.8,879.0 246.0,879.6 247.2,876.7 248.4,877.0 249.6,875.9 250.8,874.3 252.0,872.4 253.1,870.8 254.2,869.9 255.2,869.9 256.2,869.3 257.2,867.3 258.1,865.7 259.0,866.3 260.4,862.9 261.5,863.1 262.4,862.2 263.2,860.0 264.0,859.9 264.7,858.2 265.5,857.1 266.4,856.8 267.6,854.3 268.9,853.7 269.7,852.1 270.5,852.7 271.3,850.3 272.2,848.7 273.2,849.2 274.1,847.6 275.1,845.4 276.1,844.0 277.2,842.8 278.2,843.0 279.3,840.6 280.4,840.6 281.4,839.1 282.5,836.1 283.6,835.1 284.7,835.2 285.7,833.5 286.8,831.6 287.8,831.0 288.8,829.2 289.8,827.5 290.8,828.2 291.8,824.9 292.8,824.5 293.8,824.5 294.8,822.2 295.8,822.1 296.8,820.1 297.8,819.0 298.8,817.8 299.8,816.9 300.8,813.9 301.8,814.1 302.8,811.9 303.8,811.9 304.8,810.4 305.8,809.5 306.8,808.6 307.8,807.4 308.8,805.6 309.9,803.7 311.0,803.3 312.1,802.2 313.2,801.0 314.3,799.3 315.4,797.7 316.5,798.4 317.7,795.9 318.8,794.7 319.9,794.7 321.0,792.4 322.1,791.6 323.2,791.5 324.3,789.9 325.4,789.7 326.5,787.9 327.6,786.5 328.7,785.0 329.9,784.7 331.0,783.7 332.2,782.2 333.4,780.8 334.6,780.3 335.7,778.6 336.9,778.0 338.1,777.9 339.2,777.1 340.4,774.8 341.6,775.1 342.7,774.7 343.9,772.7 345.1,772.7 346.3,771.5 347.4,770.1 348.6,770.6 350.2,768.5 351.7,769.2 353.4,768.0 355.0,766.4 356.6,767.0 358.3,767.2 359.9,766.9 361.5,765.9 363.0,766.2 364.5,765.2 365.9,764.4 367.2,764.4 368.5,765.6 370.5,763.6 372.2,763.9 373.6,762.5 374.9,762.2 376.3,762.6 378.0,761.9 380.0,762.1 381.3,761.4 382.6,763.1 384.0,761.4 385.5,763.1 387.0,763.8 388.6,763.8 390.2,763.0 391.9,763.2 393.5,764.7 395.1,764.7 396.8,766.0 398.3,766.1 399.9,764.8 401.3,766.5 402.7,766.7 404.2,766.7 405.6,769.0 407.0,768.9 408.4,768.7 409.8,769.8 411.3,770.6 412.7,772.1 414.1,771.3 415.5,772.4 417.0,773.7 418.4,774.6 419.8,775.2 420.9,776.1 421.9,777.3 423.0,779.4 424.0,779.5 425.1,781.0 426.1,782.1 427.2,783.9 428.2,783.5 429.3,785.6 430.3,787.0 431.4,788.3 432.4,788.8 433.5,790.2 434.5,792.7 435.6,792.9 436.6,795.2 437.7,795.6 438.7,796.8 439.8,797.4 440.8,799.9 441.9,799.8 442.9,801.0 444.0,801.5 445.0,804.4 446.1,804.5 447.1,805.2 448.2,806.2 449.2,807.4 450.3,808.9 451.3,809.5 452.4,811.6 453.4,813.5 454.5,814.7 455.5,816.0 456.6,816.8 457.6,818.2 458.7,817.6 459.7,819.5 460.7,821.8 461.8,821.5 462.8,823.5 463.9,824.0 464.9,825.3 466.0,827.2 467.0,828.0 468.1,829.4 469.1,829.4 470.2,830.3 471.2,831.3 472.3,833.7 473.3,834.6 474.4,835.5 475.4,837.5 476.5,837.9 477.5,839.1 478.6,839.8 479.6,840.8 480.6,843.3 481.7,843.9 482.7,844.5 483.8,845.3 484.8,847.7 485.9,847.7 486.9,849.5 488.0,850.8 489.0,851.3 490.1,852.3 491.1,855.5 492.2,855.2 493.2,857.7 494.3,857.0 495.3,858.6 496.4,860.2 497.4,860.7 498.5,862.7 499.5,863.0 500.7,865.2 501.8,866.9 503.0,867.8 504.2,867.3 505.3,868.3 506.5,869.4 507.7,872.4 508.9,873.2 510.0,873.9 511.2,874.3 512.4,875.7 513.5,877.6 514.7,877.9 515.9,878.1 517.1,880.1 518.2,879.9 519.4,882.0 520.7,882.2 522.1,883.3 523.4,883.1 524.7,885.7 526.1,886.6 527.4,885.7 528.7,886.8 530.1,888.4 531.4,888.3 532.7,888.4 534.1,889.9 535.4,891.7 536.7,891.9 538.1,892.3 539.4,891.9 540.9,891.9 542.5,894.5 544.0,893.4 545.5,894.1 547.1,895.3 548.6,894.6 550.1,895.1 551.7,894.6 553.2,896.5 554.7,896.7 556.2,895.5 557.8,895.9 559.3,896.9 560.8,895.9 562.4,897.2 563.9,896.4 565.4,896.7 567.0,897.3 568.5,895.3 570.0,895.9 571.5,896.2 573.1,896.4 574.6,895.7 576.1,895.3 577.7,894.5 579.2,894.8 580.5,893.8 581.9,893.4 583.2,893.1 584.5,891.7 585.8,891.3 587.2,889.3 588.5,889.1 589.8,888.7 591.1,888.5 592.5,886.4 593.8,886.4 595.1,885.2 596.4,882.8 597.8,882.6 599.1,881.0 600.2,881.0 601.3,880.1 602.4,878.5 603.5,876.8 604.6,876.6 605.7,875.4 606.8,874.2 607.9,872.2 609.0,872.1 610.1,871.7 611.3,869.8 612.4,867.6 613.5,867.7 614.6,865.6 615.7,865.2 616.8,863.3 617.9,863.3 619.0,861.0 620.0,861.0 621.0,859.3 622.0,857.9 623.0,857.3 624.0,856.0 625.0,854.6 626.0,853.3 627.0,853.0 628.0,850.7 629.0,849.1 630.0,847.7 631.0,848.2 632.0,847.0 633.0,845.8 634.0,843.7 635.0,842.6 636.0,840.3 637.0,839.5 638.0,839.1 639.0,836.8 640.0,836.3 641.0,834.9 642.0,834.9 643.0,832.1 644.0,832.5 645.0,829.3 646.0,828.4 647.0,827.9 648.0,826.7 649.0,824.6 650.0,824.5 650.9,824.0 651.9,820.9 652.9,820.8 653.9,820.4 654.9,818.5 655.9,817.0 656.9,816.4 657.9,814.9 658.9,813.2 659.9,811.9 661.0,810.8 662.0,809.5 663.1,809.6 664.1,807.5 665.2,806.0 666.2,806.0 667.3,804.5 668.3,803.0 669.4,802.4 670.4,799.7 671.5,800.6 672.5,797.4 673.6,797.6 674.6,796.8 675.7,795.4 676.7,793.2 677.8,793.8 678.8,791.5 680.0,790.9 681.1,789.5 682.3,788.5 683.5,788.1 684.7,786.8 685.8,785.7 687.0,784.2 688.2,781.9 689.3,781.1 690.5,780.9 691.7,779.7 692.8,779.3 694.0,777.2 695.2,777.0 696.4,776.5 697.5,774.8 698.7,774.1 700.1,773.1 701.5,772.0 703.0,770.9 704.4,769.5 705.8,769.9 707.2,770.1 708.6,768.5 710.1,768.4 711.5,766.4 712.9,767.6 714.3,766.0 715.8,765.8 717.2,766.5 718.6,764.6 720.1,763.8 721.7,764.7 723.2,763.5 724.7,762.2 726.3,762.9 727.8,761.8 729.4,762.1 730.9,761.1 732.5,760.4 734.0,761.3 735.5,760.8 737.1,761.5 738.6,760.2 740.2,760.7 741.8,761.3 743.4,761.1 745.0,761.8 746.6,762.4 748.3,761.2 749.9,762.0 751.5,762.3 753.0,763.5 754.5,764.6 755.9,764.5 757.2,764.9 758.5,764.2 760.1,765.4 761.4,766.0 762.5,766.0 763.5,766.7 764.5,767.9 765.6,769.0 766.8,769.9 768.2,771.3 770.0,772.7 770.9,773.3 771.8,775.2 772.7,775.2 773.7,777.1 774.7,776.9 775.8,777.6 776.9,780.2 778.0,779.6 779.2,780.4 780.4,782.3 781.6,782.9 782.7,784.3 784.0,785.5 785.2,786.1 786.4,787.9 787.6,788.1 788.8,790.6 790.0,791.4 791.1,792.6 792.3,795.2 793.4,795.5 794.3,797.2 795.2,796.6 796.1,799.3 797.0,799.0 797.9,800.3 798.8,803.4 799.7,803.3 800.6,805.4 801.5,805.5 802.4,807.7 803.3,809.4 804.2,809.6 805.1,811.6 806.0,813.6 806.9,813.8 807.8,815.2 808.7,815.9 809.6,818.7 810.5,819.9 811.4,821.7 812.3,822.8 813.2,823.7 814.1,825.3 815.0,826.6 815.9,827.6 816.8,829.1 817.8,829.8 818.8,831.1 819.7,831.8 820.7,832.7 821.7,834.4 822.6,836.2 823.6,836.7 824.6,838.6 825.6,839.9 826.5,841.5 827.5,842.1 828.5,843.9 829.5,844.1 830.4,845.3 831.4,846.8 832.4,846.8 833.4,848.5 834.4,849.8 835.3,851.3 836.3,851.6 837.3,852.7 838.2,854.7 839.2,854.3 840.2,855.7 841.3,858.6 842.3,859.1 843.4,860.0 844.5,861.9 845.5,862.7 846.6,863.2 847.6,865.2 848.7,865.1 849.8,866.6 850.8,867.0 851.9,868.4 853.0,869.2 854.0,870.2 855.1,873.1 856.2,873.0 857.2,875.2 858.3,875.2 859.3,875.0 860.4,877.2 861.5,878.7 862.5,878.7 863.6,879.4 864.9,880.3 866.2,881.5 867.5,883.5 868.8,883.5 870.1,884.8 871.4,885.5 872.7,887.1 874.0,887.3 875.3,889.0 876.6,888.8 877.9,891.2 879.2,889.9 880.5,892.3 881.8,893.2 883.1,893.2 884.4,894.4 885.7,894.7 887.0,894.1 888.5,896.6 889.9,896.2 891.4,897.4 892.8,898.3 894.3,898.2 895.8,898.1 897.2,900.0 898.7,900.2 900.2,900.7 901.6,900.9 903.1,902.0 904.5,902.3 906.0,902.1 907.5,901.4 908.9,901.9 910.4,902.0 912.0,902.6 913.5,901.8 915.1,902.6 916.7,901.9 918.2,902.3 919.8,901.0 921.4,902.4 922.9,901.7 924.5,900.1 926.1,899.6 927.6,900.3 929.2,899.4 930.8,899.7 932.3,897.2 933.9,898.1 935.1,897.4 936.3,895.6 937.5,894.3 938.7,895.3 939.9,893.1 941.1,893.5 942.4,891.6 943.6,891.6 944.8,890.3 946.0,888.9 947.3,887.1 948.4,887.2 949.6,885.1 950.8,883.2 951.9,883.7 953.1,881.1 954.2,880.1 955.2,879.5 956.3,878.5 957.3,878.3 958.4,875.9 959.5,876.0 960.6,872.9 961.6,872.0 962.6,872.0 963.5,870.6 964.4,870.0 965.3,867.0 966.2,865.7 967.1,865.4 968.0,865.1 968.9,863.2 969.8,862.2 970.8,861.3 971.7,858.5 972.7,856.8 973.7,856.8 974.6,854.3 975.5,853.4 976.5,852.4 977.4,850.7 978.3,850.9 979.3,848.6 980.2,848.7 981.2,848.0 982.1,846.2 983.1,844.7 984.1,843.6 985.1,841.8 986.1,840.0 987.1,840.0 988.1,838.7 989.2,836.4 990.2,836.3 991.3,835.1 992.4,832.7 993.3,832.6 994.2,830.6 995.1,829.7 996.0,829.3 997.0,828.4 997.9,827.4 998.9,825.9 999.9,824.5 1000.8,822.5 1001.8,821.0 1002.8,820.3 1003.8,818.5 1004.8,818.0 1005.8,815.9 1006.8,815.1 1007.8,813.6 1008.8,813.9 1009.8,812.2 1010.8,811.4 1011.8,809.8 1012.8,809.2 1013.8,807.1 1014.8,806.0 1015.8,803.8 1016.8,803.5 1017.8,801.8 1018.7,802.4 1019.7,799.7 1020.7,798.7 1021.6,796.8 1022.6,796.2 1023.6,795.1 1024.6,794.7 1025.5,793.2 1026.5,790.9 1027.5,790.0 1028.5,789.8 1029.5,788.0 1030.4,787.5 1031.4,785.4 1032.4,783.5 1033.3,784.1 1034.3,782.4 1035.3,781.8 1036.3,780.5 1037.2,779.8 1038.2,778.7 1039.2,776.3 1040.4,774.7 1041.7,775.5 1042.9,774.4 1044.1,772.8 1045.4,772.3 1046.6,769.6 1047.8,770.2 1049.1,768.9 1050.3,768.6 1051.5,765.7 1052.7,765.9 1054.0,766.0 1055.2,764.7 1056.4,763.4 1057.7,762.8 1058.9,761.6 1060.1,761.9 1061.4,761.2 1062.6,760.5 1064.1,760.8 1065.5,759.1 1067.0,758.4 1068.4,757.0 1069.9,756.6 1071.4,757.1 1072.8,756.7 1074.3,755.6 1075.8,755.7 1077.2,756.5 1078.7,756.3 1080.1,754.3 1081.6,754.7 1083.1,754.4 1084.5,755.7 1086.0,755.6 1087.5,754.6 1088.9,754.4 1090.4,755.0 1091.8,755.1 1093.3,755.6 1094.8,754.8 1096.2,755.1 1097.7,754.7 1099.2,755.9 1100.6,755.8 1102.1,758.1 1103.6,758.5 1105.0,758.6 1106.5,759.9 1107.9,760.2 1109.4,760.5 1110.5,761.8 1111.6,761.8 1112.8,762.3 1113.9,764.4 1115.1,763.6 1116.2,764.8 1117.4,765.7 1118.5,767.2 1119.7,767.9 1120.8,768.6 1122.0,770.2 1123.1,770.5 1124.2,773.0 1125.3,774.3 1126.4,774.1 1127.5,774.7 1128.6,776.3 1129.7,779.0 1130.8,780.2 1131.8,779.4 1132.8,781.8 1133.8,782.9 1134.7,784.3 1135.6,784.9 1136.5,785.5 1137.4,787.8 1138.3,789.4 1139.2,789.8 1140.1,790.9 1140.9,791.9 1141.8,793.1 1142.6,794.8 1143.5,796.7 1144.3,798.9 1145.1,799.6 1146.0,801.0 1146.8,801.8 1147.6,803.2 1148.4,805.2 1149.2,806.2 1150.0,807.0 1150.8,807.6 1151.6,808.7 1152.5,810.9 1153.4,812.0 1154.2,812.9 1155.1,814.8 1155.9,815.2 1156.7,816.2 1157.5,818.8 1158.3,819.4 1159.1,821.4 1159.9,820.5 1160.7,822.7 1161.5,824.4 1162.3,824.2 1163.2,826.6 1164.0,826.6 1165.0,829.0 1165.9,830.0 1166.9,831.3 1167.9,832.2 1168.7,834.6 1169.5,834.9 1170.3,836.0 1171.1,837.4 1172.0,839.3 1172.8,840.3 1173.7,841.4 1174.6,843.3 1175.5,843.8 1176.4,846.3 1177.3,846.7 1178.2,848.3 1179.2,848.6 1180.1,850.5 1181.0,853.1 1182.0,852.4 1182.9,855.1 1183.9,855.9 1184.8,857.8 1185.7,859.7 1186.7,860.2 1187.6,860.5 1188.6,862.6 1189.5,863.5 1190.4,865.6 1191.3,865.3 1192.4,867.4 1193.5,868.5 1194.5,868.4 1195.6,870.1 1196.7,872.2 1197.8,873.2 1198.9,873.5 1200.0,875.0 1201.1,877.0 1202.2,878.6 1203.3,879.3 1204.4,880.1 1205.5,880.9 1206.6,881.8 1207.7,882.3 1208.7,884.7 1209.8,884.5 1210.8,885.6 1211.8,886.0 1212.8,887.0 1213.8,888.3 1214.8,889.5 1216.2,889.6 1217.5,891.1 1218.7,892.6 1219.9,893.8 1221.1,894.9 1222.3,895.6 1223.4,896.5 1224.5,896.9 1225.7,899.0 1226.9,900.0 1228.1,900.0 1229.3,899.8 1230.7,901.9 1232.0,902.0 1233.5,903.7 1234.8,903.8 1236.1,903.8 1237.4,906.2 1238.8,905.7 1240.2,907.4 1241.6,906.8 1243.1,906.9 1244.6,907.5 1246.0,908.1 1247.6,910.1 1249.1,910.7 1250.6,910.3 1252.2,910.4 1253.7,910.2 1255.3,911.5 1256.9,912.4 1258.4,910.9 1260.0,912.1 1261.4,911.2 1262.9,911.7 1264.3,911.9 1265.8,910.7 1267.3,911.6 1268.7,912.3 1270.2,911.9 1271.7,911.9 1273.3,910.6 1274.8,910.0 1276.3,910.0 1277.8,908.9 1279.4,908.1 1280.9,908.7 1282.4,907.4 1283.9,907.2 1285.5,906.9 1287.0,905.9 1288.5,905.0 1290.0,905.7 1291.2,904.4 1292.5,904.3 1293.8,902.9 1295.0,903.5 1296.2,901.6 1297.5,900.8 1298.8,900.5 1300.0,899.5 1301.2,899.6 1302.5,897.4 1303.8,897.6 1305.0,895.9 1306.2,896.0 1307.5,895.6 1308.8,893.3 1310.0,893.7 1311.2,891.9 1312.5,892.0 1313.8,891.0 1315.0,890.1 1316.2,887.0 1317.5,886.8 1318.8,886.2 1320.0,885.6 1321.1,884.3 1322.1,884.0 1323.2,881.5 1324.3,880.6 1325.4,881.1 1326.4,879.6 1327.5,878.5 1328.6,876.2 1329.6,875.1 1330.7,874.2 1331.8,872.9 1332.9,872.8 1333.9,871.7 1335.0,870.2 1336.1,868.7 1337.1,867.7 1338.2,867.3 1339.3,866.9 1340.4,864.6 1341.4,863.4 1342.5,862.8 1343.6,862.2 1344.6,860.0 1345.7,860.4 1346.8,857.8 1347.9,857.6 1348.9,856.3 1350.0,854.7 1351.1,853.0 1352.1,852.6 1353.2,851.7 1354.3,850.1 1355.4,850.4 1356.4,847.5 1357.5,847.0 1358.6,845.5 1359.6,845.7 1360.7,843.4 1361.8,843.8 1362.9,842.2 1363.9,841.3 1365.0,840.8 1366.1,838.2 1367.1,838.8 1368.2,836.8 1369.3,835.7 1370.4,835.3 1371.4,834.5 1372.5,833.3 1373.6,831.5 1374.6,831.4 1375.7,828.3 1376.8,827.6 1377.9,826.7 1378.9,826.2 1380.0,825.2 1381.1,823.0 1382.1,822.5 1383.2,822.2 1384.3,821.5 1385.4,818.6 1386.4,817.8 1387.5,818.3 1388.6,816.4 1389.6,815.4 1390.7,813.0 1391.8,812.0 1392.9,812.6 1393.9,811.0 1395.0,810.8 1396.1,808.6 1397.1,807.9 1398.2,805.7 1399.3,805.9 1400.4,805.1 1401.4,804.0 1402.5,801.4 1403.6,801.5 1404.6,799.5 1405.7,798.4 1406.8,799.1 1407.9,798.0 1408.9,794.9 1410.0,795.8 1411.2,794.3 1412.3,792.7 1413.5,792.0 1414.6,789.9 1415.8,789.1 1416.9,788.6 1418.1,786.7 1419.2,787.0 1420.4,786.5 1421.5,785.5 1422.7,783.2 1423.8,781.4 1425.0,781.4 1426.2,779.4 1427.3,780.3 1428.5,778.5 1429.6,777.4 1430.8,777.3 1431.9,775.4 1433.1,775.4 1434.2,773.9 1435.4,772.5 1436.5,772.9 1437.7,770.5 1438.8,769.7 1440.0,769.7 1441.4,769.1 1442.9,768.6 1444.3,767.7 1445.7,766.1 1447.1,765.3 1448.6,766.0 1450.0,765.2 1451.4,763.7 1452.9,762.7 1454.3,763.1 1455.7,761.4 1457.1,760.6 1458.6,759.9 1460.0,759.4 1461.4,759.7 1462.9,759.4 1464.3,758.6 1465.7,759.6 1467.1,758.9 1468.6,758.8 1470.0,757.2 1471.5,758.7 1473.0,756.5 1474.5,756.4 1476.0,756.2 1477.5,757.4 1479.0,756.9 1480.5,756.4 1482.0,758.0 1483.5,756.3 1485.0,756.3 1486.5,758.4 1488.0,756.9 1489.5,757.4 1491.0,757.6 1492.5,758.5 1494.0,757.5 1495.5,759.0 1497.0,759.0 1498.5,758.6 1500.0,760.2 1501.4,760.0 1502.7,760.4 1504.1,760.9 1505.5,762.3 1506.8,761.3 1508.2,761.9 1509.5,762.9 1510.9,764.5 1512.3,763.5 1513.6,766.1 1515.0,765.9 1516.4,767.0 1517.7,767.2 1519.1,767.7 1520.5,767.8 1521.8,769.0 1523.2,769.6 1524.5,771.5 1525.9,772.1 1527.3,772.0 1528.6,772.9 1530.0,774.1 1531.1,776.7 1532.1,777.0 1533.2,778.6 1534.3,778.8 1535.4,778.9 1536.4,780.6 1537.5,782.3 1538.6,782.6 1539.6,782.8 1540.7,784.7 1541.8,785.2 1542.9,785.4 1543.9,788.3 1545.0,788.9 1546.1,788.4 1547.1,790.9 1548.2,791.2 1549.3,793.9 1550.4,794.6 1551.4,795.8 1552.5,797.1 1553.6,797.9 1554.6,799.3 1555.7,799.9 1556.8,801.9 1557.9,801.7 1558.9,804.8 1560.0,805.6 1560.9,806.9 1561.8,808.0 1562.8,808.1 1563.7,810.5 1564.6,810.9 1565.6,811.8 1566.5,813.7 1567.5,813.9 1568.5,816.1 1569.4,816.6 1570.4,818.8 1571.3,819.7 1572.3,820.6 1573.2,822.4 1574.2,822.5 1575.2,825.4 1576.1,825.3 1577.0,827.1 1578.0,827.5 1578.9,829.5 1579.8,831.1 1580.7,832.9 1581.6,833.3 1582.5,834.4 1583.4,836.7 1584.3,837.2 1585.2,838.6 1586.0,839.1 1586.8,840.3 1587.6,841.1 1588.4,843.5 1589.2,845.0 1590.0,844.2 1591.0,846.0 1592.0,847.1 1593.0,848.3 1593.9,850.1 1594.8,851.4 1595.6,853.8 1596.5,854.7 1597.3,856.8 1598.1,857.7 1598.9,857.4 1599.7,859.4 1600.5,860.4 1601.2,862.5 1602.0,862.7 1602.7,863.4 1603.5,865.5 1604.3,865.9 1605.0,866.8 1605.8,869.3 1606.6,870.6 1607.4,871.6 1608.3,872.7 1609.1,873.2 1610.0,876.0 1610.9,875.9 1611.8,877.4 1612.8,880.0 1613.7,880.9 1614.7,880.9 1615.7,884.0 1616.6,885.8 1617.6,885.7 1618.6,887.1 1619.6,890.4 1620.6,890.0 1621.6,891.8 1622.6,893.6 1623.6,894.3 1624.6,895.7 1625.6,898.7 1626.5,898.8 1627.5,899.0 1628.4,900.5 1629.3,902.4 1630.2,901.7 1631.0,902.5 1631.9,902.9 1632.7,903.9 1633.9,904.3 1635.0,903.4 1636.1,903.6 1637.1,902.8 1638.1,900.1 1639.1,900.2 1640.1,898.3 1641.0,897.5 1642.0,894.5 1642.9,892.3 1643.8,892.4 1644.7,890.2 1645.6,887.6 1646.5,887.1 1647.4,885.2 1648.3,883.3 1649.4,881.9 1650.4,881.1 1651.4,880.7 1652.4,879.3 1653.4,877.6 1654.4,877.8 1655.4,876.5 1656.4,875.2 1657.4,873.4 1658.4,873.2 1659.4,871.9 1660.4,868.7 1661.4,869.2 1662.5,867.3 1663.3,865.7 1664.2,864.2 1665.0,863.7 1665.9,862.7 1666.8,861.4 1667.7,859.9 1668.6,857.5 1669.4,856.9 1670.3,856.0 1671.2,854.1 1672.1,853.9 1673.0,852.7 1673.9,851.5 1674.7,848.3 1675.6,848.2 1676.4,847.7 1677.2,845.2 1678.0,843.8 1678.9,843.2 1679.8,840.6 1680.7,840.2 1681.6,838.1 1682.4,836.7 1683.2,836.8 1684.1,835.2 1684.9,833.9 1685.7,833.1 1686.5,830.2 1687.4,830.4 1688.2,827.8 1689.0,826.7 1689.9,826.7 1690.8,823.3 1691.6,823.6 1692.5,820.9 1693.4,820.7 1694.3,820.4 1695.1,818.3 1696.0,817.4 1696.9,816.4 1697.8,813.7 1698.7,813.3 1699.6,811.7 1700.5,810.2 1701.4,810.3 1702.3,809.2 1703.2,807.9 1704.1,805.5 1705.0,804.6 1705.9,804.2 1706.8,802.1 1707.6,801.9 1708.5,799.8 1709.4,797.7 1710.3,796.8 1711.2,796.4 1712.1,793.5 1712.9,793.9 1713.8,792.7 1714.7,791.5 1715.6,789.5 1716.5,787.3 1717.3,787.7 1718.2,785.0 1719.1,784.9 1720.1,782.4 1721.1,781.1 1722.1,780.2 1723.2,779.8 1724.2,778.7 1725.2,777.0 1726.2,774.5 1727.2,773.8 1728.2,773.7 1729.2,771.8 1730.3,770.6 1731.3,770.4 1732.3,768.8 1733.3,768.9 1734.7,765.7 1736.2,765.7 1737.6,764.3 1739.1,762.8 1740.5,763.5 1742.0,762.5 1743.4,761.9 1744.8,759.8 1746.1,760.7 1747.4,760.4 1748.8,758.2 1750.1,756.3 1751.4,755.6 1752.7,755.5 1753.9,754.6 1755.1,752.7 1756.3,752.2 1757.6,751.3 1758.8,751.6 1760.5,750.8 1762.3,750.8 1764.2,750.5 1766.0,749.4 1767.6,748.6 1769.0,748.6 1770.0,748.5" fill="none" stroke="#14e614" stroke-width="3.6"/>
<path d="M7,363.3 L11.5,363.3 L11.5,560 L13.5,561 L13.5,636 L16.5,637.5 L18.5,628.4 L22.5,627.4 L188.5,627.4 L188.5,530 L191,529 L191,349.5 L193.5,349.5 L194.5,358.3 L199,358.3 L200,360.3 L203,360.3 L204,363.3 L366,363.3 L366,616 L368.5,617 L368.5,636 L371.5,637.5 L373.5,628.4 L377.5,627.4 L543.8,627.4 L543.8,408 L546,407 L546,349.5 L548.5,349.5 L549.5,358.3 L554,358.3 L555,360.3 L558,360.3 L559,363.3 L720.5,363.3 L720.5,545 L724.5,546 L724.5,636 L727.5,637.5 L729.5,628.4 L733.5,627.4 L897.8,627.4 L897.8,442 L900.5,441 L900.5,349.5 L903.0,349.5 L904.0,358.3 L908.5,358.3 L909.5,360.3 L912.5,360.3 L913.5,363.3 L1073.2,363.3 L1073.2,536 L1077,537 L1077,636 L1080,637.5 L1082,628.4 L1086,627.4 L1251.5,627.4 L1251.5,446 L1254,445 L1254,349.5 L1256.5,349.5 L1257.5,358.3 L1262,358.3 L1263,360.3 L1266,360.3 L1267,363.3 L1428.8,363.3 L1428.8,531.5 L1431,532.5 L1431,636 L1434,637.5 L1436,628.4 L1440,627.4 L1605,627.4 L1605,441 L1607.5,440 L1607.5,349.5 L1610.0,349.5 L1611.0,358.3 L1615.5,358.3 L1616.5,360.3 L1619.5,360.3 L1620.5,363.3 L1770,363.3" fill="none" stroke="#0a0ae8" stroke-width="2.8" stroke-linejoin="miter"/>
<g fill="#0a0ae8"><rect x="199.0" y="357.5" width="25" height="7.5"/><rect x="229.2" y="357.8" width="2.6" height="4.7"/><rect x="237.6" y="357.8" width="5.5" height="4.7"/><rect x="246.3" y="357.8" width="2.8" height="4.7"/><rect x="255.9" y="357.8" width="4.6" height="4.7"/><rect x="268.3" y="357.8" width="4.7" height="4.7"/><rect x="281.1" y="357.8" width="4.4" height="4.7"/><rect x="289.6" y="357.8" width="4.2" height="4.7"/><rect x="298.7" y="357.8" width="2.0" height="4.7"/><rect x="307.3" y="357.8" width="5.9" height="4.7"/><rect x="319.5" y="357.8" width="5.0" height="4.7"/><rect x="331.9" y="357.8" width="2.1" height="4.7"/><rect x="340.8" y="357.8" width="6.0" height="4.7"/><rect x="354.4" y="357.8" width="3.2" height="4.7"/><rect x="230.7" y="364.0" width="5.7" height="3.6"/><rect x="245.4" y="364.0" width="4.3" height="3.6"/><rect x="256.0" y="364.0" width="4.1" height="3.6"/><rect x="265.3" y="364.0" width="5.4" height="3.6"/><rect x="274.6" y="364.0" width="6.0" height="3.6"/><rect x="286.0" y="364.0" width="3.8" height="3.6"/><rect x="297.0" y="364.0" width="3.2" height="3.6"/><rect x="307.5" y="364.0" width="2.2" height="3.6"/><rect x="318.8" y="364.0" width="2.4" height="3.6"/><rect x="330.3" y="364.0" width="5.4" height="3.6"/><rect x="344.3" y="364.0" width="5.0" height="3.6"/><rect x="353.6" y="364.0" width="4.3" height="3.6"/><rect x="361.3" y="364.0" width="1.2" height="3.6"/><rect x="364.5" y="350.6" width="4" height="13"/><rect x="554.0" y="357.5" width="25" height="7.5"/><rect x="581.1" y="357.8" width="3.8" height="4.7"/><rect x="588.5" y="357.8" width="4.7" height="4.7"/><rect x="601.1" y="357.8" width="2.2" height="4.7"/><rect x="610.6" y="357.8" width="5.5" height="4.7"/><rect x="620.4" y="357.8" width="5.6" height="4.7"/><rect x="630.9" y="357.8" width="2.1" height="4.7"/><rect x="636.6" y="357.8" width="5.0" height="4.7"/><rect x="645.9" y="357.8" width="5.4" height="4.7"/><rect x="657.4" y="357.8" width="2.3" height="4.7"/><rect x="668.5" y="357.8" width="3.3" height="4.7"/><rect x="675.7" y="357.8" width="2.0" height="4.7"/><rect x="682.8" y="357.8" width="3.8" height="4.7"/><rect x="693.1" y="357.8" width="4.3" height="4.7"/><rect x="701.0" y="357.8" width="2.0" height="4.7"/><rect x="712.3" y="357.8" width="3.7" height="4.7"/><rect x="587.9" y="364.0" width="4.4" height="3.6"/><rect x="600.5" y="364.0" width="2.9" height="3.6"/><rect x="607.9" y="364.0" width="4.1" height="3.6"/><rect x="621.8" y="364.0" width="5.9" height="3.6"/><rect x="632.3" y="364.0" width="4.5" height="3.6"/><rect x="641.9" y="364.0" width="3.4" height="3.6"/><rect x="650.3" y="364.0" width="6.0" height="3.6"/><rect x="662.0" y="364.0" width="3.9" height="3.6"/><rect x="669.4" y="364.0" width="5.4" height="3.6"/><rect x="678.4" y="364.0" width="5.3" height="3.6"/><rect x="688.4" y="364.0" width="2.9" height="3.6"/><rect x="694.7" y="364.0" width="3.4" height="3.6"/><rect x="707.8" y="364.0" width="3.4" height="3.6"/><rect x="716.5" y="364.0" width="2.0" height="3.6"/><rect x="720.5" y="350.6" width="4" height="13"/><rect x="908.5" y="357.5" width="25" height="7.5"/><rect x="941.1" y="357.8" width="5.9" height="4.7"/><rect x="955.9" y="357.8" width="2.2" height="4.7"/><rect x="966.6" y="357.8" width="5.2" height="4.7"/><rect x="980.3" y="357.8" width="4.3" height="4.7"/><rect x="988.3" y="357.8" width="4.7" height="4.7"/><rect x="1000.1" y="357.8" width="3.9" height="4.7"/><rect x="1012.4" y="357.8" width="2.7" height="4.7"/><rect x="1020.8" y="357.8" width="4.5" height="4.7"/><rect x="1034.6" y="357.8" width="6.0" height="4.7"/><rect x="1049.8" y="357.8" width="3.1" height="4.7"/><rect x="1058.8" y="357.8" width="4.1" height="4.7"/><rect x="1069.1" y="357.8" width="1.9" height="4.7"/><rect x="942.8" y="364.0" width="3.5" height="3.6"/><rect x="955.5" y="364.0" width="5.6" height="3.6"/><rect x="967.6" y="364.0" width="5.7" height="3.6"/><rect x="983.1" y="364.0" width="2.0" height="3.6"/><rect x="992.3" y="364.0" width="5.8" height="3.6"/><rect x="1003.3" y="364.0" width="3.5" height="3.6"/><rect x="1010.8" y="364.0" width="5.5" height="3.6"/><rect x="1023.3" y="364.0" width="4.4" height="3.6"/><rect x="1034.8" y="364.0" width="5.6" height="3.6"/><rect x="1047.0" y="364.0" width="4.2" height="3.6"/><rect x="1057.4" y="364.0" width="3.3" height="3.6"/><rect x="1073.0" y="350.6" width="4" height="13"/><rect x="1262.0" y="357.5" width="25" height="7.5"/><rect x="1287.9" y="357.8" width="4.6" height="4.7"/><rect x="1295.8" y="357.8" width="3.9" height="4.7"/><rect x="1304.1" y="357.8" width="3.6" height="4.7"/><rect x="1312.2" y="357.8" width="2.9" height="4.7"/><rect x="1321.2" y="357.8" width="2.5" height="4.7"/><rect x="1328.4" y="357.8" width="4.9" height="4.7"/><rect x="1337.0" y="357.8" width="5.4" height="4.7"/><rect x="1348.3" y="357.8" width="2.8" height="4.7"/><rect x="1359.6" y="357.8" width="3.5" height="4.7"/><rect x="1368.6" y="357.8" width="2.0" height="4.7"/><rect x="1374.9" y="357.8" width="5.7" height="4.7"/><rect x="1387.1" y="357.8" width="3.7" height="4.7"/><rect x="1398.0" y="357.8" width="2.4" height="4.7"/><rect x="1404.4" y="357.8" width="5.4" height="4.7"/><rect x="1417.2" y="357.8" width="3.3" height="4.7"/><rect x="1289.9" y="364.0" width="3.8" height="3.6"/><rect x="1302.2" y="364.0" width="5.4" height="3.6"/><rect x="1312.6" y="364.0" width="5.9" height="3.6"/><rect x="1323.0" y="364.0" width="3.1" height="3.6"/><rect x="1332.6" y="364.0" width="4.2" height="3.6"/><rect x="1343.7" y="364.0" width="3.9" height="3.6"/><rect x="1356.0" y="364.0" width="3.0" height="3.6"/><rect x="1365.0" y="364.0" width="4.7" height="3.6"/><rect x="1379.0" y="364.0" width="3.0" height="3.6"/><rect x="1387.5" y="364.0" width="3.9" height="3.6"/><rect x="1396.2" y="364.0" width="4.0" height="3.6"/><rect x="1409.9" y="364.0" width="2.9" height="3.6"/><rect x="1421.6" y="364.0" width="3.4" height="3.6"/><rect x="1427.0" y="350.6" width="4" height="13"/><rect x="1615.5" y="357.5" width="25" height="7.5"/><rect x="1644.0" y="357.8" width="2.5" height="4.7"/><rect x="1653.3" y="357.8" width="5.4" height="4.7"/><rect x="1664.4" y="357.8" width="3.0" height="4.7"/><rect x="1676.2" y="357.8" width="2.6" height="4.7"/><rect x="1685.8" y="357.8" width="5.1" height="4.7"/><rect x="1697.4" y="357.8" width="3.2" height="4.7"/><rect x="1707.8" y="357.8" width="3.3" height="4.7"/><rect x="1718.8" y="357.8" width="5.2" height="4.7"/><rect x="1732.6" y="357.8" width="5.1" height="4.7"/><rect x="1741.6" y="357.8" width="3.1" height="4.7"/><rect x="1752.3" y="357.8" width="4.5" height="4.7"/><rect x="1644.9" y="364.0" width="2.2" height="3.6"/><rect x="1650.7" y="364.0" width="2.2" height="3.6"/><rect x="1659.6" y="364.0" width="3.3" height="3.6"/><rect x="1666.2" y="364.0" width="5.6" height="3.6"/><rect x="1675.3" y="364.0" width="3.4" height="3.6"/><rect x="1687.1" y="364.0" width="4.7" height="3.6"/><rect x="1696.3" y="364.0" width="5.8" height="3.6"/><rect x="1708.3" y="364.0" width="5.3" height="3.6"/><rect x="1719.6" y="364.0" width="4.6" height="3.6"/><rect x="1733.9" y="364.0" width="2.2" height="3.6"/><rect x="1743.1" y="364.0" width="4.4" height="3.6"/><rect x="1757.2" y="364.0" width="4.4" height="3.6"/><rect x="7" y="357" width="5" height="9"/><rect x="17.5" y="624" width="30" height="10"/><rect x="48.6" y="623.9" width="14.0" height="2.6"/><rect x="65.6" y="623.9" width="10.3" height="2.6"/><rect x="83.6" y="623.9" width="7.3" height="2.6"/><rect x="94.1" y="623.9" width="16.1" height="2.6"/><rect x="115.2" y="623.9" width="20.4" height="2.6"/><rect x="139.5" y="623.9" width="17.6" height="2.6"/><rect x="161.7" y="623.9" width="21.9" height="2.6"/><rect x="49.6" y="628.0" width="3.5" height="6.2"/><rect x="59.9" y="628.0" width="3.9" height="6.2"/><rect x="71.5" y="628.0" width="4.8" height="6.2"/><rect x="80.5" y="628.0" width="4.6" height="6.2"/><rect x="94.7" y="628.0" width="3.6" height="6.2"/><rect x="103.5" y="628.0" width="3.0" height="6.2"/><rect x="114.3" y="628.0" width="2.5" height="6.2"/><rect x="121.5" y="628.0" width="3.2" height="6.2"/><rect x="133.2" y="628.0" width="5.0" height="6.2"/><rect x="145.5" y="628.0" width="2.6" height="6.2"/><rect x="154.0" y="628.0" width="2.2" height="6.2"/><rect x="167.2" y="628.0" width="3.8" height="6.2"/><rect x="180.7" y="628.0" width="3.0" height="6.2"/><rect x="372.5" y="624" width="30" height="10"/><rect x="403.6" y="623.9" width="11.0" height="2.6"/><rect x="420.7" y="623.9" width="13.9" height="2.6"/><rect x="438.6" y="623.9" width="6.3" height="2.6"/><rect x="448.6" y="623.9" width="17.9" height="2.6"/><rect x="469.5" y="623.9" width="21.8" height="2.6"/><rect x="498.3" y="623.9" width="7.0" height="2.6"/><rect x="507.4" y="623.9" width="18.8" height="2.6"/><rect x="528.5" y="623.9" width="14.5" height="2.6"/><rect x="407.0" y="628.0" width="4.3" height="6.2"/><rect x="414.5" y="628.0" width="5.0" height="6.2"/><rect x="429.2" y="628.0" width="2.2" height="6.2"/><rect x="436.6" y="628.0" width="5.4" height="6.2"/><rect x="446.6" y="628.0" width="2.6" height="6.2"/><rect x="458.6" y="628.0" width="6.0" height="6.2"/><rect x="475.4" y="628.0" width="2.8" height="6.2"/><rect x="482.3" y="628.0" width="2.0" height="6.2"/><rect x="488.3" y="628.0" width="3.3" height="6.2"/><rect x="502.3" y="628.0" width="5.0" height="6.2"/><rect x="511.7" y="628.0" width="3.6" height="6.2"/><rect x="522.7" y="628.0" width="2.6" height="6.2"/><rect x="528.8" y="628.0" width="2.8" height="6.2"/><rect x="537.0" y="628.0" width="2.1" height="6.2"/><rect x="728.5" y="624" width="30" height="10"/><rect x="766.3" y="623.9" width="12.5" height="2.6"/><rect x="783.4" y="623.9" width="14.0" height="2.6"/><rect x="804.4" y="623.9" width="11.4" height="2.6"/><rect x="823.3" y="623.9" width="21.2" height="2.6"/><rect x="848.2" y="623.9" width="14.4" height="2.6"/><rect x="870.3" y="623.9" width="9.5" height="2.6"/><rect x="887.7" y="623.9" width="9.8" height="2.6"/><rect x="759.6" y="628.0" width="3.6" height="6.2"/><rect x="771.4" y="628.0" width="2.8" height="6.2"/><rect x="785.0" y="628.0" width="3.6" height="6.2"/><rect x="796.1" y="628.0" width="5.1" height="6.2"/><rect x="806.7" y="628.0" width="4.8" height="6.2"/><rect x="820.4" y="628.0" width="5.1" height="6.2"/><rect x="831.0" y="628.0" width="3.4" height="6.2"/><rect x="842.0" y="628.0" width="3.8" height="6.2"/><rect x="852.6" y="628.0" width="4.3" height="6.2"/><rect x="865.9" y="628.0" width="2.6" height="6.2"/><rect x="873.2" y="628.0" width="2.5" height="6.2"/><rect x="882.9" y="628.0" width="2.8" height="6.2"/><rect x="896.1" y="628.0" width="1.4" height="6.2"/><rect x="1081.0" y="624" width="30" height="10"/><rect x="1117.1" y="623.9" width="9.1" height="2.6"/><rect x="1128.7" y="623.9" width="8.2" height="2.6"/><rect x="1143.1" y="623.9" width="10.3" height="2.6"/><rect x="1161.1" y="623.9" width="6.8" height="2.6"/><rect x="1171.7" y="623.9" width="12.9" height="2.6"/><rect x="1188.6" y="623.9" width="9.3" height="2.6"/><rect x="1200.5" y="623.9" width="13.1" height="2.6"/><rect x="1220.1" y="623.9" width="10.6" height="2.6"/><rect x="1238.7" y="623.9" width="12.3" height="2.6"/><rect x="1115.0" y="628.0" width="3.1" height="6.2"/><rect x="1121.9" y="628.0" width="3.9" height="6.2"/><rect x="1133.1" y="628.0" width="5.2" height="6.2"/><rect x="1141.9" y="628.0" width="2.1" height="6.2"/><rect x="1154.3" y="628.0" width="3.4" height="6.2"/><rect x="1166.5" y="628.0" width="5.5" height="6.2"/><rect x="1177.2" y="628.0" width="2.7" height="6.2"/><rect x="1189.2" y="628.0" width="3.2" height="6.2"/><rect x="1199.4" y="628.0" width="2.0" height="6.2"/><rect x="1209.1" y="628.0" width="3.8" height="6.2"/><rect x="1217.5" y="628.0" width="2.8" height="6.2"/><rect x="1230.7" y="628.0" width="5.6" height="6.2"/><rect x="1241.8" y="628.0" width="3.3" height="6.2"/><rect x="1435.0" y="624" width="30" height="10"/><rect x="1472.7" y="623.9" width="4.3" height="2.6"/><rect x="1481.2" y="623.9" width="13.9" height="2.6"/><rect x="1500.7" y="623.9" width="10.0" height="2.6"/><rect x="1517.0" y="623.9" width="11.7" height="2.6"/><rect x="1531.6" y="623.9" width="20.4" height="2.6"/><rect x="1555.3" y="623.9" width="16.7" height="2.6"/><rect x="1579.5" y="623.9" width="7.1" height="2.6"/><rect x="1593.1" y="623.9" width="11.4" height="2.6"/><rect x="1475.1" y="628.0" width="2.6" height="6.2"/><rect x="1484.8" y="628.0" width="5.9" height="6.2"/><rect x="1497.9" y="628.0" width="5.5" height="6.2"/><rect x="1509.6" y="628.0" width="4.6" height="6.2"/><rect x="1521.1" y="628.0" width="4.8" height="6.2"/><rect x="1534.8" y="628.0" width="4.9" height="6.2"/><rect x="1548.8" y="628.0" width="2.9" height="6.2"/><rect x="1559.8" y="628.0" width="5.2" height="6.2"/><rect x="1574.0" y="628.0" width="2.7" height="6.2"/><rect x="1584.1" y="628.0" width="2.1" height="6.2"/><rect x="1596.9" y="628.0" width="4.6" height="6.2"/></g>
<polyline points="52.0,466.4 52.8,466.7 53.8,465.5 54.9,465.1 56.2,465.0 57.7,464.5 59.3,464.3 61.3,462.8 63.5,462.7 66.0,463.2 67.1,462.1 68.3,462.3 69.6,461.8 70.9,461.7 72.2,462.4 73.6,462.5 75.1,462.0 76.6,462.2 78.1,461.5 79.7,461.5 81.3,461.7 82.9,462.9 84.6,461.4 86.2,461.5 87.9,462.4 89.6,461.4 91.3,462.5 93.0,462.2 94.7,461.8 96.4,462.9 98.1,462.0 99.8,462.1 101.2,462.1 102.7,462.0 104.2,463.0 105.7,462.0 107.2,463.0 108.8,463.0 110.3,462.5 111.9,462.1 113.5,463.3 115.1,463.1 116.7,463.4 118.3,462.2 119.9,462.8 121.5,462.9 123.1,462.9 124.7,463.3 126.3,463.7 127.9,464.0 129.4,463.4 131.0,464.1 132.5,463.6 134.0,463.4 135.4,462.8 136.8,463.0 138.2,463.2 139.6,464.6 141.4,464.0 143.2,463.4 145.0,464.7 146.7,464.5 148.4,464.2 150.0,464.8 151.7,463.8 153.3,464.6 154.9,463.5 156.4,463.5 158.0,463.6 159.5,465.1 161.0,465.1 162.5,463.9 163.9,464.1 165.3,465.2 166.7,464.7 168.1,463.9 169.5,464.7 171.3,465.1 173.2,465.7 175.0,466.1 176.7,465.5 178.5,466.1 180.2,465.4 181.8,466.6 183.4,465.9 184.9,467.1 186.4,466.6 187.8,466.3 189.1,467.4 190.3,467.1 191.4,467.9 193.4,468.3 194.7,468.9 195.5,470.2 196.4,471.0 197.5,471.8 199.4,472.3 200.4,472.9 201.5,474.3 202.6,475.4 203.9,475.9 205.2,476.7 206.5,477.0 207.9,477.2 209.3,477.5 210.8,479.6 212.2,480.2 213.7,480.8 215.1,481.8 216.6,482.8 217.9,482.5 219.3,483.0 220.6,483.8 222.0,484.8 223.3,485.5 224.6,487.0 225.9,487.1 227.3,488.3 228.6,488.7 229.9,489.2 231.2,491.3 232.6,491.7 233.9,491.5 235.2,493.3 236.5,493.7 237.9,494.2 239.2,495.0 240.7,495.6 242.3,495.8 243.8,496.8 245.3,497.5 246.9,497.8 248.4,496.9 249.9,497.5 251.4,497.8 253.0,498.7 254.5,499.0 256.0,500.0 257.6,499.4 259.1,499.2 260.6,499.6 262.2,500.4 263.7,499.8 265.2,500.8 266.7,501.2 268.3,501.2 269.8,501.0 271.3,501.9 272.9,501.2 274.4,501.5 275.9,501.0 277.5,501.5 279.0,502.3 280.5,501.4 282.0,502.4 283.4,502.0 284.8,501.4 286.2,501.4 287.7,500.6 289.1,500.7 290.6,501.2 292.1,500.0 293.7,501.3 295.4,500.6 297.1,499.7 299.0,499.5 300.3,499.5 301.6,498.9 302.9,499.3 304.3,498.6 305.8,497.9 307.2,497.4 308.7,498.3 310.2,497.7 311.7,497.7 313.3,496.9 314.8,495.8 316.4,496.6 318.0,495.6 319.5,496.3 321.1,494.9 322.7,495.6 324.2,495.1 325.8,494.3 327.3,494.0 328.8,494.3 330.3,494.2 331.9,493.4 333.5,492.3 335.1,491.9 336.7,492.3 338.4,492.2 340.0,491.8 341.7,490.9 343.4,491.0 345.0,491.0 346.6,490.2 348.2,489.9 349.7,490.5 351.2,489.6 352.6,489.7 354.0,489.2 355.3,489.8 356.5,488.6 357.7,489.1 358.7,488.7 361.1,488.1 362.7,487.4 363.9,486.9 364.8,486.9 365.7,486.0 366.9,485.4 368.7,483.9 369.7,482.6 370.7,481.6 371.8,482.3 373.0,481.1 374.2,479.3 375.4,478.6 376.7,477.5 378.0,476.6 379.4,476.5 380.7,475.7 382.0,474.1 383.4,473.2 384.7,472.7 386.0,471.4 387.3,470.4 388.6,470.3 389.8,469.6 391.1,468.6 392.3,467.4 393.6,465.4 394.8,465.9 396.1,464.7 397.3,462.9 398.6,462.4 399.8,461.2 401.0,460.6 402.3,459.8 403.5,458.5 404.8,458.3 406.0,457.9 407.3,457.0 408.5,456.5 410.0,454.6 411.5,454.0 413.1,454.0 414.6,453.8 416.1,452.8 417.6,452.5 419.1,451.7 420.6,452.0 422.2,450.9 423.7,451.4 425.3,450.5 426.8,449.5 428.4,449.9 429.9,449.9 431.4,449.9 432.9,449.5 434.5,449.3 436.0,449.0 437.6,449.2 439.1,447.6 440.7,447.9 442.3,448.2 443.8,448.4 445.4,447.9 446.9,447.9 448.4,447.7 449.9,448.4 451.5,447.8 453.0,448.7 454.6,448.4 456.1,448.4 457.7,447.8 459.2,448.2 460.7,449.3 462.2,448.5 463.7,450.0 465.2,449.4 466.7,449.4 468.3,450.1 469.8,450.1 471.2,452.0 472.7,451.4 474.1,451.4 475.5,452.4 476.9,453.0 478.4,453.1 479.8,453.6 481.2,454.2 482.7,454.6 484.1,456.1 485.5,455.8 486.9,456.9 488.4,457.9 489.8,458.4 491.3,458.8 492.9,458.7 494.4,459.6 495.9,459.2 497.5,460.6 499.0,460.3 500.5,460.6 502.1,461.3 503.6,462.0 505.1,463.1 506.6,463.3 508.2,463.8 509.7,463.5 511.1,464.0 512.6,464.7 514.1,465.7 515.5,465.3 517.0,466.5 518.5,467.2 520.0,467.6 521.4,469.1 522.9,469.1 524.3,469.5 525.7,470.0 527.0,471.5 528.3,470.6 529.6,471.8 531.3,472.0 532.9,473.1 534.4,473.7 535.9,474.6 537.4,473.9 538.8,474.3 540.2,475.5 541.6,475.8 543.0,476.7 544.5,477.8 545.6,477.7 546.8,478.9 547.9,479.9 548.9,481.8 550.0,482.1 551.1,482.4 552.2,484.7 553.4,485.6 554.5,486.6 555.7,487.8 556.9,488.4 558.2,490.4 559.5,491.3 560.6,491.8 561.8,492.7 562.9,492.9 564.1,494.9 565.4,495.0 566.6,497.1 567.9,497.4 569.1,498.8 570.4,500.6 571.7,501.2 573.0,502.5 574.3,503.8 575.6,504.6 576.9,505.1 578.1,505.0 579.4,507.0 580.8,508.2 582.2,508.6 583.7,508.9 585.1,509.8 586.5,510.5 587.9,512.4 589.3,512.6 590.8,514.0 592.2,513.4 593.6,514.1 595.0,515.6 596.5,515.3 597.9,515.6 599.3,516.4 600.8,517.3 602.4,517.6 603.9,518.0 605.4,517.9 606.9,518.2 608.5,518.5 610.0,518.1 611.5,518.6 613.1,518.3 614.6,518.4 616.1,518.1 617.7,517.4 619.2,517.0 620.7,516.8 622.3,517.8 623.8,518.1 625.3,517.1 626.9,518.0 628.4,517.5 630.0,517.0 631.5,517.3 633.1,516.7 634.6,516.8 636.1,515.6 637.7,516.1 639.2,515.2 640.6,514.7 642.0,514.0 643.5,513.8 644.9,513.9 646.3,512.7 647.7,513.0 649.2,511.9 650.6,510.3 652.0,510.4 653.4,509.7 654.8,509.0 656.3,508.7 657.7,507.0 659.1,505.8 660.5,505.8 661.9,505.4 663.4,504.0 664.8,503.6 666.2,502.7 667.6,502.4 669.0,502.1 670.5,501.4 671.9,500.4 673.3,500.6 674.7,499.3 676.2,498.5 677.6,497.1 679.0,495.9 680.2,496.2 681.5,495.3 682.7,494.4 683.9,493.3 685.1,492.4 686.3,490.8 687.5,490.6 688.8,490.3 690.0,488.0 691.2,487.5 692.5,486.3 693.7,485.8 695.0,484.8 696.3,483.6 697.6,483.2 698.9,483.3 700.3,481.8 701.7,480.8 703.1,480.7 704.6,480.8 706.0,480.8 707.5,479.4 709.0,479.7 710.5,478.6 712.0,479.1 713.5,477.8 715.0,477.7 716.4,478.3 717.8,477.4 719.2,476.5 720.5,475.2 721.8,474.3 722.9,473.9 724.1,472.9 725.1,471.2 726.1,470.9 727.1,469.0 728.1,469.0 729.1,467.6 730.0,465.7 731.0,464.4 731.9,463.7 732.8,461.3 733.8,459.9 734.7,459.1 735.7,459.0 736.7,456.2 737.7,456.4 738.8,455.5 740.0,453.6 741.1,453.1 742.4,452.2 743.6,450.2 744.8,449.2 746.1,448.8 747.3,447.0 748.6,447.1 749.8,446.3 751.1,445.4 752.4,443.2 753.7,443.3 754.9,441.8 756.2,441.1 757.5,440.2 758.7,440.7 760.1,438.5 761.5,438.7 763.0,437.8 764.4,437.1 765.8,436.8 767.2,435.3 768.7,434.6 770.1,434.5 771.5,433.3 772.9,433.3 774.3,433.3 775.8,432.7 777.2,432.5 778.6,432.0 780.1,432.2 781.7,431.9 783.2,430.7 784.7,430.4 786.3,430.7 787.8,430.2 789.3,430.7 790.8,430.1 792.4,430.6 793.9,430.0 795.4,431.3 797.0,431.3 798.5,431.2 799.9,431.8 801.4,431.6 802.9,433.3 804.4,433.0 806.0,433.4 807.5,434.7 809.0,435.7 810.5,435.1 811.9,436.1 813.3,437.3 814.7,438.2 816.0,438.7 817.2,438.9 818.4,439.7 820.2,441.0 821.7,442.0 823.0,441.9 824.1,443.6 825.3,444.3 826.6,445.1 828.1,445.8 829.9,446.9 831.0,446.8 832.1,448.0 833.3,449.5 834.6,449.9 835.9,449.6 837.3,450.8 838.6,451.5 840.0,452.6 841.4,452.7 842.8,453.9 844.3,454.2 845.7,455.7 847.1,456.6 848.5,457.0 849.8,458.0 851.0,459.3 852.3,459.7 853.5,461.0 854.8,460.5 856.0,462.2 857.3,463.2 858.5,463.7 859.8,465.3 861.1,465.7 862.3,466.1 863.6,467.8 864.8,468.1 866.1,469.5 867.3,469.9 868.6,471.7 869.8,471.2 871.2,472.9 872.5,473.1 873.9,474.0 875.4,475.2 876.8,476.7 878.2,477.7 879.7,477.1 881.1,478.9 882.5,479.4 883.8,479.6 885.1,481.1 886.4,482.3 887.5,481.9 888.7,482.8 889.7,483.0 891.6,485.2 893.3,486.3 894.6,487.1 895.9,487.0 897.1,488.1 898.3,488.5 899.6,489.6 900.7,490.8 901.6,491.1 902.6,491.7 903.5,493.5 904.5,494.2 905.5,495.5 906.7,496.4 908.1,498.0 909.6,499.1 910.5,500.4 911.5,502.0 912.5,502.4 913.6,504.1 914.7,504.0 915.9,505.3 917.1,506.9 918.3,507.8 919.6,509.0 920.8,509.7 922.1,512.3 923.3,513.0 924.6,513.1 925.9,515.0 927.1,515.7 928.3,516.4 929.5,518.3 930.9,518.9 932.3,520.2 933.8,520.7 935.2,521.8 936.6,521.4 938.0,522.2 939.4,523.9 940.9,524.3 942.3,525.6 943.7,526.2 945.1,526.0 946.6,526.7 948.0,526.4 949.4,527.1 950.9,527.4 952.5,528.6 954.0,528.4 955.5,528.8 957.1,529.9 958.6,529.8 960.2,528.8 961.7,529.1 963.3,529.2 964.8,529.2 966.3,529.1 967.9,530.2 969.4,529.9 970.9,529.4 972.5,528.5 974.0,528.5 975.5,527.9 977.1,528.8 978.6,527.3 980.1,526.4 981.7,526.9 983.2,525.9 984.7,524.8 986.2,524.9 987.8,524.9 989.3,523.2 990.6,522.7 992.0,522.9 993.3,522.0 994.6,521.4 995.9,520.8 997.3,518.8 998.6,518.6 999.9,517.5 1001.2,516.8 1002.6,516.5 1003.9,515.9 1005.2,514.2 1006.5,512.9 1007.9,512.5 1009.2,511.1 1010.4,510.0 1011.7,509.7 1012.9,509.5 1014.2,508.6 1015.4,507.4 1016.7,505.4 1017.9,505.4 1019.2,503.8 1020.4,502.8 1021.6,501.4 1022.9,500.1 1024.1,499.7 1025.4,499.2 1026.6,497.8 1027.9,496.3 1029.1,495.3 1030.3,495.1 1031.6,494.5 1032.8,493.7 1034.1,491.6 1035.3,490.5 1036.6,490.4 1037.8,489.1 1039.0,488.2 1040.3,487.7 1041.5,487.5 1042.8,486.1 1044.0,484.7 1045.3,483.7 1046.5,483.0 1047.8,482.8 1049.0,481.3 1050.2,480.1 1051.5,479.9 1052.7,479.0 1054.0,478.9 1055.2,477.7 1056.5,476.7 1057.7,475.8 1059.0,474.3 1060.3,473.1 1061.5,473.3 1062.8,472.3 1064.0,471.1 1065.3,469.1 1066.5,468.4 1067.8,467.7 1069.0,466.9 1070.2,465.5 1071.3,465.2 1072.5,463.4 1073.7,462.6 1074.9,462.2 1076.0,460.2 1077.2,459.7 1078.4,459.0 1079.5,458.6 1080.7,456.3 1081.9,456.5 1083.1,454.9 1084.2,454.0 1085.4,453.1 1086.6,452.5 1087.7,450.8 1088.9,450.0 1090.1,448.8 1091.4,448.1 1092.6,446.6 1093.9,444.9 1095.1,443.7 1096.4,443.6 1097.6,442.9 1098.9,441.6 1100.1,440.8 1101.3,439.6 1102.6,437.8 1103.8,437.1 1105.1,435.8 1106.3,435.5 1107.6,435.1 1108.8,433.9 1110.3,432.3 1111.9,432.2 1113.4,431.0 1114.9,431.5 1116.5,430.7 1118.0,429.7 1119.5,429.6 1121.0,429.3 1122.6,428.7 1124.1,428.7 1125.6,428.3 1127.2,427.8 1128.7,427.3 1130.2,427.9 1131.8,427.9 1133.3,427.6 1134.8,426.6 1136.3,426.8 1137.9,427.2 1139.4,426.5 1140.9,427.3 1142.5,427.1 1144.0,426.7 1145.5,427.6 1147.1,427.3 1148.6,427.6 1150.0,427.9 1151.5,428.3 1152.9,428.3 1154.3,429.4 1155.7,429.3 1157.2,430.0 1158.6,430.9 1160.0,431.2 1161.5,432.5 1162.9,433.7 1164.3,434.3 1165.7,434.9 1167.2,435.8 1168.6,436.1 1169.9,437.1 1171.3,437.7 1172.6,437.9 1173.9,439.2 1175.2,439.9 1176.6,440.8 1177.9,441.8 1179.2,442.3 1180.5,442.0 1181.9,442.9 1183.2,443.8 1184.5,445.3 1185.8,446.2 1187.2,447.1 1188.5,447.2 1189.8,448.4 1191.0,449.5 1192.4,450.5 1193.7,451.3 1195.0,453.2 1196.3,453.1 1197.7,454.3 1199.0,455.8 1200.3,456.9 1201.6,458.0 1202.8,458.1 1204.0,459.3 1205.2,460.7 1206.3,461.2 1207.4,461.3 1208.4,462.1 1210.2,464.0 1211.7,465.0 1213.0,465.9 1214.2,466.5 1215.3,467.1 1216.6,467.7 1218.1,469.4 1219.9,469.3 1220.9,470.7 1222.0,471.5 1223.2,472.0 1224.4,473.2 1225.7,473.8 1227.1,475.1 1228.4,476.4 1229.8,476.7 1231.1,477.9 1232.5,478.9 1233.8,479.4 1235.1,480.4 1236.4,482.1 1237.6,481.6 1238.7,482.2 1239.8,484.2 1241.5,485.4 1243.1,484.8 1244.5,485.8 1245.8,487.2 1247.1,487.2 1248.4,487.5 1249.8,489.2 1251.2,488.7 1252.8,491.1 1253.7,492.0 1254.7,492.5 1255.7,494.3 1256.7,495.3 1257.7,496.6 1258.7,497.5 1259.8,497.9 1260.8,499.8 1261.9,501.1 1263.0,503.0 1264.1,503.7 1265.2,505.6 1266.3,506.5 1267.4,507.0 1268.6,508.3 1269.7,508.9 1270.9,510.2 1272.0,511.0 1273.2,513.1 1274.5,513.0 1275.7,514.9 1276.9,515.8 1278.2,516.3 1279.5,517.0 1280.7,518.1 1282.0,519.1 1283.3,520.5 1284.5,520.3 1285.8,522.1 1287.1,523.0 1288.3,522.4 1289.6,523.3 1291.1,524.1 1292.7,524.1 1294.2,525.8 1295.7,525.0 1297.3,526.1 1298.8,525.8 1300.4,526.1 1301.9,527.7 1303.5,527.8 1305.0,526.6 1306.5,527.0 1308.1,527.2 1309.6,527.5 1311.1,526.9 1312.7,528.0 1314.2,527.1 1315.7,527.9 1317.3,526.6 1318.8,526.7 1320.3,527.2 1321.9,525.6 1323.4,526.1 1324.9,525.3 1326.4,524.6 1328.0,524.7 1329.5,525.0 1330.9,523.4 1332.3,523.4 1333.8,524.0 1335.2,523.5 1336.6,522.4 1338.0,521.4 1339.5,522.2 1340.9,521.0 1342.3,520.5 1343.7,519.9 1345.1,519.6 1346.6,518.8 1348.0,518.3 1349.4,518.0 1350.7,516.6 1352.1,515.9 1353.4,515.3 1354.7,515.5 1356.0,514.2 1357.4,513.1 1358.7,512.5 1360.0,511.0 1361.3,511.1 1362.7,510.6 1364.0,508.6 1365.3,508.5 1366.6,506.6 1368.0,506.9 1369.3,505.1 1370.5,504.3 1371.8,504.3 1373.0,503.0 1374.3,502.2 1375.5,500.0 1376.8,499.0 1378.0,498.8 1379.2,497.1 1380.5,496.5 1381.7,495.4 1383.0,495.0 1384.2,493.7 1385.5,491.9 1386.7,491.3 1388.0,490.2 1389.2,489.5 1390.5,489.5 1391.9,488.2 1393.2,487.5 1394.5,485.6 1395.9,485.0 1397.2,485.2 1398.5,484.3 1399.9,483.4 1401.2,482.1 1402.5,482.1 1403.9,481.3 1405.2,480.4 1406.5,479.6 1407.9,478.5 1409.2,477.8 1410.6,477.6 1412.0,476.5 1413.5,475.1 1414.9,474.4 1416.3,474.8 1417.7,474.7 1419.2,473.2 1420.6,473.7 1422.0,472.9 1423.4,471.2 1424.8,471.4 1426.3,471.0 1427.7,469.6 1429.1,468.5 1430.3,468.6 1431.4,467.0 1432.6,466.6 1433.8,465.7 1435.0,465.0 1436.1,463.1 1437.3,462.2 1438.5,461.8 1439.6,460.2 1440.8,459.3 1442.0,457.2 1443.1,456.7 1444.3,455.4 1445.5,454.2 1446.7,453.8 1447.8,452.5 1449.0,451.7 1450.2,451.3 1451.5,449.3 1452.7,449.0 1454.0,447.9 1455.2,446.4 1456.5,445.8 1457.7,445.0 1459.0,444.1 1460.2,442.6 1461.4,442.0 1462.7,440.7 1463.9,441.1 1465.2,440.5 1466.4,439.2 1467.7,438.9 1468.9,437.4 1470.4,437.9 1472.0,436.5 1473.5,436.3 1475.0,435.7 1476.5,434.7 1478.1,434.8 1479.6,433.6 1481.1,434.6 1482.7,434.4 1484.2,434.1 1485.7,433.9 1487.3,433.3 1488.8,432.3 1490.3,432.2 1491.9,432.1 1493.4,433.4 1494.9,432.9 1496.5,432.8 1498.0,432.7 1499.6,433.9 1501.1,433.6 1502.7,433.1 1504.2,433.7 1505.7,434.9 1507.3,435.0 1508.8,435.6 1510.2,435.4 1511.6,435.9 1513.1,436.4 1514.5,435.9 1515.9,436.5 1517.3,438.1 1518.8,437.4 1520.2,438.8 1521.6,438.4 1523.0,438.8 1524.4,440.4 1525.9,440.6 1527.3,441.5 1528.7,441.6 1530.1,442.8 1531.5,443.8 1533.0,444.5 1534.4,444.8 1535.8,444.4 1537.2,445.7 1538.7,446.6 1540.1,447.7 1541.5,447.3 1542.9,448.9 1544.3,449.8 1545.8,450.8 1547.2,450.5 1548.6,451.5 1549.9,452.4 1551.3,452.6 1552.6,454.9 1553.9,455.3 1555.2,455.5 1556.6,456.9 1557.9,457.2 1559.2,458.9 1560.5,458.5 1561.9,459.8 1563.2,461.2 1564.5,461.8 1565.8,461.7 1567.2,463.8 1568.5,464.5 1569.9,465.1 1571.4,464.8 1572.8,466.8 1574.3,467.3 1575.7,467.7 1577.2,467.7 1578.7,469.5 1580.1,470.0 1581.5,470.7 1583.0,470.5 1584.4,471.4 1585.7,471.9 1587.1,472.4 1588.4,473.9 1589.9,474.2 1591.4,475.9 1592.9,476.3 1594.4,476.5 1595.9,476.3 1597.3,477.6 1598.7,478.3 1600.1,478.3 1601.4,480.3 1602.7,480.8 1603.9,481.0 1605.0,482.2 1606.4,483.1 1607.6,484.2 1608.8,484.8 1609.9,487.1 1610.9,487.6 1611.8,488.4 1612.8,490.6 1613.8,491.3 1614.9,492.8 1616.0,493.9 1617.0,494.6 1618.0,495.5 1619.1,497.5 1620.1,498.0 1621.2,500.1 1622.3,500.8 1623.6,502.0 1624.9,502.8 1626.1,504.2 1627.3,503.7 1628.6,505.4 1630.0,505.8 1631.3,506.3 1632.8,508.4 1634.2,508.7 1635.6,509.8 1637.0,510.6 1638.4,510.3 1639.8,511.7 1641.3,512.3 1642.7,512.6 1644.1,514.3 1645.5,515.2 1646.9,515.7 1648.4,516.0 1649.9,516.7 1651.4,517.7 1653.0,518.1 1654.7,519.0 1656.1,518.8 1657.5,520.0 1659.0,519.9 1660.5,520.3 1662.0,520.0 1663.6,520.3 1665.2,521.3 1666.8,521.5 1668.4,521.4 1670.0,521.5 1671.6,521.9 1673.2,520.6 1674.7,520.9 1676.2,521.0 1677.8,520.9 1679.3,520.7 1680.8,520.3 1682.4,521.3 1683.9,520.7 1685.4,520.6 1687.0,520.7 1688.5,519.3 1690.0,519.6 1691.5,519.3 1693.1,518.9 1694.6,518.4 1696.0,519.1 1697.4,517.2 1698.9,517.4 1700.3,517.6 1701.7,517.0 1703.1,515.4 1704.5,515.0 1706.0,514.5 1707.4,514.5 1708.8,513.9 1710.2,514.0 1711.7,513.6 1713.1,512.4 1714.5,511.2 1715.9,511.5 1717.3,510.9 1718.8,510.5 1720.2,509.0 1721.6,508.8 1723.0,508.5 1724.5,507.3 1725.9,506.7 1727.3,506.3 1728.7,504.9 1730.1,505.0 1731.6,504.1 1733.0,503.9 1734.4,502.1 1735.8,502.6 1737.3,501.9 1738.7,501.2 1740.2,500.7 1741.7,499.5 1743.1,498.8 1744.6,497.9 1746.1,497.9 1747.5,496.2 1748.9,496.3 1750.3,496.5 1751.7,494.8 1753.0,493.9 1754.3,493.7 1755.8,493.4 1757.3,492.7 1758.9,490.7 1760.4,490.4 1761.9,490.0 1763.4,489.2 1764.8,488.0 1766.1,486.6 1767.3,485.5 1768.3,485.3 1769.3,484.5 1770.0,485.2" fill="none" stroke="#1ae8e8" stroke-width="4.6"/>
<rect x="1754.8" y="492.5" width="2" height="2" fill="#0b5a5a"/><rect x="1647.4" y="514.6" width="2" height="2" fill="#0b5a5a"/><rect x="1607.8" y="484.0" width="2" height="2" fill="#0b5a5a"/><rect x="473.1" y="450.2" width="2" height="2" fill="#0b5a5a"/><rect x="1570.4" y="463.0" width="2" height="2" fill="#0b5a5a"/><rect x="507.2" y="461.9" width="2" height="2" fill="#0b5a5a"/><rect x="1475.5" y="434.0" width="2" height="2" fill="#0b5a5a"/><rect x="1422.4" y="469.1" width="2" height="2" fill="#0b5a5a"/><rect x="632.1" y="515.7" width="2" height="2" fill="#0b5a5a"/><rect x="1570.4" y="464.1" width="2" height="2" fill="#0b5a5a"/><rect x="88.6" y="460.5" width="2" height="2" fill="#0b5a5a"/><rect x="1313.2" y="526.0" width="2" height="2" fill="#0b5a5a"/><rect x="494.9" y="458.4" width="2" height="2" fill="#0b5a5a"/><rect x="1015.7" y="503.3" width="2" height="2" fill="#0b5a5a"/><rect x="558.5" y="490.6" width="2" height="2" fill="#0b5a5a"/><rect x="558.5" y="490.1" width="2" height="2" fill="#0b5a5a"/><rect x="572.0" y="500.3" width="2" height="2" fill="#0b5a5a"/><rect x="680.5" y="494.6" width="2" height="2" fill="#0b5a5a"/><rect x="1223.4" y="471.1" width="2" height="2" fill="#0b5a5a"/><rect x="1045.5" y="480.8" width="2" height="2" fill="#0b5a5a"/><rect x="578.4" y="504.6" width="2" height="2" fill="#0b5a5a"/><rect x="655.3" y="506.3" width="2" height="2" fill="#0b5a5a"/><rect x="907.1" y="496.8" width="2" height="2" fill="#0b5a5a"/><rect x="1252.7" y="491.0" width="2" height="2" fill="#0b5a5a"/><rect x="416.6" y="451.0" width="2" height="2" fill="#0b5a5a"/><rect x="444.4" y="445.7" width="2" height="2" fill="#0b5a5a"/><rect x="1275.9" y="515.3" width="2" height="2" fill="#0b5a5a"/><rect x="1349.7" y="514.3" width="2" height="2" fill="#0b5a5a"/><rect x="630.5" y="516.6" width="2" height="2" fill="#0b5a5a"/><rect x="110.9" y="461.4" width="2" height="2" fill="#0b5a5a"/><rect x="304.8" y="496.5" width="2" height="2" fill="#0b5a5a"/><rect x="660.9" y="503.8" width="2" height="2" fill="#0b5a5a"/><rect x="1237.7" y="481.1" width="2" height="2" fill="#0b5a5a"/><rect x="1418.2" y="472.2" width="2" height="2" fill="#0b5a5a"/><rect x="1287.3" y="521.8" width="2" height="2" fill="#0b5a5a"/><rect x="1745.1" y="497.3" width="2" height="2" fill="#0b5a5a"/><rect x="1248.8" y="488.4" width="2" height="2" fill="#0b5a5a"/><rect x="1492.4" y="432.7" width="2" height="2" fill="#0b5a5a"/><rect x="198.4" y="470.5" width="2" height="2" fill="#0b5a5a"/><rect x="1266.4" y="505.6" width="2" height="2" fill="#0b5a5a"/><rect x="365.9" y="483.1" width="2" height="2" fill="#0b5a5a"/><rect x="450.5" y="446.7" width="2" height="2" fill="#0b5a5a"/><rect x="949.9" y="526.4" width="2" height="2" fill="#0b5a5a"/><rect x="724.1" y="470.7" width="2" height="2" fill="#0b5a5a"/><rect x="235.5" y="493.1" width="2" height="2" fill="#0b5a5a"/><rect x="1150.5" y="426.9" width="2" height="2" fill="#0b5a5a"/><rect x="1599.1" y="476.3" width="2" height="2" fill="#0b5a5a"/><rect x="1238.8" y="482.8" width="2" height="2" fill="#0b5a5a"/><rect x="1002.9" y="514.0" width="2" height="2" fill="#0b5a5a"/><rect x="1342.7" y="518.6" width="2" height="2" fill="#0b5a5a"/><rect x="174.0" y="465.4" width="2" height="2" fill="#0b5a5a"/><rect x="1762.4" y="487.0" width="2" height="2" fill="#0b5a5a"/><rect x="1625.1" y="503.4" width="2" height="2" fill="#0b5a5a"/><rect x="1591.9" y="475.4" width="2" height="2" fill="#0b5a5a"/><rect x="1121.6" y="426.9" width="2" height="2" fill="#0b5a5a"/><rect x="386.3" y="468.8" width="2" height="2" fill="#0b5a5a"/><rect x="288.1" y="498.3" width="2" height="2" fill="#0b5a5a"/><rect x="1248.8" y="487.7" width="2" height="2" fill="#0b5a5a"/><rect x="1112.4" y="429.0" width="2" height="2" fill="#0b5a5a"/><rect x="618.2" y="515.0" width="2" height="2" fill="#0b5a5a"/><rect x="776.2" y="431.0" width="2" height="2" fill="#0b5a5a"/><rect x="1327.0" y="523.8" width="2" height="2" fill="#0b5a5a"/><rect x="1630.3" y="504.9" width="2" height="2" fill="#0b5a5a"/><rect x="1272.2" y="511.9" width="2" height="2" fill="#0b5a5a"/><rect x="461.2" y="447.9" width="2" height="2" fill="#0b5a5a"/><rect x="130.0" y="461.7" width="2" height="2" fill="#0b5a5a"/><rect x="1509.2" y="434.3" width="2" height="2" fill="#0b5a5a"/><rect x="1332.8" y="521.9" width="2" height="2" fill="#0b5a5a"/><rect x="751.4" y="442.7" width="2" height="2" fill="#0b5a5a"/><rect x="1580.5" y="468.6" width="2" height="2" fill="#0b5a5a"/><rect x="737.8" y="454.2" width="2" height="2" fill="#0b5a5a"/><rect x="368.7" y="480.4" width="2" height="2" fill="#0b5a5a"/><rect x="75.6" y="461.1" width="2" height="2" fill="#0b5a5a"/><rect x="714.0" y="477.0" width="2" height="2" fill="#0b5a5a"/><rect x="135.8" y="462.5" width="2" height="2" fill="#0b5a5a"/><rect x="409.0" y="452.4" width="2" height="2" fill="#0b5a5a"/><rect x="1384.5" y="491.0" width="2" height="2" fill="#0b5a5a"/><rect x="510.1" y="461.8" width="2" height="2" fill="#0b5a5a"/><rect x="1218.9" y="468.2" width="2" height="2" fill="#0b5a5a"/><rect x="1693.6" y="516.9" width="2" height="2" fill="#0b5a5a"/><rect x="1576.2" y="465.7" width="2" height="2" fill="#0b5a5a"/><rect x="834.9" y="447.2" width="2" height="2" fill="#0b5a5a"/><rect x="524.7" y="468.4" width="2" height="2" fill="#0b5a5a"/><rect x="481.7" y="453.6" width="2" height="2" fill="#0b5a5a"/><rect x="71.2" y="460.5" width="2" height="2" fill="#0b5a5a"/><rect x="90.3" y="460.9" width="2" height="2" fill="#0b5a5a"/><rect x="1132.3" y="426.4" width="2" height="2" fill="#0b5a5a"/><rect x="1313.2" y="526.2" width="2" height="2" fill="#0b5a5a"/><rect x="1487.8" y="431.1" width="2" height="2" fill="#0b5a5a"/><rect x="1095.4" y="441.7" width="2" height="2" fill="#0b5a5a"/><rect x="1269.9" y="507.9" width="2" height="2" fill="#0b5a5a"/><rect x="261.2" y="499.1" width="2" height="2" fill="#0b5a5a"/><rect x="1157.6" y="429.3" width="2" height="2" fill="#0b5a5a"/><rect x="1095.4" y="441.4" width="2" height="2" fill="#0b5a5a"/><rect x="1717.8" y="508.4" width="2" height="2" fill="#0b5a5a"/><rect x="1051.7" y="477.7" width="2" height="2" fill="#0b5a5a"/><rect x="74.1" y="460.7" width="2" height="2" fill="#0b5a5a"/><rect x="1739.2" y="499.3" width="2" height="2" fill="#0b5a5a"/><rect x="172.2" y="465.1" width="2" height="2" fill="#0b5a5a"/><rect x="1745.1" y="497.2" width="2" height="2" fill="#0b5a5a"/><rect x="317.0" y="494.3" width="2" height="2" fill="#0b5a5a"/><rect x="1513.5" y="434.0" width="2" height="2" fill="#0b5a5a"/><rect x="1600.4" y="478.4" width="2" height="2" fill="#0b5a5a"/><rect x="1087.9" y="449.1" width="2" height="2" fill="#0b5a5a"/><rect x="1724.9" y="504.7" width="2" height="2" fill="#0b5a5a"/><rect x="594.0" y="515.1" width="2" height="2" fill="#0b5a5a"/><rect x="1619.1" y="496.1" width="2" height="2" fill="#0b5a5a"/><rect x="1607.8" y="483.9" width="2" height="2" fill="#0b5a5a"/><rect x="1717.8" y="509.9" width="2" height="2" fill="#0b5a5a"/><rect x="383.7" y="471.7" width="2" height="2" fill="#0b5a5a"/><rect x="1659.5" y="519.6" width="2" height="2" fill="#0b5a5a"/><rect x="303.3" y="496.8" width="2" height="2" fill="#0b5a5a"/><rect x="115.7" y="461.2" width="2" height="2" fill="#0b5a5a"/><rect x="1459.2" y="442.0" width="2" height="2" fill="#0b5a5a"/><rect x="478.8" y="451.4" width="2" height="2" fill="#0b5a5a"/><rect x="65.0" y="461.1" width="2" height="2" fill="#0b5a5a"/><rect x="339.0" y="489.9" width="2" height="2" fill="#0b5a5a"/><rect x="1658.0" y="518.2" width="2" height="2" fill="#0b5a5a"/><rect x="1675.2" y="519.3" width="2" height="2" fill="#0b5a5a"/><rect x="605.9" y="517.5" width="2" height="2" fill="#0b5a5a"/><rect x="247.4" y="495.2" width="2" height="2" fill="#0b5a5a"/><rect x="1251.8" y="489.9" width="2" height="2" fill="#0b5a5a"/><rect x="865.1" y="467.4" width="2" height="2" fill="#0b5a5a"/><rect x="914.9" y="503.3" width="2" height="2" fill="#0b5a5a"/><rect x="1629.0" y="504.2" width="2" height="2" fill="#0b5a5a"/><rect x="1714.9" y="510.1" width="2" height="2" fill="#0b5a5a"/><rect x="1567.5" y="462.7" width="2" height="2" fill="#0b5a5a"/><rect x="1392.2" y="485.0" width="2" height="2" fill="#0b5a5a"/><rect x="1481.7" y="433.0" width="2" height="2" fill="#0b5a5a"/><rect x="789.8" y="429.1" width="2" height="2" fill="#0b5a5a"/><rect x="230.2" y="489.0" width="2" height="2" fill="#0b5a5a"/><rect x="1244.8" y="486.3" width="2" height="2" fill="#0b5a5a"/><rect x="1028.1" y="493.9" width="2" height="2" fill="#0b5a5a"/><rect x="1163.3" y="433.5" width="2" height="2" fill="#0b5a5a"/><rect x="540.6" y="474.1" width="2" height="2" fill="#0b5a5a"/><rect x="900.6" y="489.9" width="2" height="2" fill="#0b5a5a"/><rect x="1325.4" y="524.0" width="2" height="2" fill="#0b5a5a"/><rect x="1099.1" y="438.6" width="2" height="2" fill="#0b5a5a"/><rect x="152.3" y="463.5" width="2" height="2" fill="#0b5a5a"/><rect x="167.1" y="463.1" width="2" height="2" fill="#0b5a5a"/>
<rect x="65.5" y="776.7" width="2" height="2" fill="#0aa80a"/><rect x="1376.9" y="824.7" width="2" height="2" fill="#0aa80a"/><rect x="1623.6" y="894.2" width="2" height="2" fill="#0aa80a"/><rect x="1653.4" y="876.9" width="2" height="2" fill="#0aa80a"/><rect x="466.0" y="827.0" width="2" height="2" fill="#0aa80a"/><rect x="1366.1" y="836.6" width="2" height="2" fill="#0aa80a"/><rect x="1473.5" y="755.3" width="2" height="2" fill="#0aa80a"/><rect x="1343.6" y="859.4" width="2" height="2" fill="#0aa80a"/><rect x="201.3" y="900.3" width="2" height="2" fill="#0aa80a"/><rect x="1101.1" y="756.8" width="2" height="2" fill="#0aa80a"/><rect x="1583.3" y="836.2" width="2" height="2" fill="#0aa80a"/><rect x="1182.9" y="854.9" width="2" height="2" fill="#0aa80a"/><rect x="847.7" y="863.0" width="2" height="2" fill="#0aa80a"/><rect x="576.7" y="893.3" width="2" height="2" fill="#0aa80a"/><rect x="90.7" y="810.4" width="2" height="2" fill="#0aa80a"/><rect x="207.4" y="899.1" width="2" height="2" fill="#0aa80a"/><rect x="474.4" y="835.4" width="2" height="2" fill="#0aa80a"/><rect x="1603.3" y="863.9" width="2" height="2" fill="#0aa80a"/><rect x="1605.6" y="868.6" width="2" height="2" fill="#0aa80a"/><rect x="637.0" y="838.3" width="2" height="2" fill="#0aa80a"/><rect x="1739.5" y="762.7" width="2" height="2" fill="#0aa80a"/><rect x="1683.9" y="832.0" width="2" height="2" fill="#0aa80a"/><rect x="55.8" y="763.8" width="2" height="2" fill="#0aa80a"/><rect x="122.7" y="850.5" width="2" height="2" fill="#0aa80a"/><rect x="723.7" y="761.1" width="2" height="2" fill="#0aa80a"/><rect x="411.7" y="770.4" width="2" height="2" fill="#0aa80a"/><rect x="1409.0" y="795.0" width="2" height="2" fill="#0aa80a"/><rect x="117.5" y="846.9" width="2" height="2" fill="#0aa80a"/><rect x="1575.1" y="823.9" width="2" height="2" fill="#0aa80a"/><rect x="318.9" y="793.7" width="2" height="2" fill="#0aa80a"/><rect x="1341.5" y="861.2" width="2" height="2" fill="#0aa80a"/><rect x="1717.2" y="783.7" width="2" height="2" fill="#0aa80a"/><rect x="225.6" y="893.6" width="2" height="2" fill="#0aa80a"/><rect x="1169.3" y="835.3" width="2" height="2" fill="#0aa80a"/><rect x="25.0" y="746.8" width="2" height="2" fill="#0aa80a"/><rect x="1022.6" y="793.8" width="2" height="2" fill="#0aa80a"/><rect x="1261.9" y="910.2" width="2" height="2" fill="#0aa80a"/><rect x="598.1" y="879.5" width="2" height="2" fill="#0aa80a"/><rect x="845.6" y="862.2" width="2" height="2" fill="#0aa80a"/><rect x="1370.4" y="832.7" width="2" height="2" fill="#0aa80a"/><rect x="471.3" y="831.7" width="2" height="2" fill="#0aa80a"/><rect x="306.8" y="805.2" width="2" height="2" fill="#0aa80a"/><rect x="428.3" y="783.6" width="2" height="2" fill="#0aa80a"/><rect x="668.4" y="800.5" width="2" height="2" fill="#0aa80a"/><rect x="261.4" y="860.7" width="2" height="2" fill="#0aa80a"/><rect x="550.7" y="892.3" width="2" height="2" fill="#0aa80a"/><rect x="1704.9" y="801.9" width="2" height="2" fill="#0aa80a"/><rect x="1630.9" y="901.0" width="2" height="2" fill="#0aa80a"/><rect x="866.5" y="881.8" width="2" height="2" fill="#0aa80a"/><rect x="1453.3" y="761.8" width="2" height="2" fill="#0aa80a"/><rect x="170.3" y="894.9" width="2" height="2" fill="#0aa80a"/><rect x="1279.9" y="907.0" width="2" height="2" fill="#0aa80a"/><rect x="84.5" y="800.7" width="2" height="2" fill="#0aa80a"/><rect x="1677.0" y="842.3" width="2" height="2" fill="#0aa80a"/><rect x="1617.6" y="886.4" width="2" height="2" fill="#0aa80a"/><rect x="605.8" y="873.3" width="2" height="2" fill="#0aa80a"/><rect x="833.4" y="848.3" width="2" height="2" fill="#0aa80a"/><rect x="1680.6" y="836.4" width="2" height="2" fill="#0aa80a"/><rect x="847.7" y="863.9" width="2" height="2" fill="#0aa80a"/><rect x="267.9" y="852.5" width="2" height="2" fill="#0aa80a"/>
<rect x="14.5" y="317.5" width="22" height="21" fill="#222a38" stroke="#f39a2e" stroke-width="2.5"/>
<path d="M13,323.5 L4,328.6 L13,333.7" fill="none" stroke="#f39a2e" stroke-width="2"/>
<text x="25.5" y="335.0" font-size="17" font-weight="700" fill="#f39a2e" text-anchor="middle">T</text>
<path d="M6.5,478 L43.5,478 L56,494 L43.5,509.5 L6.5,509.5 Z" fill="#fff" stroke="#3838b0" stroke-width="1.5"/>
<text x="11.0" y="498.5" font-size="20" fill="#3838b0" stroke="#3838b0" stroke-width="0.45">C1</text>
<path d="M6.5,460.5 L43.5,460.5 L55.7,475.8 L43.5,491.5 L6.5,491.5 Z" fill="#fff" stroke="#22b4d4" stroke-width="2"/>
<text x="14.0" y="483.6" font-size="21.5" fill="#22b4d4" textLength="21.3" lengthAdjust="spacingAndGlyphs" stroke="#22b4d4" stroke-width="0.45">C2</text>
<path d="M6,816.7 L43,816.7 L55.8,833.6 L43,850.5 L6,850.5 Z" fill="#87a616" stroke="#fff" stroke-width="1"/>
<text x="14.2" y="841.0" font-size="19.5" fill="#f4f4e0" textLength="22.4" lengthAdjust="spacingAndGlyphs" stroke="#f4f4e0" stroke-width="0.45">C4</text>
<path d="M1744.4,486.3 L1758.8,472.4 L1758.8,499.8 Z" fill="#3a3ad0"/>
<rect x="1758" y="485" width="12" height="2.6" fill="#3a3ad0"/>
<path d="M1718,880.5 L1718,895 L1721.5,891.5 L1724.5,897 L1726.5,896 L1723.7,890.5 L1728.5,890.5 Z" fill="#fff" stroke="#222" stroke-width="1"/>
<path d="M796.8,444.3 L811.4,488.6 L782.1999999999999,488.6 Z" fill="#000"/>
<path d="M796.8,487.6 L796.8,521" fill="none" stroke="#000" stroke-width="3.5" stroke-linecap="round"/>
<path d="M198.6,709 L213.4,753.4 L183.79999999999998,753.4 Z" fill="#000"/>
<path d="M198.6,752.4 L198.6,776.7" fill="none" stroke="#000" stroke-width="3.5" stroke-linecap="round"/>
<path d="M723.3,776 L738.0,820.2 L708.5999999999999,820.2 Z" fill="#000"/>
<path d="M723.3,819.2 L723.3,842.8" fill="none" stroke="#000" stroke-width="3.2" stroke-linecap="round"/>
<path d="M367,417 L389,376.7 L409,396.7 Z" fill="#000"/>
<path d="M417.2,368.4 L397,388" fill="none" stroke="#000" stroke-width="3.5" stroke-linecap="round"/>
<text x="408.5" y="366.0" font-family="Liberation Serif, DejaVu Serif, serif" font-size="84" font-style="italic" fill="#000">v</text>
<text x="449.0" y="377.2" font-family="Liberation Serif, DejaVu Serif, serif" font-size="55" fill="#000">1</text>
<text x="757.0" y="579.6" font-family="Liberation Serif, DejaVu Serif, serif" font-size="84" fill="#000">-</text>
<text x="786.0" y="579.6" font-family="Liberation Serif, DejaVu Serif, serif" font-size="84" font-style="italic" fill="#000">i</text>
<text x="812.0" y="591.7" font-family="Liberation Serif, DejaVu Serif, serif" font-size="55" fill="#000">1</text>
<text x="161.0" y="850.4" font-family="Liberation Serif, DejaVu Serif, serif" font-size="84" font-style="italic" fill="#000">v</text>
<text x="199.0" y="861.0" font-family="Liberation Serif, DejaVu Serif, serif" font-size="55" fill="#000">2</text>
<text x="698.0" y="916.8" font-family="Liberation Serif, DejaVu Serif, serif" font-size="84" font-style="italic" fill="#000">i</text>
<text x="721.0" y="927.2" font-family="Liberation Serif, DejaVu Serif, serif" font-size="55" fill="#000">2</text>
<rect x="1235" y="649.5" width="395.5" height="331.5" fill="#d9e0f1" rx="10" stroke="#000" stroke-width="2.6"/>
<text x="1270.9" y="697.8" font-family="Liberation Serif, DejaVu Serif, serif" font-size="55" font-style="italic" fill="#000">t</text>
<text x="1285.4" y="697.8" font-family="Liberation Serif, DejaVu Serif, serif" font-size="55" fill="#000">:</text>
<text x="1321.5" y="697.8" font-family="Liberation Serif, DejaVu Serif, serif" font-size="55" fill="#000" textLength="226.0" lengthAdjust="spacingAndGlyphs">10 us/ div</text>
<text x="1270.9" y="765.1" font-family="Liberation Serif, DejaVu Serif, serif" font-size="55" font-style="italic" fill="#000">v</text>
<text x="1294.0" y="772.5" font-family="Liberation Serif, DejaVu Serif, serif" font-size="31.5" fill="#000">1</text>
<text x="1312.3" y="765.1" font-family="Liberation Serif, DejaVu Serif, serif" font-size="55" fill="#000">:</text>
<text x="1346.5" y="765.1" font-family="Liberation Serif, DejaVu Serif, serif" font-size="55" fill="#000" textLength="215.0" lengthAdjust="spacingAndGlyphs">50 V/ div</text>
<text x="1270.9" y="831.7" font-family="Liberation Serif, DejaVu Serif, serif" font-size="55" font-style="italic" fill="#000">i</text>
<text x="1286.5" y="839.1" font-family="Liberation Serif, DejaVu Serif, serif" font-size="31.5" fill="#000">1</text>
<text x="1303.3" y="831.7" font-family="Liberation Serif, DejaVu Serif, serif" font-size="55" fill="#000">:</text>
<text x="1338.9" y="831.7" font-family="Liberation Serif, DejaVu Serif, serif" font-size="55" fill="#000" textLength="186.7" lengthAdjust="spacingAndGlyphs">5 A/ div</text>
<text x="1270.9" y="898.8" font-family="Liberation Serif, DejaVu Serif, serif" font-size="55" font-style="italic" fill="#000">v</text>
<text x="1294.0" y="906.2" font-family="Liberation Serif, DejaVu Serif, serif" font-size="31.5" fill="#000">2</text>
<text x="1312.3" y="898.8" font-family="Liberation Serif, DejaVu Serif, serif" font-size="55" fill="#000">:</text>
<text x="1347.0" y="898.8" font-family="Liberation Serif, DejaVu Serif, serif" font-size="55" fill="#000" textLength="214.5" lengthAdjust="spacingAndGlyphs">20 V/ div</text>
<text x="1270.9" y="965.9" font-family="Liberation Serif, DejaVu Serif, serif" font-size="55" font-style="italic" fill="#000">i</text>
<text x="1286.0" y="973.3" font-family="Liberation Serif, DejaVu Serif, serif" font-size="31.5" fill="#000">2</text>
<text x="1303.3" y="965.9" font-family="Liberation Serif, DejaVu Serif, serif" font-size="55" fill="#000">:</text>
<text x="1338.9" y="965.9" font-family="Liberation Serif, DejaVu Serif, serif" font-size="55" fill="#000" textLength="186.7" lengthAdjust="spacingAndGlyphs">5 A/ div</text>
<rect x="1806.5" y="30.5" width="200.5" height="982" fill="#fff" stroke="#6c6c6c" stroke-width="1"/>
<rect x="2006" y="30" width="2" height="983" fill="#333"/>
<text x="1836.0" y="25.7" font-size="34" font-weight="700" fill="#383d4a" textLength="142.5" lengthAdjust="spacingAndGlyphs">Tektronix</text>
<path d="M1872.3,25.8 L1878.6,25.8 L1891,6 L1884.7,6 Z" fill="#22b8dc"/>
<rect x="1812.5" y="37.3" width="89" height="62" fill="#95a3c1" rx="6" stroke="#5f6a80" stroke-width="1"/>
<rect x="1913.5" y="37.3" width="89" height="62" fill="#95a3c1" rx="6" stroke="#5f6a80" stroke-width="1"/>
<rect x="1812.5" y="110.5" width="89" height="62" fill="#95a3c1" rx="6" stroke="#5f6a80" stroke-width="1"/>
<rect x="1913.5" y="110.5" width="89" height="62" fill="#95a3c1" rx="6" stroke="#5f6a80" stroke-width="1"/>
<rect x="1812.5" y="183.5" width="89" height="62" fill="#95a3c1" rx="6" stroke="#5f6a80" stroke-width="1"/>
<rect x="1913.5" y="183.5" width="89" height="62" fill="#95a3c1" rx="6" stroke="#5f6a80" stroke-width="1"/>
<text x="1823.8" y="75.1" font-size="21" textLength="70.5" lengthAdjust="spacingAndGlyphs" stroke="#111" stroke-width="0.45">Cursors</text>
<text x="1918.6" y="75.1" font-size="21" textLength="80.3" lengthAdjust="spacingAndGlyphs" stroke="#111" stroke-width="0.45">Measure</text>
<text x="1828.5" y="148.6" font-size="21" textLength="61.6" lengthAdjust="spacingAndGlyphs" stroke="#111" stroke-width="0.45">Search</text>
<text x="1924.7" y="135.8" font-size="21" textLength="67.4" lengthAdjust="spacingAndGlyphs" stroke="#111" stroke-width="0.45">Results</text>
<text x="1936.3" y="160.4" font-size="21" textLength="48.7" lengthAdjust="spacingAndGlyphs" stroke="#111" stroke-width="0.45">Table</text>
<text x="1829.8" y="208.3" font-size="21" textLength="49.4" lengthAdjust="spacingAndGlyphs" stroke="#111" stroke-width="0.45">Draw</text>
<text x="1832.4" y="233.9" font-size="21" textLength="53.2" lengthAdjust="spacingAndGlyphs" stroke="#111" stroke-width="0.45">Zoom</text>
<text x="1922.8" y="221.7" font-size="21" textLength="71.9" lengthAdjust="spacingAndGlyphs" stroke="#111" stroke-width="0.45">More ...</text>
<rect x="1812" y="251" width="190" height="1" fill="#888"/>
<clipPath id="mc0"><rect x="1812.5" y="259.6" width="190" height="83" rx="7"/></clipPath>
<rect x="1812.5" y="259.6" width="190" height="83" fill="#fff" rx="7"/>
<rect x="1812.5" y="259.6" width="190" height="27.5" fill="#000" clip-path="url(#mc0)"/>
<rect x="1812.5" y="259.6" width="190" height="83" fill="none" rx="7" stroke="#777" stroke-width="1"/>
<rect x="1956" y="264.1" width="35" height="20" fill="#bdb833" rx="1.5" stroke="#333" stroke-width="1"/>
<text x="1973.5" y="280.4" font-size="19" font-weight="700" text-anchor="middle">1</text>
<text x="1824.4" y="307.2" font-size="20.5" textLength="96.6" lengthAdjust="spacingAndGlyphs" stroke="#111" stroke-width="0.45">Frequency</text>
<text x="1824.4" y="331.7" font-size="20.5" textLength="95.0" lengthAdjust="spacingAndGlyphs" stroke="#111" stroke-width="0.45">49.86 kHz</text>
<clipPath id="mc1"><rect x="1812.5" y="350.7" width="190" height="83" rx="7"/></clipPath>
<rect x="1812.5" y="350.7" width="190" height="83" fill="#fff" rx="7"/>
<rect x="1812.5" y="350.7" width="190" height="27.5" fill="#c6c6ca" clip-path="url(#mc1)"/>
<rect x="1812.5" y="350.7" width="190" height="83" fill="none" rx="7" stroke="#777" stroke-width="1"/>
<text x="1821.9" y="371.9" font-size="20.5" font-weight="700" textLength="67.0" lengthAdjust="spacingAndGlyphs">Meas 2</text>
<rect x="1956" y="355.2" width="35" height="20" fill="#e0609a" rx="1.5" stroke="#333" stroke-width="1"/>
<text x="1973.5" y="371.5" font-size="19" font-weight="700" text-anchor="middle">3</text>
<text x="1824.4" y="398.3" font-size="20.5" textLength="96.6" lengthAdjust="spacingAndGlyphs" stroke="#111" stroke-width="0.45">Frequency</text>
<text x="1824.4" y="422.8" font-size="20.5" textLength="88.3" lengthAdjust="spacingAndGlyphs" stroke="#111" stroke-width="0.45">50.13 kHz</text>
<clipPath id="mc2"><rect x="1812.5" y="441.8" width="190" height="83" rx="7"/></clipPath>
<rect x="1812.5" y="441.8" width="190" height="83" fill="#fff" rx="7"/>
<rect x="1812.5" y="441.8" width="190" height="27.5" fill="#c6c6ca" clip-path="url(#mc2)"/>
<rect x="1812.5" y="441.8" width="190" height="83" fill="none" rx="7" stroke="#777" stroke-width="1"/>
<text x="1821.9" y="463.0" font-size="20.5" font-weight="700" textLength="67.0" lengthAdjust="spacingAndGlyphs">Meas 3</text>
<rect x="1956" y="446.3" width="35" height="20" fill="#bdb833" rx="1.5" stroke="#333" stroke-width="1"/>
<text x="1973.5" y="462.6" font-size="19" font-weight="700" text-anchor="middle">1</text>
<text x="1824.4" y="489.4" font-size="20.5" textLength="41.6" lengthAdjust="spacingAndGlyphs" stroke="#111" stroke-width="0.45">High</text>
<text x="1824.4" y="513.9" font-size="20.5" textLength="63.9" lengthAdjust="spacingAndGlyphs" stroke="#111" stroke-width="0.45">74.0 V</text>
<clipPath id="mc3"><rect x="1812.5" y="532.9" width="190" height="83" rx="7"/></clipPath>
<rect x="1812.5" y="532.9" width="190" height="83" fill="#fff" rx="7"/>
<rect x="1812.5" y="532.9" width="190" height="27.5" fill="#c6c6ca" clip-path="url(#mc3)"/>
<rect x="1812.5" y="532.9" width="190" height="83" fill="none" rx="7" stroke="#777" stroke-width="1"/>
<text x="1821.9" y="554.1" font-size="20.5" font-weight="700" textLength="67.0" lengthAdjust="spacingAndGlyphs">Meas 4</text>
<rect x="1956" y="537.4" width="35" height="20" fill="#28c0e0" rx="1.5" stroke="#333" stroke-width="1"/>
<text x="1973.5" y="553.7" font-size="19" font-weight="700" text-anchor="middle">2</text>
<text x="1824.4" y="580.5" font-size="20.5" textLength="41.0" lengthAdjust="spacingAndGlyphs" stroke="#111" stroke-width="0.45">RMS</text>
<text x="1824.4" y="605.0" font-size="20.5" textLength="59.0" lengthAdjust="spacingAndGlyphs" stroke="#111" stroke-width="0.45">1.60 A</text>
<clipPath id="mc4"><rect x="1812.5" y="624.0" width="190" height="83" rx="7"/></clipPath>
<rect x="1812.5" y="624.0" width="190" height="83" fill="#fff" rx="7"/>
<rect x="1812.5" y="624.0" width="190" height="27.5" fill="#c6c6ca" clip-path="url(#mc4)"/>
<rect x="1812.5" y="624.0" width="190" height="83" fill="none" rx="7" stroke="#777" stroke-width="1"/>
<text x="1821.9" y="645.2" font-size="20.5" font-weight="700" textLength="67.0" lengthAdjust="spacingAndGlyphs">Meas 5</text>
<rect x="1956" y="628.5" width="35" height="20" fill="#e0609a" rx="1.5" stroke="#333" stroke-width="1"/>
<text x="1973.5" y="644.8" font-size="19" font-weight="700" text-anchor="middle">3</text>
<text x="1824.4" y="671.6" font-size="20.5" textLength="41.6" lengthAdjust="spacingAndGlyphs" stroke="#111" stroke-width="0.45">High</text>
<text x="1824.4" y="696.1" font-size="20.5" textLength="63.1" lengthAdjust="spacingAndGlyphs" stroke="#111" stroke-width="0.45">28.4 V</text>
<clipPath id="mc5"><rect x="1812.5" y="715.1" width="190" height="83" rx="7"/></clipPath>
<rect x="1812.5" y="715.1" width="190" height="83" fill="#fff" rx="7"/>
<rect x="1812.5" y="715.1" width="190" height="27.5" fill="#c6c6ca" clip-path="url(#mc5)"/>
<rect x="1812.5" y="715.1" width="190" height="83" fill="none" rx="7" stroke="#777" stroke-width="1"/>
<text x="1821.9" y="736.3" font-size="20.5" font-weight="700" textLength="67.0" lengthAdjust="spacingAndGlyphs">Meas 6</text>
<rect x="1956" y="719.6" width="35" height="20" fill="#80b414" rx="1.5" stroke="#333" stroke-width="1"/>
<text x="1973.5" y="735.9" font-size="19" font-weight="700" text-anchor="middle">4</text>
<text x="1824.4" y="762.7" font-size="20.5" textLength="41.0" lengthAdjust="spacingAndGlyphs" stroke="#111" stroke-width="0.45">RMS</text>
<text x="1824.4" y="787.2" font-size="20.5" textLength="62.4" lengthAdjust="spacingAndGlyphs" stroke="#111" stroke-width="0.45">3.03 A</text>
<rect x="1786" y="514.0" width="8" height="7" rx="2.5" fill="#111"/>
<rect x="1786" y="527.0" width="8" height="7" rx="2.5" fill="#111"/>
<rect x="1786" y="540.0" width="8" height="7" rx="2.5" fill="#111"/>
<clipPath id="cc0"><rect x="5.2" y="1017.2" width="139.4" height="108" rx="7"/></clipPath>
<rect x="5.2" y="1017.2" width="139.4" height="108" fill="#fff" rx="7"/>
<rect x="5.2" y="1017.2" width="139.4" height="27.3" fill="#2b2b4d" clip-path="url(#cc0)"/>
<rect x="5.2" y="1017.2" width="139.4" height="108" fill="none" rx="7" stroke="#666" stroke-width="1"/>
<text x="14.6" y="1038.6" font-size="21" fill="#4a4ad4" textLength="37.1" lengthAdjust="spacingAndGlyphs" stroke="#4a4ad4" stroke-width="0.45">Ch 1</text>
<text x="17.8" y="1065.8" font-size="20.5" textLength="100.2" lengthAdjust="spacingAndGlyphs" stroke="#111" stroke-width="0.45">50.0 V/div</text>
<text x="17.8" y="1090.3" font-size="20.5" textLength="47.0" lengthAdjust="spacingAndGlyphs" stroke="#111" stroke-width="0.45">1 MΩ</text>
<text x="18.3" y="1116.0" font-size="20.5" textLength="72.0" lengthAdjust="spacingAndGlyphs" stroke="#111" stroke-width="0.45">20 MHz</text>
<text x="99.2" y="1112.3" font-size="13" font-weight="700" fill="#3a3f5a">B</text>
<text x="107.2" y="1116.5" font-size="10" font-weight="700" fill="#3a3f5a">W</text>
<clipPath id="cc1"><rect x="153.3" y="1017.2" width="139.4" height="108" rx="7"/></clipPath>
<rect x="153.3" y="1017.2" width="139.4" height="108" fill="#fff" rx="7"/>
<rect x="153.3" y="1017.2" width="139.4" height="27.3" fill="#0c3a4a" clip-path="url(#cc1)"/>
<rect x="153.3" y="1017.2" width="139.4" height="108" fill="none" rx="7" stroke="#666" stroke-width="1"/>
<text x="162.7" y="1038.6" font-size="21" fill="#34c4e4" textLength="40.3" lengthAdjust="spacingAndGlyphs" stroke="#34c4e4" stroke-width="0.45">Ch 2</text>
<text x="165.9" y="1065.8" font-size="20.5" textLength="101.5" lengthAdjust="spacingAndGlyphs" stroke="#111" stroke-width="0.45">5.00 A/div</text>
<text x="165.9" y="1090.3" font-size="20.5" textLength="46.3" lengthAdjust="spacingAndGlyphs" stroke="#111" stroke-width="0.45">1 MΩ</text>
<text x="166.4" y="1116.0" font-size="20.5" textLength="71.7" lengthAdjust="spacingAndGlyphs" stroke="#111" stroke-width="0.45">20 MHz</text>
<text x="247.3" y="1112.3" font-size="13" font-weight="700" fill="#3a3f5a">B</text>
<text x="255.3" y="1116.5" font-size="10" font-weight="700" fill="#3a3f5a">W</text>
<clipPath id="cc2"><rect x="300.3" y="1017.2" width="139.4" height="108" rx="7"/></clipPath>
<rect x="300.3" y="1017.2" width="139.4" height="108" fill="#fff" rx="7"/>
<rect x="300.3" y="1017.2" width="139.4" height="27.3" fill="#4c2236" clip-path="url(#cc2)"/>
<rect x="300.3" y="1017.2" width="139.4" height="108" fill="none" rx="7" stroke="#666" stroke-width="1"/>
<text x="309.7" y="1038.6" font-size="21" fill="#e66496" textLength="39.6" lengthAdjust="spacingAndGlyphs" stroke="#e66496" stroke-width="0.45">Ch 3</text>
<text x="312.9" y="1065.8" font-size="20.5" textLength="100.1" lengthAdjust="spacingAndGlyphs" stroke="#111" stroke-width="0.45">20.0 V/div</text>
<text x="312.9" y="1090.3" font-size="20.5" textLength="47.0" lengthAdjust="spacingAndGlyphs" stroke="#111" stroke-width="0.45">1 MΩ</text>
<text x="313.4" y="1116.0" font-size="20.5" textLength="72.4" lengthAdjust="spacingAndGlyphs" stroke="#111" stroke-width="0.45">20 MHz</text>
<text x="394.3" y="1112.3" font-size="13" font-weight="700" fill="#3a3f5a">B</text>
<text x="402.3" y="1116.5" font-size="10" font-weight="700" fill="#3a3f5a">W</text>
<clipPath id="cc3"><rect x="448.4" y="1017.2" width="139.4" height="108" rx="7"/></clipPath>
<rect x="448.4" y="1017.2" width="139.4" height="108" fill="#fff" rx="7"/>
<rect x="448.4" y="1017.2" width="139.4" height="27.3" fill="#7cb00a" clip-path="url(#cc3)"/>
<rect x="448.4" y="1017.2" width="139.4" height="108" fill="none" rx="7" stroke="#666" stroke-width="1"/>
<text x="457.8" y="1038.6" font-size="21" fill="#1a2410" textLength="41.8" lengthAdjust="spacingAndGlyphs" stroke="#1a2410" stroke-width="0.45">Ch 4</text>
<text x="461.0" y="1065.8" font-size="20.5" textLength="101.9" lengthAdjust="spacingAndGlyphs" stroke="#111" stroke-width="0.45">5.00 A/div</text>
<text x="461.0" y="1090.3" font-size="20.5" textLength="47.0" lengthAdjust="spacingAndGlyphs" stroke="#111" stroke-width="0.45">1 MΩ</text>
<text x="461.5" y="1116.0" font-size="20.5" textLength="72.1" lengthAdjust="spacingAndGlyphs" stroke="#111" stroke-width="0.45">20 MHz</text>
<text x="542.4" y="1112.3" font-size="13" font-weight="700" fill="#3a3f5a">B</text>
<text x="550.4" y="1116.5" font-size="10" font-weight="700" fill="#3a3f5a">W</text>
<path d="M222.3,1080 C223.5,1076.5 226.5,1075.5 228.3,1080 C230,1085 230.5,1090 232.5,1089.8 C234,1089.6 234.6,1088 235.2,1086.6" fill="none" stroke="#151922" stroke-width="2.6" stroke-linecap="round"/>
<path d="M370.8,1023.5 L370.8,1030" fill="none" stroke="#1a2030" stroke-width="2.2"/>
<path d="M365,1029.7 L378,1029.7 L370.6,1038.8 Z" fill="#1a2030" stroke="#d8d0dc" stroke-width="0.9"/>
<rect x="1227.5" y="1017.5" width="61.5" height="108" fill="#95a3c1" rx="7" stroke="#5f6a80" stroke-width="1"/>
<text x="1235.0" y="1053.8" font-size="21" textLength="48.3" lengthAdjust="spacingAndGlyphs" stroke="#111" stroke-width="0.45">Math</text>
<text x="1242.7" y="1078.3" font-size="21" textLength="32.3" lengthAdjust="spacingAndGlyphs" stroke="#111" stroke-width="0.45">Ref</text>
<text x="1244.5" y="1103.4" font-size="21" textLength="31.1" lengthAdjust="spacingAndGlyphs" stroke="#111" stroke-width="0.45">Bus</text>
<clipPath id="ph"><rect x="1302.3" y="1017.3" width="150.5" height="108" rx="7"/></clipPath>
<rect x="1302.3" y="1017.3" width="150.5" height="108" fill="#fff" rx="7"/>
<rect x="1302.3" y="1017.3" width="150.5" height="27.2" fill="#c6c6ca" clip-path="url(#ph)"/>
<rect x="1302.3" y="1017.3" width="150.5" height="108" fill="none" rx="7" stroke="#777" stroke-width="1"/>
<text x="1310.8" y="1038.9" font-size="20.5" font-weight="700" textLength="98.6" lengthAdjust="spacingAndGlyphs">Horizontal</text>
<text x="1315.6" y="1065.8" font-size="20.5" textLength="112.4" lengthAdjust="spacingAndGlyphs" stroke="#111" stroke-width="0.45">2.00 ms/div</text>
<text x="1315.6" y="1090.9" font-size="20.5" textLength="126.7" lengthAdjust="spacingAndGlyphs" stroke="#111" stroke-width="0.45">SR:50.0 MS/s</text>
<text x="1315.0" y="1116.0" font-size="20.5" textLength="95.0" lengthAdjust="spacingAndGlyphs" stroke="#111" stroke-width="0.45">RL:1 Mpts</text>
<clipPath id="pt"><rect x="1465.3" y="1017.3" width="150" height="108" rx="7"/></clipPath>
<rect x="1465.3" y="1017.3" width="150" height="108" fill="#fff" rx="7"/>
<rect x="1465.3" y="1017.3" width="150" height="27.2" fill="#c6c6ca" clip-path="url(#pt)"/>
<rect x="1465.3" y="1017.3" width="150" height="108" fill="none" rx="7" stroke="#777" stroke-width="1"/>
<text x="1475.6" y="1038.3" font-size="20.5" font-weight="700" textLength="66.6" lengthAdjust="spacingAndGlyphs">Trigger</text>
<rect x="1569.5" y="1021.5" width="35" height="20" fill="#bdb833" rx="1.5" stroke="#333" stroke-width="1"/>
<text x="1587.0" y="1038.3" font-size="19" font-weight="700" text-anchor="middle">1</text>
<path d="M1478,1066 L1486,1066 L1494,1054 L1501,1054" fill="none" stroke="#111" stroke-width="2.2"/>
<text x="1541.7" y="1065.4" font-size="20.5" textLength="61.3" lengthAdjust="spacingAndGlyphs" stroke="#111" stroke-width="0.45">5.00 V</text>
<text x="1478.0" y="1091.0" font-size="20.5" textLength="89.6" lengthAdjust="spacingAndGlyphs" stroke="#111" stroke-width="0.45">Noise Rej</text>
<clipPath id="pa"><rect x="1628.4" y="1017.3" width="150.1" height="108" rx="7"/></clipPath>
<rect x="1628.4" y="1017.3" width="150.1" height="108" fill="#fff" rx="7"/>
<rect x="1628.4" y="1017.3" width="150.1" height="27.2" fill="#c6c6ca" clip-path="url(#pa)"/>
<rect x="1628.4" y="1017.3" width="150.1" height="108" fill="none" rx="7" stroke="#777" stroke-width="1"/>
<text x="1638.3" y="1038.3" font-size="20.5" font-weight="700" textLength="106.0" lengthAdjust="spacingAndGlyphs">Acquisition</text>
<text x="1641.6" y="1065.4" font-size="20.5" textLength="66.6" lengthAdjust="spacingAndGlyphs" stroke="#111" stroke-width="0.45">Sample</text>
<text x="1641.6" y="1091.0" font-size="20.5" textLength="92.0" lengthAdjust="spacingAndGlyphs" stroke="#111" stroke-width="0.45">Single: 1/1</text>
<rect x="1792.5" y="1017.5" width="61" height="108" fill="#95a3c1" rx="7" stroke="#5f6a80" stroke-width="1"/>
<rect x="1801" y="1028.8" width="44" height="4.4" fill="#e07428" rx="1"/>
<text x="1813.0" y="1078.8" font-size="21" font-weight="700" textLength="21.0" lengthAdjust="spacingAndGlyphs">RF</text>
<rect x="1867.5" y="1017.5" width="135" height="49.7" fill="#d23737" rx="7" stroke="#8a5050" stroke-width="1"/>
<text x="1897.5" y="1049.9" font-size="21" font-weight="700" textLength="79.5" lengthAdjust="spacingAndGlyphs">Stopped</text>
<rect x="1867.5" y="1074.5" width="135" height="50.9" fill="#fff" rx="7" stroke="#777" stroke-width="1"/>
<text x="1879.7" y="1093.6" font-size="20.5" textLength="112.1" lengthAdjust="spacingAndGlyphs" stroke="#111" stroke-width="0.45">5 May 2025</text>
<text x="1898.7" y="1119.1" font-size="20.5" textLength="73.2" lengthAdjust="spacingAndGlyphs" stroke="#111" stroke-width="0.45">19:06:23</text>
<rect x="0" y="1128.5" width="2008" height="1.5" fill="#3a3f4a"/>
<text x="46.1" y="20.4" font-size="20.5" fill="#1a1a1a" textLength="29.3" lengthAdjust="spacingAndGlyphs" stroke="#1a1a1a" stroke-width="0.45">File</text>
<text x="189.0" y="20.4" font-size="20.5" fill="#1a1a1a" textLength="57.7" lengthAdjust="spacingAndGlyphs" stroke="#1a1a1a" stroke-width="0.45">Utility</text>
<text x="354.6" y="20.4" font-size="20.5" fill="#1a1a1a" textLength="39.7" lengthAdjust="spacingAndGlyphs" stroke="#1a1a1a" stroke-width="0.45">Help</text>
</svg>
</body></html>
